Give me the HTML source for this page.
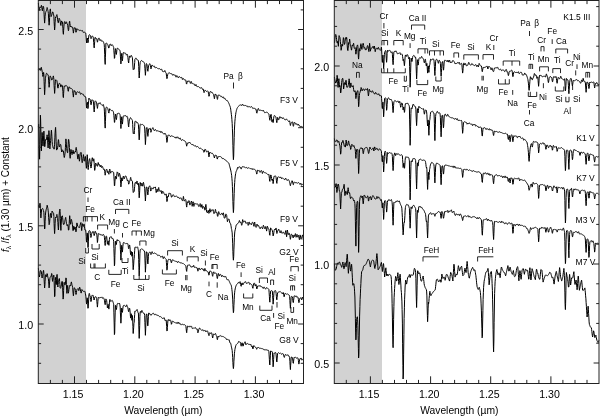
<!DOCTYPE html>
<html lang="en"><head><meta charset="utf-8"><title>J-band spectra of F, G, K and M stars</title>
<style>html,body{margin:0;padding:0;background:#fff}body{width:600px;height:416px;overflow:hidden}svg{display:block}</style>
</head><body>
<svg width="600" height="416" viewBox="0 0 600 416" font-family="'Liberation Sans', sans-serif" fill="#000">
<rect width="600" height="416" fill="#fff"/>
<rect x="38.3" y="0.5" width="47.7" height="383.0" fill="#d2d2d2" stroke="none"/><rect x="334.3" y="0.5" width="47.7" height="383.0" fill="#d2d2d2" stroke="none"/>
<g fill="none" stroke="#000" stroke-width="1.0" stroke-linejoin="round">
<polyline points="38.4,3.1 38.6,5.7 38.9,8.3 39.1,10.6 39.4,9.5 39.6,8.3 39.9,7.2 40.1,7.3 40.4,7.6 40.6,7.8 40.9,7.2 41.1,6.2 41.4,5.3 41.6,5.8 41.9,7.8 42.1,9.7 42.4,10.8 42.6,9.1 42.9,7.5 43.1,6.2 43.4,6.5 43.6,7.1 43.9,9.5 44.1,14.8 44.4,20.0 44.6,23.1 44.9,19.7 45.1,16.3 45.4,12.8 45.6,12.6 45.9,11.8 46.1,11.2 46.4,10.8 46.6,9.6 46.9,8.5 47.1,7.5 47.4,8.3 47.6,9.4 47.9,10.5 48.1,11.5 48.4,13.7 48.6,18.1 48.9,22.4 49.1,25.2 49.4,22.1 49.6,17.6 49.9,11.9 50.1,9.7 50.4,8.9 50.6,11.5 50.9,14.2 51.1,16.6 51.4,16.1 51.6,15.4 51.9,14.7 52.1,13.7 52.4,12.8 52.6,11.9 52.9,12.0 53.1,12.8 53.4,13.7 53.6,14.8 53.9,16.2 54.1,21.5 54.4,26.4 54.6,30.0 54.9,27.0 55.1,22.2 55.4,18.4 55.6,17.0 55.9,17.4 56.1,16.6 56.4,15.8 56.6,15.1 56.9,14.6 57.1,15.9 57.4,17.2 57.6,19.8 57.9,21.6 58.1,22.7 58.4,22.7 58.6,20.7 58.9,19.4 59.1,18.2 59.4,18.7 59.6,19.2 59.9,19.8 60.1,21.1 60.4,23.0 60.6,24.9 60.9,25.5 61.1,23.9 61.4,22.3 61.6,21.0 61.9,21.2 62.1,21.6 62.4,21.9 62.6,24.2 62.9,28.3 63.1,32.4 63.4,34.3 63.6,30.6 63.9,26.8 64.2,22.9 64.4,22.1 64.7,21.5 64.9,21.7 65.2,22.6 65.4,23.5 65.7,23.8 65.9,23.0 66.2,22.2 66.4,21.8 66.7,22.5 66.9,23.3 67.2,24.0 67.4,24.1 67.7,25.3 67.9,27.1 68.2,29.5 68.4,30.7 68.7,29.8 68.9,27.1 69.2,23.7 69.4,21.7 69.7,21.2 69.9,23.3 70.2,25.3 70.4,27.0 70.7,26.7 70.9,26.4 71.2,26.1 71.4,26.4 71.7,26.8 71.9,27.3 72.2,27.3 72.4,27.0 72.7,27.2 72.9,29.2 73.2,31.2 73.4,33.1 73.7,31.1 73.9,29.5 74.2,27.9 74.4,27.8 74.7,27.7 74.9,27.7 75.2,27.8 75.4,29.1 75.7,30.7 75.9,32.3 76.2,32.1 76.4,30.6 76.7,29.1 76.9,28.6 77.2,29.2 77.4,29.7 77.7,29.9 77.9,29.8 78.2,29.7 78.4,29.8 78.7,29.9 78.9,29.9 79.2,30.0 79.4,30.2 79.7,30.6 79.9,30.9 80.2,30.7 80.4,30.5 80.7,30.2 80.9,30.3 81.2,30.5 81.4,30.7 81.7,30.9 81.9,30.7 82.2,30.6 82.4,30.5 82.7,31.1 82.9,31.7 83.2,32.3 83.4,32.5 83.7,32.5 83.9,32.5 84.2,32.4 84.4,32.3 84.7,32.2 84.9,32.3 85.2,32.5 85.4,32.8 85.7,33.1 85.9,34.7 86.2,37.9 86.4,41.0 86.7,43.0 86.9,40.8 87.2,38.5 87.4,38.0 87.7,40.5 87.9,42.8 88.2,42.2 88.4,39.6 88.7,37.0 88.9,35.3 89.2,35.0 89.4,34.7 89.7,34.7 89.9,34.9 90.2,35.2 90.4,36.3 90.7,37.4 90.9,38.6 91.2,38.5 91.4,37.6 91.7,36.7 91.9,36.1 92.2,36.1 92.4,36.1 92.7,36.2 92.9,36.5 93.2,37.1 93.4,38.8 93.7,42.3 93.9,45.8 94.2,47.9 94.4,45.2 94.7,41.7 94.9,38.0 95.2,37.3 95.4,37.5 95.7,38.1 95.9,38.8 96.2,38.9 96.4,38.7 96.7,38.7 96.9,39.6 97.2,41.0 97.4,42.2 97.7,41.4 97.9,40.2 98.2,38.9 98.4,38.4 98.7,38.3 98.9,38.3 99.2,38.2 99.4,38.9 99.7,39.7 99.9,40.5 100.2,40.6 100.4,40.1 100.7,39.7 100.9,39.7 101.2,40.2 101.4,40.8 101.7,41.3 101.9,41.2 102.2,41.1 102.4,41.0 102.7,41.1 102.9,41.3 103.2,41.5 103.4,41.9 103.7,42.6 103.9,43.4 104.2,44.1 104.4,47.3 104.7,54.3 104.9,61.0 105.2,64.4 105.4,57.3 105.7,49.9 105.9,43.3 106.2,43.0 106.4,42.9 106.7,43.1 106.9,43.4 107.2,43.9 107.4,44.2 107.7,44.6 107.9,45.0 108.2,45.9 108.4,47.0 108.7,48.0 108.9,48.1 109.2,46.9 109.4,45.6 109.7,44.5 109.9,44.3 110.2,44.1 110.4,44.0 110.7,44.6 110.9,45.2 111.2,45.8 111.4,45.5 111.7,45.1 111.9,44.7 112.2,44.7 112.4,45.0 112.7,45.3 112.9,45.7 113.2,46.2 113.4,46.8 113.7,47.5 113.9,50.8 114.2,54.7 114.4,58.4 114.7,57.8 114.9,54.2 115.2,50.5 115.4,48.6 115.7,50.2 115.9,52.5 116.2,54.4 116.4,54.4 116.7,52.0 116.9,49.7 117.2,48.2 117.4,48.2 117.7,48.3 117.9,48.5 118.2,48.7 118.4,49.0 118.7,49.2 118.9,49.5 119.2,49.8 119.4,49.9 119.7,50.1 119.9,50.4 120.2,51.8 120.4,56.1 120.7,60.3 120.9,63.9 121.2,60.3 121.4,56.5 121.7,53.4 121.9,55.5 122.2,58.2 122.4,60.8 122.7,58.3 122.9,55.6 123.2,52.9 123.4,52.5 123.7,52.7 123.9,53.0 124.2,53.1 124.4,53.0 124.7,53.0 124.9,53.0 125.2,53.1 125.4,53.2 125.7,53.4 125.9,54.0 126.2,54.6 126.4,55.2 126.7,54.9 126.9,54.5 127.2,54.2 127.4,54.8 127.7,55.7 127.9,57.6 128.2,60.1 128.4,62.1 128.7,63.0 128.9,60.5 129.2,58.3 129.4,56.0 129.7,56.0 129.9,56.4 130.2,56.8 130.4,57.3 130.7,56.6 130.9,56.0 131.2,55.3 131.4,55.5 131.7,55.9 131.9,56.5 132.2,57.1 132.4,57.9 132.7,62.0 132.9,66.0 133.2,69.7 133.4,69.3 133.7,69.2 133.9,68.9 134.2,69.2 134.4,66.0 134.7,62.6 134.9,59.3 135.2,58.9 135.4,58.5 135.7,58.2 135.9,57.9 136.2,58.2 136.4,58.8 136.7,59.4 136.9,59.7 137.2,59.8 137.4,59.9 137.7,60.0 137.9,60.0 138.2,60.2 138.4,60.5 138.7,66.5 138.9,72.4 139.2,78.0 139.4,75.3 139.7,70.3 139.9,65.1 140.2,62.6 140.4,61.9 140.7,61.3 140.9,60.9 141.2,60.7 141.4,60.5 141.7,60.5 141.9,60.8 142.2,61.1 142.4,61.4 142.7,61.4 142.9,61.5 143.2,61.5 143.4,61.7 143.7,62.0 143.9,62.3 144.2,62.8 144.4,63.3 144.7,64.6 144.9,68.5 145.2,72.0 145.4,75.3 145.7,71.5 145.9,68.0 146.2,64.3 146.4,63.5 146.7,63.8 146.9,64.2 147.2,66.1 147.4,68.6 147.7,70.9 147.9,71.3 148.2,69.1 148.4,67.0 148.7,65.3 148.9,65.1 149.2,64.5 149.4,63.9 149.7,63.6 149.9,63.9 150.2,64.4 150.4,65.7 150.7,67.3 150.9,68.9 151.2,68.5 151.4,67.2 151.7,65.8 151.9,65.1 152.2,65.1 152.4,65.5 152.7,66.0 152.9,66.2 153.2,66.3 153.4,66.3 153.7,66.3 153.9,66.2 154.2,66.1 154.4,66.1 154.7,66.7 154.9,67.3 155.2,68.0 155.4,68.0 155.7,67.7 155.9,67.5 156.2,67.5 156.4,67.5 156.7,67.6 156.9,67.7 157.2,67.9 157.4,68.1 157.7,68.4 157.9,68.6 158.2,68.9 158.4,69.1 158.7,68.9 158.9,68.6 159.2,68.3 159.4,68.5 159.7,68.9 159.9,69.2 160.2,69.4 160.4,69.4 160.7,69.5 160.9,69.4 161.2,69.3 161.4,69.1 161.7,69.1 161.9,69.8 162.2,70.6 162.4,71.3 162.7,71.4 162.9,71.4 163.2,71.5 163.4,71.7 163.7,71.8 163.9,72.0 164.2,71.7 164.4,71.2 164.7,70.6 164.9,70.5 165.2,71.2 165.4,71.9 165.7,72.5 165.9,72.8 166.2,73.1 166.4,75.0 166.7,76.9 166.9,78.7 167.2,78.1 167.4,76.4 167.7,74.7 167.9,73.9 168.2,73.7 168.4,73.2 168.7,72.8 168.9,72.6 169.2,72.8 169.4,72.9 169.7,73.1 169.9,73.2 170.2,73.4 170.4,73.5 170.7,73.6 170.9,73.7 171.2,73.8 171.4,73.8 171.7,73.8 171.9,73.7 172.2,74.1 172.4,74.6 172.7,75.2 172.9,75.4 173.2,75.0 173.4,74.6 173.7,74.3 173.9,74.6 174.2,74.9 174.4,75.2 174.7,75.1 174.9,75.1 175.2,75.0 175.4,75.6 175.7,76.4 175.9,77.1 176.2,77.1 176.4,76.4 176.7,75.7 176.9,75.5 177.2,75.9 177.4,76.3 177.7,76.8 177.9,77.2 178.2,77.6 178.4,78.0 178.7,77.5 178.9,76.9 179.2,76.4 179.4,76.5 179.7,76.8 179.9,77.0 180.2,77.3 180.4,77.5 180.7,77.7 180.9,77.8 181.2,77.6 181.4,77.4 181.7,77.3 181.9,78.0 182.2,78.7 182.4,79.5 182.7,79.1 182.9,78.7 183.2,78.3 183.4,78.6 183.7,79.1 183.9,79.6 184.2,79.8 184.4,79.8 184.7,79.7 184.9,79.7 185.2,79.8 185.4,79.8 185.7,80.0 185.9,80.8 186.2,82.3 186.4,83.7 186.7,84.1 186.9,82.9 187.2,81.6 187.4,80.9 187.7,81.3 187.9,81.8 188.2,81.7 188.4,81.3 188.7,80.9 188.9,80.7 189.2,81.0 189.4,81.2 189.7,81.6 189.9,82.2 190.2,82.8 190.4,83.4 190.7,82.8 190.9,82.1 191.2,81.4 191.4,81.9 191.7,82.7 191.9,83.5 192.2,83.8 192.4,83.7 192.7,83.5 192.9,83.5 193.2,83.7 193.4,83.8 193.7,84.0 193.9,84.0 194.2,84.0 194.4,84.1 194.7,84.7 194.9,85.4 195.2,86.0 195.4,85.7 195.7,85.1 195.9,84.5 196.2,84.7 196.4,85.5 196.7,86.2 196.9,86.6 197.2,86.6 197.4,86.6 197.7,86.6 197.9,86.6 198.2,86.6 198.4,86.5 198.7,86.7 198.9,86.9 199.2,87.1 199.4,87.4 199.7,87.8 199.9,88.1 200.2,88.1 200.4,88.0 200.7,87.9 200.9,87.8 201.2,87.7 201.4,87.6 201.7,87.7 201.9,88.2 202.2,88.8 202.4,89.3 202.7,89.2 202.9,89.1 203.2,89.0 203.4,90.0 203.7,91.3 203.9,92.5 204.2,92.5 204.4,91.6 204.7,90.7 204.9,90.2 205.2,90.3 205.4,90.4 205.7,90.5 205.9,90.8 206.2,91.2 206.4,91.5 206.7,91.3 206.9,91.1 207.2,90.9 207.4,91.0 207.7,91.1 207.9,91.3 208.2,91.6 208.4,93.1 208.7,94.7 208.9,96.3 209.2,96.1 209.4,94.8 209.7,93.3 209.9,92.1 210.2,91.7 210.4,91.3 210.7,91.6 210.9,92.0 211.2,92.4 211.4,92.4 211.7,92.2 211.9,92.1 212.2,92.3 212.4,92.8 212.7,93.3 212.9,93.7 213.2,93.9 213.4,94.2 213.7,94.7 213.9,96.1 214.2,97.5 214.4,98.7 214.7,97.2 214.9,95.6 215.2,94.0 215.4,94.0 215.7,94.5 215.9,95.1 216.2,95.2 216.4,94.9 216.7,95.4 216.9,96.8 217.2,98.6 217.4,99.4 217.7,98.4 217.9,96.7 218.2,95.4 218.4,95.0 218.7,95.0 218.9,95.1 219.2,95.2 219.4,95.3 219.7,95.3 219.9,95.4 220.2,95.6 220.4,96.0 220.7,96.5 220.9,96.7 221.2,96.5 221.4,96.4 221.7,96.4 221.9,96.9 222.2,97.3 222.4,97.7 222.7,97.4 222.9,97.1 223.2,96.8 223.4,97.2 223.7,97.8 223.9,98.4 224.2,98.5 224.4,98.3 224.7,98.1 224.9,98.2 225.2,98.8 225.4,99.4 225.7,99.9 225.9,100.1 226.2,100.2 226.4,100.4 226.7,100.4 226.9,100.4 227.2,100.4 227.4,100.7 227.7,101.2 227.9,101.6 228.2,102.0 228.4,102.4 228.7,102.9 228.9,103.4 229.2,104.1 229.4,104.7 229.7,105.5 229.9,106.0 230.2,106.7 230.4,107.5 230.7,109.1 230.9,110.8 231.2,112.9 231.4,114.7 231.7,116.9 231.9,119.7 232.2,123.6 232.4,128.8 232.7,136.0 232.9,145.3 233.2,155.0 233.4,159.7 233.7,156.0 233.9,146.8 234.2,137.5 234.4,130.1 234.7,124.9 234.9,121.2 235.2,118.4 235.4,116.1 235.7,114.3 235.9,112.7 236.2,111.5 236.4,110.4 236.7,109.5 236.9,108.7 237.2,108.2 237.4,107.7 237.7,107.3 237.9,107.0 238.2,106.7 238.4,106.5 238.7,106.1 238.9,105.8 239.2,105.5 239.4,105.3 239.7,105.1 239.9,105.0 240.2,104.9 240.4,104.9 240.7,105.0 240.9,105.1 241.2,105.3 241.4,105.5 241.7,105.5 241.9,105.0 242.2,104.5 242.4,104.0 242.7,104.5 242.9,105.0 243.2,105.5 243.4,105.4 243.7,105.3 243.9,105.1 244.2,105.2 244.4,105.4 244.7,105.7 244.9,105.8 245.2,105.7 245.4,105.5 245.7,105.4 245.9,105.7 246.2,106.0 246.4,106.2 246.7,106.1 246.9,106.0 247.2,105.9 247.4,106.3 247.7,106.7 247.9,107.1 248.2,107.1 248.4,106.8 248.7,106.5 248.9,106.4 249.2,106.5 249.4,106.6 249.7,106.8 249.9,107.0 250.2,107.2 250.4,107.4 250.7,107.1 250.9,106.7 251.2,106.4 251.4,106.5 251.7,106.7 251.9,106.9 252.2,107.3 252.4,107.8 252.7,108.4 252.9,108.6 253.2,108.5 253.4,108.3 253.7,108.1 253.9,108.1 254.2,108.1 254.4,108.1 254.7,108.4 254.9,108.8 255.2,109.1 255.4,109.1 255.7,109.0 255.9,108.9 256.1,109.8 256.4,111.3 256.6,112.8 256.9,113.2 257.1,112.0 257.4,110.7 257.6,109.6 257.9,109.2 258.1,108.8 258.4,108.4 258.6,109.1 258.9,109.8 259.1,110.5 259.4,110.4 259.6,110.2 259.9,109.9 260.1,109.9 260.4,110.1 260.6,110.3 260.9,110.4 261.1,110.4 261.4,110.5 261.6,110.5 261.9,110.7 262.1,110.8 262.4,110.9 262.6,110.6 262.9,110.3 263.1,110.0 263.4,110.3 263.6,110.9 263.9,111.4 264.1,111.9 264.4,112.3 264.6,112.7 264.9,112.9 265.1,112.8 265.4,112.6 265.6,112.5 265.9,112.4 266.1,112.3 266.4,112.2 266.6,112.2 266.9,112.2 267.1,112.2 267.4,112.4 267.6,112.7 267.9,113.0 268.1,113.3 268.4,113.5 268.6,113.8 268.9,114.1 269.1,115.4 269.4,117.5 269.6,119.5 269.9,120.3 270.1,118.7 270.4,117.0 270.6,115.0 270.9,114.6 271.1,114.3 271.4,116.3 271.6,119.1 271.9,121.8 272.1,121.7 272.4,119.7 272.6,119.8 272.9,120.6 273.1,122.6 273.4,121.1 273.6,118.8 273.9,116.6 274.1,115.7 274.4,115.6 274.6,115.7 274.9,115.8 275.1,116.0 275.4,116.2 275.6,116.6 275.9,116.9 276.1,118.3 276.4,120.3 276.6,122.3 276.9,122.7 277.1,120.8 277.4,118.9 277.6,117.4 277.9,117.9 278.1,118.4 278.4,119.6 278.6,119.7 278.9,119.7 279.1,118.8 279.4,117.9 279.6,117.1 279.9,116.6 280.1,116.9 280.4,117.4 280.6,117.9 280.9,118.1 281.1,117.8 281.4,117.6 281.6,117.5 281.9,117.9 282.1,118.3 282.4,118.7 282.6,118.3 282.9,118.0 283.1,117.6 283.4,117.9 283.6,118.3 283.9,118.8 284.1,119.1 284.4,119.3 284.6,119.6 284.9,119.8 285.1,119.9 285.4,119.9 285.6,120.0 285.9,119.6 286.1,119.2 286.4,118.9 286.6,119.2 286.9,119.4 287.1,119.7 287.4,120.0 287.6,120.2 287.9,120.5 288.1,120.8 288.4,121.1 288.6,121.5 288.9,121.6 289.1,121.2 289.4,120.8 289.6,120.9 289.9,122.4 290.1,124.0 290.4,125.5 290.6,124.7 290.9,123.8 291.1,123.0 291.4,122.5 291.6,122.2 291.9,121.9 292.1,121.8 292.4,121.9 292.6,122.5 292.9,123.8 293.1,125.5 293.4,126.3 293.6,125.7 293.9,124.1 294.1,122.7 294.4,122.1 294.6,122.4 294.9,122.7 295.1,123.0 295.4,123.4 295.6,123.9 295.9,124.3 296.1,124.4 296.4,124.0 296.6,123.7 296.9,123.8 297.1,124.3 297.4,124.8 297.6,125.2 297.9,124.8 298.1,124.4 298.4,124.0 298.6,124.6 298.9,125.2 299.1,125.8 299.4,125.9 299.6,125.9 299.9,125.8 300.1,126.1 300.4,126.5 300.6,126.9 300.9,127.1 301.1,126.8 301.4,126.6 301.6,126.4 301.9,126.6 302.1,126.8 302.4,127.0 302.6,127.1 302.9,127.2 303.1,127.4 303.4,127.7"/><polyline points="38.4,69.8 38.6,70.1 38.9,70.3 39.1,70.0 39.4,69.6 39.6,69.1 39.9,69.1 40.1,69.6 40.4,70.4 40.6,70.2 40.9,68.8 41.1,67.7 41.4,67.3 41.6,68.9 41.9,70.0 42.1,71.1 42.4,72.4 42.6,74.4 42.9,76.5 43.1,75.9 43.4,74.3 43.6,72.4 43.9,74.6 44.1,81.7 44.4,89.6 44.6,94.7 44.9,90.0 45.1,84.2 45.4,78.2 45.6,77.2 45.9,75.7 46.1,74.4 46.4,73.4 46.6,73.3 46.9,73.4 47.1,73.9 47.4,74.3 47.6,74.5 47.9,74.6 48.1,74.9 48.4,76.4 48.6,80.2 48.9,84.3 49.1,87.3 49.4,84.9 49.6,81.3 49.9,77.1 50.1,75.9 50.4,76.1 50.6,76.6 50.9,77.2 51.1,77.9 51.4,78.8 51.6,79.9 51.9,80.1 52.1,79.8 52.4,79.4 52.6,78.8 52.9,77.8 53.1,76.5 53.4,75.9 53.6,77.3 53.9,79.5 54.1,85.6 54.4,89.9 54.6,93.4 54.9,90.1 55.1,85.4 55.4,81.2 55.6,79.8 55.9,79.9 56.1,80.0 56.4,80.1 56.6,80.3 56.9,80.6 57.1,82.1 57.4,84.0 57.6,87.2 57.9,88.1 58.1,88.1 58.4,86.2 58.6,84.9 58.9,84.1 59.1,83.4 59.4,83.3 59.6,83.6 59.9,83.5 60.1,84.0 60.4,84.7 60.6,86.1 60.9,87.1 61.1,86.3 61.4,85.4 61.6,84.8 61.9,85.4 62.1,86.1 62.4,85.8 62.6,87.9 62.9,91.6 63.1,96.3 63.4,97.6 63.6,93.7 63.9,89.4 64.2,86.0 64.4,85.9 64.7,86.1 64.9,86.3 65.2,86.3 65.4,86.1 65.7,85.5 65.9,85.4 66.2,85.4 66.4,85.9 66.7,86.2 66.9,86.4 67.2,86.5 67.4,86.7 67.7,87.8 67.9,89.7 68.2,91.3 68.4,91.2 68.7,89.1 68.9,87.3 69.2,86.8 69.4,87.6 69.7,88.1 69.9,87.9 70.2,87.9 70.4,88.3 70.7,88.5 70.9,88.7 71.2,88.4 71.4,88.5 71.7,88.7 71.9,89.0 72.2,89.3 72.4,89.5 72.7,90.6 72.9,93.4 73.2,95.5 73.4,97.1 73.7,93.9 73.9,92.2 74.2,90.5 74.4,91.2 74.7,91.4 74.9,91.4 75.2,91.3 75.4,92.3 75.7,93.7 75.9,94.9 76.2,94.5 76.4,93.4 76.7,92.4 76.9,92.0 77.2,91.9 77.4,91.8 77.7,91.7 77.9,92.0 78.2,92.3 78.4,92.4 78.7,92.3 78.9,92.2 79.2,92.0 79.4,91.9 79.7,91.9 79.9,92.6 80.2,93.5 80.4,94.2 80.7,94.3 80.9,93.7 81.2,93.4 81.4,93.3 81.7,93.8 81.9,93.9 82.2,94.1 82.4,94.1 82.7,94.1 82.9,94.1 83.2,94.1 83.4,94.5 83.7,95.2 83.9,95.9 84.2,96.3 84.4,96.2 84.7,96.1 84.9,96.0 85.2,96.3 85.4,96.7 85.7,97.0 85.9,98.8 86.2,102.4 86.4,106.1 86.7,108.1 86.9,105.3 87.2,102.4 87.4,102.1 87.7,105.4 87.9,108.6 88.2,107.8 88.4,104.1 88.7,100.4 88.9,98.1 89.2,98.4 89.4,98.8 89.7,99.3 89.9,99.3 90.2,99.4 90.4,100.8 90.7,102.8 90.9,104.7 91.2,104.7 91.4,103.1 91.7,101.2 91.9,99.9 92.2,99.8 92.4,100.0 92.7,100.2 92.9,100.5 93.2,100.5 93.4,101.8 93.7,105.0 93.9,109.3 94.2,112.0 94.4,109.5 94.7,105.8 94.9,101.8 95.2,101.0 95.4,100.8 95.7,101.1 95.9,101.4 96.2,101.8 96.4,102.2 96.7,103.0 96.9,105.0 97.2,106.8 97.4,108.4 97.7,106.8 97.9,105.1 98.2,103.4 98.4,103.0 98.7,103.2 98.9,103.4 99.2,103.7 99.4,103.6 99.7,103.1 99.9,102.7 100.2,102.7 100.4,103.2 100.7,103.7 100.9,104.2 101.2,104.5 101.4,104.8 101.7,105.1 101.9,105.3 102.2,105.5 102.4,105.6 102.7,105.3 102.9,104.8 103.2,104.4 103.4,104.8 103.7,105.8 103.9,106.9 104.2,108.0 104.4,111.1 104.7,117.9 104.9,124.4 105.2,128.1 105.4,121.6 105.7,114.8 105.9,108.1 106.2,107.5 106.4,107.1 106.7,107.0 106.9,107.2 107.2,107.5 107.4,107.9 107.7,108.4 107.9,109.0 108.2,110.1 108.4,111.5 108.7,112.9 108.9,113.1 109.2,111.6 109.4,110.0 109.7,108.7 109.9,109.0 110.2,109.3 110.4,109.6 110.7,109.9 110.9,110.2 111.2,110.5 111.4,110.6 111.7,110.5 111.9,110.4 112.2,110.4 112.4,110.5 112.7,110.6 112.9,110.8 113.2,111.4 113.4,112.2 113.7,113.0 113.9,115.7 114.2,119.2 114.4,122.4 114.7,122.3 114.9,119.3 115.2,116.3 115.4,114.1 115.7,114.9 115.9,116.7 116.2,118.8 116.4,119.6 116.7,117.6 116.9,115.5 117.2,113.6 117.4,113.5 117.7,113.5 117.9,113.4 118.2,113.3 118.4,113.3 118.7,113.3 118.9,113.3 119.2,113.3 119.4,113.5 119.7,113.9 119.9,114.4 120.2,115.7 120.4,120.1 120.7,124.5 120.9,128.5 121.2,124.6 121.4,120.5 121.7,116.8 121.9,118.8 122.2,121.5 122.4,124.1 122.7,121.6 122.9,119.1 123.2,116.5 123.4,115.9 123.7,115.9 123.9,115.9 124.2,115.9 124.4,115.8 124.7,115.7 124.9,115.6 125.2,115.6 125.4,115.6 125.7,115.5 125.9,116.0 126.2,116.4 126.4,116.8 126.7,116.7 126.9,116.5 127.2,116.3 127.4,116.8 127.7,117.7 127.9,119.7 128.2,122.9 128.4,125.5 128.7,126.9 128.9,124.2 129.2,121.8 129.4,119.4 129.7,119.5 129.9,118.8 130.2,118.2 130.4,117.6 130.7,117.8 130.9,118.1 131.2,118.5 131.4,118.8 131.7,119.1 131.9,119.6 132.2,120.0 132.4,120.4 132.7,124.6 132.9,128.9 133.2,133.4 133.4,133.1 133.7,133.2 133.9,133.3 134.2,134.0 134.4,130.6 134.7,126.4 134.9,122.0 135.2,121.3 135.4,121.0 135.7,121.1 135.9,121.3 136.2,121.6 136.4,122.1 136.7,122.6 136.9,123.0 137.2,122.8 137.4,122.7 137.7,122.7 137.9,123.2 138.2,123.8 138.4,124.6 138.7,129.8 138.9,135.0 139.2,139.9 139.4,137.0 139.7,132.0 139.9,126.8 140.2,124.5 140.4,124.2 140.7,124.1 140.9,124.1 141.2,124.3 141.4,124.5 141.7,124.7 141.9,124.6 142.2,124.5 142.4,124.4 142.7,124.6 142.9,124.9 143.2,125.2 143.4,125.3 143.7,125.4 143.9,125.5 144.2,125.8 144.4,126.4 144.7,128.0 144.9,133.5 145.2,139.2 145.4,144.6 145.7,140.1 145.9,134.9 146.2,129.5 146.4,128.1 146.7,127.6 146.9,127.4 147.2,128.9 147.4,132.1 147.7,135.5 147.9,136.4 148.2,133.7 148.4,131.0 148.7,128.8 148.9,128.9 149.2,128.9 149.4,128.9 149.7,129.0 149.9,128.5 150.2,128.3 150.4,129.0 150.7,130.5 150.9,132.3 151.2,131.7 151.4,130.7 151.7,129.5 151.9,129.2 152.2,129.0 152.4,128.4 152.7,127.8 152.9,127.6 153.2,128.2 153.4,128.9 153.7,129.6 153.9,130.1 154.2,130.5 154.4,130.9 154.7,130.6 154.9,130.0 155.2,129.5 155.4,129.5 155.7,129.7 155.9,129.9 156.2,130.2 156.4,130.6 156.7,131.0 156.9,131.3 157.2,131.0 157.4,130.8 157.7,130.6 157.9,130.7 158.2,130.8 158.4,130.9 158.7,131.2 158.9,131.5 159.2,131.8 159.4,131.7 159.7,131.4 159.9,131.0 160.2,131.1 160.4,131.7 160.7,132.3 160.9,132.7 161.2,132.3 161.4,131.9 161.7,131.5 161.9,131.9 162.2,132.3 162.4,132.8 162.7,133.0 162.9,133.1 163.2,133.3 163.4,133.5 163.7,133.8 163.9,134.2 164.2,134.2 164.4,133.7 164.7,133.3 164.9,133.0 165.2,133.4 165.4,133.9 165.7,134.4 165.9,134.7 166.2,135.1 166.4,137.6 166.7,140.1 166.9,142.4 167.2,141.5 167.4,138.9 167.7,136.6 167.9,135.3 168.2,135.3 168.4,135.2 168.7,135.2 168.9,135.2 169.2,135.2 169.4,135.3 169.7,135.4 169.9,135.8 170.2,136.2 170.4,136.7 170.7,136.5 170.9,136.1 171.2,135.8 171.4,135.8 171.7,135.9 171.9,136.0 172.2,136.1 172.4,136.2 172.7,136.3 172.9,136.4 173.2,136.5 173.4,136.5 173.7,136.6 173.9,136.8 174.2,136.9 174.4,137.0 174.7,137.4 174.9,137.8 175.2,138.2 175.4,138.0 175.7,137.5 175.9,137.0 176.2,136.9 176.4,137.4 176.7,137.9 176.9,138.2 177.2,137.8 177.4,137.3 177.7,136.8 177.9,137.1 178.2,137.4 178.4,137.6 178.7,138.1 178.9,138.6 179.2,139.1 179.4,139.0 179.7,138.5 179.9,138.0 180.2,137.9 180.4,138.5 180.7,139.2 180.9,139.7 181.2,140.0 181.4,140.3 181.7,140.6 181.9,140.2 182.2,139.9 182.4,139.5 182.7,139.6 182.9,139.8 183.2,140.0 183.4,140.2 183.7,140.5 183.9,140.7 184.2,140.9 184.4,140.8 184.7,140.8 184.9,140.9 185.2,141.2 185.4,141.5 185.7,141.9 185.9,142.4 186.2,143.7 186.4,145.0 186.7,146.2 186.9,145.3 187.2,144.4 187.4,143.1 187.7,143.0 187.9,142.8 188.2,142.8 188.4,142.9 188.7,143.0 188.9,143.1 189.2,142.7 189.4,142.3 189.7,142.0 189.9,142.5 190.2,142.9 190.4,143.4 190.7,143.7 190.9,143.8 191.2,144.0 191.4,144.2 191.7,144.5 191.9,144.8 192.2,144.9 192.4,144.6 192.7,144.4 192.9,144.3 193.2,144.7 193.4,145.1 193.7,145.5 193.9,145.7 194.2,145.9 194.4,146.1 194.7,145.9 194.9,145.7 195.2,145.4 195.4,145.6 195.7,146.1 195.9,146.6 196.2,146.8 196.4,146.8 196.7,146.7 196.9,146.6 197.2,146.5 197.4,146.5 197.7,146.4 197.9,146.7 198.2,147.0 198.4,147.3 198.7,147.6 198.9,148.0 199.2,148.4 199.4,148.5 199.7,148.4 199.9,148.2 200.2,148.2 200.4,148.2 200.7,148.3 200.9,148.4 201.2,148.6 201.4,148.9 201.7,149.2 201.9,149.3 202.2,149.4 202.4,149.5 202.7,149.6 202.9,149.8 203.2,150.0 203.4,150.8 203.7,151.6 203.9,152.3 204.2,152.0 204.4,151.0 204.7,150.0 204.9,149.3 205.2,149.4 205.4,149.5 205.7,149.6 205.9,150.4 206.2,151.1 206.4,151.8 206.7,151.9 206.9,151.8 207.2,151.7 207.4,151.4 207.7,151.1 207.9,150.8 208.2,151.0 208.4,152.9 208.7,155.1 208.9,156.9 209.2,156.2 209.4,154.3 209.7,152.4 209.9,152.0 210.2,152.3 210.4,152.7 210.7,152.9 210.9,153.1 211.2,153.3 211.4,153.3 211.7,153.2 211.9,153.0 212.2,153.0 212.4,153.4 212.7,153.7 212.9,154.1 213.2,154.3 213.4,154.6 213.7,155.2 213.9,156.2 214.2,157.1 214.4,158.0 214.7,156.9 214.9,156.1 215.2,155.1 215.4,155.1 215.7,155.2 215.9,155.4 216.2,155.5 216.4,155.5 216.7,156.4 216.9,157.7 217.2,158.9 217.4,159.1 217.7,157.6 217.9,156.9 218.2,156.5 218.4,157.1 218.7,157.0 218.9,156.8 219.2,156.5 219.4,156.5 219.7,156.5 219.9,156.5 220.2,156.5 220.4,156.6 220.7,156.7 220.9,156.8 221.2,157.0 221.4,157.3 221.7,157.5 221.9,157.9 222.2,158.4 222.4,158.8 222.7,158.6 222.9,158.4 223.2,158.1 223.4,158.3 223.7,158.7 223.9,159.1 224.2,159.4 224.4,159.5 224.7,159.6 224.9,159.7 225.2,159.8 225.4,159.9 225.7,160.0 225.9,160.3 226.2,160.6 226.4,160.9 226.7,161.2 226.9,161.5 227.2,161.8 227.4,162.0 227.7,162.1 227.9,162.3 228.2,162.5 228.4,162.7 228.7,163.0 228.9,163.4 229.2,164.3 229.4,165.3 229.7,166.3 229.9,167.1 230.2,168.0 230.4,169.0 230.7,170.0 230.9,171.0 231.2,172.4 231.4,173.9 231.7,175.7 231.9,178.2 232.2,181.7 232.4,186.6 232.7,193.2 232.9,201.4 233.2,209.1 233.4,212.6 233.7,209.1 233.9,201.3 234.2,193.4 234.4,187.1 234.7,182.6 234.9,179.3 235.2,176.9 235.4,175.0 235.7,173.5 235.9,172.3 236.2,171.4 236.4,170.9 236.7,170.4 236.9,169.9 237.2,169.0 237.4,168.1 237.7,167.3 237.9,167.5 238.2,167.8 238.4,168.2 238.7,167.8 238.9,167.3 239.2,166.8 239.4,166.7 239.7,167.0 239.9,167.2 240.2,167.3 240.4,167.3 240.7,167.9 240.9,168.5 241.2,169.1 241.4,168.5 241.7,167.7 241.9,167.0 242.2,166.7 242.4,166.7 242.7,166.7 242.9,166.7 243.2,166.8 243.4,166.8 243.7,166.8 243.9,166.9 244.2,166.9 244.4,167.0 244.7,167.1 244.9,167.2 245.2,167.5 245.4,167.8 245.7,168.1 245.9,167.8 246.2,167.6 246.4,167.3 246.7,167.5 246.9,167.8 247.2,168.2 247.4,168.3 247.7,168.2 247.9,168.2 248.2,168.1 248.4,167.9 248.7,167.7 248.9,167.6 249.2,167.9 249.4,168.1 249.7,168.4 249.9,168.5 250.2,168.5 250.4,168.6 250.7,168.7 250.9,168.9 251.2,169.0 251.4,168.9 251.7,168.7 251.9,168.5 252.2,168.5 252.4,169.0 252.7,169.5 252.9,169.8 253.2,169.4 253.4,169.1 253.7,168.8 253.9,169.0 254.2,169.2 254.4,169.3 254.7,169.6 254.9,169.8 255.2,170.1 255.4,170.2 255.7,170.3 255.9,170.4 256.1,171.3 256.4,172.6 256.6,173.9 256.9,174.1 257.1,172.7 257.4,171.3 257.6,170.2 257.9,170.3 258.1,170.4 258.4,170.6 258.6,170.6 258.9,170.4 259.1,170.3 259.4,170.7 259.6,171.5 259.9,172.2 260.1,172.4 260.4,171.8 260.6,171.2 260.9,170.7 261.1,170.7 261.4,170.6 261.6,170.6 261.9,171.6 262.1,172.5 262.4,173.5 262.6,173.0 262.9,172.1 263.1,171.3 263.4,171.2 263.6,171.6 263.9,172.0 264.1,172.3 264.4,172.6 264.6,172.8 264.9,173.0 265.1,173.0 265.4,172.9 265.6,172.8 265.9,172.9 266.1,173.0 266.4,173.1 266.6,173.4 266.9,173.7 267.1,173.9 267.4,174.2 267.6,174.5 267.9,174.8 268.1,174.8 268.4,174.6 268.6,174.4 268.9,174.3 269.1,176.0 269.4,178.5 269.6,181.0 269.9,181.4 270.1,179.2 270.4,176.9 270.6,175.1 270.9,175.1 271.1,175.1 271.4,176.6 271.6,178.5 271.9,180.3 272.1,180.3 272.4,179.1 272.6,180.0 272.9,181.5 273.1,183.6 273.4,181.9 273.6,179.3 273.9,177.1 274.1,176.2 274.4,176.3 274.6,176.2 274.9,176.0 275.1,176.0 275.4,176.0 275.6,176.1 275.9,176.3 276.1,177.8 276.4,180.3 276.6,182.8 276.9,183.4 277.1,181.3 277.4,179.1 277.6,177.3 277.9,177.1 278.1,177.0 278.4,176.9 278.6,176.9 278.9,176.9 279.1,177.0 279.4,177.2 279.6,177.5 279.9,177.9 280.1,177.9 280.4,177.5 280.6,177.1 280.9,176.9 281.1,177.5 281.4,178.2 281.6,178.8 281.9,178.5 282.1,178.2 282.4,177.9 282.6,177.9 282.9,178.1 283.1,178.3 283.4,178.6 283.6,178.9 283.9,179.2 284.1,179.5 284.4,179.5 284.6,179.6 284.9,179.6 285.1,179.0 285.4,178.5 285.6,178.0 285.9,178.6 286.1,179.1 286.4,179.7 286.6,180.0 286.9,180.3 287.1,180.6 287.4,180.4 287.6,180.0 287.9,179.6 288.1,179.4 288.4,179.6 288.6,179.8 288.9,180.2 289.1,180.8 289.4,181.4 289.6,182.4 289.9,183.6 290.1,184.7 290.4,185.7 290.6,184.7 290.9,183.8 291.1,182.9 291.4,182.4 291.6,181.6 291.9,180.9 292.1,180.7 292.4,181.0 292.6,182.0 292.9,183.3 293.1,184.5 293.4,184.7 293.6,183.8 293.9,182.8 294.1,182.0 294.4,181.9 294.6,182.1 294.9,182.4 295.1,182.6 295.4,182.7 295.6,182.7 295.9,182.7 296.1,182.7 296.4,182.7 296.6,182.8 296.9,182.8 297.1,183.0 297.4,183.2 297.6,183.3 297.9,183.0 298.1,182.7 298.4,182.4 298.6,182.5 298.9,182.8 299.1,183.1 299.4,183.5 299.6,183.9 299.9,184.4 300.1,184.4 300.4,183.9 300.6,183.4 300.9,183.1 301.1,183.8 301.4,184.6 301.6,185.3 301.9,185.0 302.1,184.7 302.4,184.4 302.6,184.3 302.9,184.2 303.1,184.1 303.4,184.3"/><polyline points="38.4,127.1 38.6,124.2 38.9,133.0 39.1,144.6 39.4,156.0 39.6,159.2 39.9,144.9 40.1,128.9 40.4,115.2 40.6,119.0 40.9,132.3 41.1,143.9 41.4,150.9 41.6,143.8 41.9,137.5 42.1,132.4 42.4,135.8 42.6,141.1 42.9,145.9 43.1,146.1 43.4,141.2 43.6,135.2 43.9,131.1 44.1,135.0 44.4,141.0 44.6,146.5 44.9,146.7 45.1,144.8 45.4,141.2 45.6,140.1 45.9,139.1 46.1,139.4 46.4,139.6 46.6,138.1 46.9,136.5 47.1,134.8 47.4,136.8 47.6,140.8 47.9,144.9 48.1,148.0 48.4,142.4 48.6,136.4 48.9,130.6 49.1,132.5 49.4,139.0 49.6,145.3 49.9,148.9 50.1,146.1 50.4,143.4 50.6,140.6 50.9,137.1 51.1,133.6 51.4,130.2 51.6,132.0 51.9,136.7 52.1,141.4 52.4,144.5 52.6,145.6 52.9,146.7 53.1,147.7 53.4,148.0 53.6,147.9 53.9,148.0 54.1,149.2 54.4,146.8 54.6,144.2 54.9,137.2 55.1,132.8 55.4,128.7 55.6,127.4 55.9,133.7 56.1,141.3 56.4,148.0 56.6,150.1 56.9,149.3 57.1,148.9 57.4,149.0 57.6,147.9 57.9,145.4 58.1,141.5 58.4,139.6 58.6,140.1 58.9,143.2 59.1,146.0 59.4,147.0 59.6,146.5 59.9,145.8 60.1,144.8 60.4,144.3 60.6,144.4 60.9,145.4 61.1,148.0 61.4,150.1 61.6,152.0 61.9,151.7 62.1,150.8 62.4,150.1 62.6,149.8 62.9,150.7 63.1,151.4 63.4,151.0 63.6,153.1 63.9,155.1 64.2,157.5 64.4,157.4 64.7,155.7 64.9,154.0 65.2,151.7 65.4,147.5 65.7,143.3 65.9,138.9 66.2,141.6 66.4,144.9 66.7,148.3 66.9,150.7 67.2,151.7 67.4,152.6 67.7,152.8 67.9,148.5 68.2,144.3 68.4,139.5 68.7,139.4 68.9,141.1 69.2,143.7 69.4,147.5 69.7,152.2 69.9,156.2 70.2,158.3 70.4,154.8 70.7,151.1 70.9,149.4 71.2,149.8 71.4,151.9 71.7,153.4 71.9,154.6 72.2,154.5 72.4,153.2 72.7,151.6 72.9,150.2 73.2,150.4 73.4,152.0 73.7,153.5 73.9,154.0 74.2,153.4 74.4,152.7 74.7,151.8 74.9,151.8 75.2,151.9 75.4,152.0 75.7,150.5 75.9,148.9 76.2,147.4 76.4,148.6 76.7,150.2 76.9,151.7 77.2,153.8 77.4,156.0 77.7,158.2 77.9,159.1 78.2,157.4 78.4,155.7 78.7,154.3 78.9,156.6 79.2,158.9 79.4,161.2 79.7,159.7 79.9,156.7 80.2,153.8 80.4,152.7 80.7,152.8 80.9,153.0 81.2,152.6 81.4,154.8 81.7,157.9 81.9,161.0 82.2,162.7 82.4,161.8 82.7,160.8 82.9,158.5 83.2,156.5 83.4,154.6 83.7,156.1 83.9,158.4 84.2,161.0 84.4,161.2 84.7,160.3 84.9,158.1 85.2,156.8 85.4,156.4 85.7,159.0 85.9,162.8 86.2,166.6 86.4,168.3 86.7,165.2 86.9,159.9 87.2,154.7 87.4,156.2 87.7,161.8 87.9,167.3 88.2,169.6 88.4,167.5 88.7,164.4 88.9,162.0 89.2,160.2 89.4,159.3 89.7,158.6 89.9,159.8 90.2,161.6 90.4,164.4 90.7,166.7 90.9,168.0 91.2,167.8 91.4,166.5 91.7,163.1 91.9,160.0 92.2,157.7 92.4,157.8 92.7,159.3 92.9,160.8 93.2,161.2 93.4,159.6 93.7,158.8 93.9,158.8 94.2,163.5 94.4,167.2 94.7,170.4 94.9,169.5 95.2,167.1 95.4,164.7 95.7,163.0 95.9,163.4 96.2,164.0 96.4,165.1 96.7,165.4 96.9,165.9 97.2,166.2 97.4,166.3 97.7,165.1 97.9,163.8 98.2,162.5 98.4,163.0 98.7,164.0 98.9,165.0 99.2,165.4 99.4,164.6 99.7,165.0 99.9,165.5 100.2,167.0 100.4,166.7 100.7,165.7 100.9,165.1 101.2,165.6 101.4,166.7 101.7,167.6 101.9,167.2 102.2,166.8 102.4,166.4 102.7,166.7 102.9,167.6 103.2,168.5 103.4,169.4 103.7,169.3 103.9,169.1 104.2,169.0 104.4,169.4 104.7,171.4 104.9,173.3 105.2,175.2 105.4,173.8 105.7,172.3 105.9,170.4 106.2,169.8 106.4,169.4 106.7,169.0 106.9,169.7 107.2,170.9 107.4,172.1 107.7,172.6 107.9,171.7 108.2,171.5 108.4,172.5 108.7,173.9 108.9,174.3 109.2,172.4 109.4,170.4 109.7,169.1 109.9,169.4 110.2,171.1 110.4,172.2 110.7,173.2 110.9,172.3 111.2,171.9 111.4,171.6 111.7,171.8 111.9,171.7 112.2,171.3 112.4,171.4 112.7,171.7 112.9,172.2 113.2,172.4 113.4,172.3 113.7,172.4 113.9,176.2 114.2,181.1 114.4,185.9 114.7,185.4 114.9,181.9 115.2,178.2 115.4,176.2 115.7,176.8 115.9,177.9 116.2,179.1 116.4,178.7 116.7,176.2 116.9,173.5 117.2,171.9 117.4,172.1 117.7,172.4 117.9,173.0 118.2,174.2 118.4,175.4 118.7,176.4 118.9,175.3 119.2,174.3 119.4,173.2 119.7,173.8 119.9,174.6 120.2,176.0 120.4,179.6 120.7,183.3 120.9,186.9 121.2,184.4 121.4,181.0 121.7,177.8 121.9,178.0 122.2,179.4 122.4,180.8 122.7,179.6 122.9,178.1 123.2,176.5 123.4,176.0 123.7,176.8 123.9,177.8 124.2,178.9 124.4,178.5 124.7,177.6 124.9,176.7 125.2,176.1 125.4,176.0 125.7,175.9 125.9,176.0 126.2,176.7 126.4,177.4 126.7,178.1 126.9,179.0 127.2,180.0 127.4,181.0 127.7,180.4 127.9,180.2 128.2,180.7 128.4,182.5 128.7,184.2 128.9,183.8 129.2,182.8 129.4,181.5 129.7,181.4 129.9,181.0 130.2,179.7 130.4,178.4 130.7,177.4 130.9,178.5 131.2,179.5 131.4,180.5 131.7,180.6 131.9,180.7 132.2,180.8 132.4,181.2 132.7,184.9 132.9,188.6 133.2,192.5 133.4,192.4 133.7,192.1 133.9,191.5 134.2,191.4 134.4,188.9 134.7,186.3 134.9,183.4 135.2,182.8 135.4,182.2 135.7,182.6 135.9,183.2 136.2,183.8 136.4,183.2 136.7,182.1 136.9,181.1 137.2,181.3 137.4,182.6 137.7,183.9 137.9,184.7 138.2,183.9 138.4,183.3 138.7,187.1 138.9,192.5 139.2,197.8 139.4,195.9 139.7,190.7 139.9,185.3 140.2,182.4 140.4,182.9 140.7,184.3 140.9,185.8 141.2,185.9 141.4,184.7 141.7,183.5 141.9,183.1 142.2,184.2 142.4,185.3 142.7,186.2 142.9,184.9 143.2,183.6 143.4,182.3 143.7,183.3 143.9,184.5 144.2,185.8 144.4,186.6 144.7,188.2 144.9,192.9 145.2,197.2 145.4,201.0 145.7,196.5 145.9,192.0 146.2,187.8 146.4,187.0 146.7,187.0 146.9,187.1 147.2,188.9 147.4,191.7 147.7,194.4 147.9,195.0 148.2,192.3 148.4,189.5 148.7,187.2 148.9,186.9 149.2,186.5 149.4,186.1 149.7,185.8 149.9,185.9 150.2,187.4 150.4,189.3 150.7,191.0 150.9,191.0 151.2,189.7 151.4,188.4 151.7,187.8 151.9,187.8 152.2,188.0 152.4,188.3 152.7,188.7 152.9,189.1 153.2,188.9 153.4,188.2 153.7,187.4 153.9,187.0 154.2,187.2 154.4,187.4 154.7,187.6 154.9,187.4 155.2,187.1 155.4,186.9 155.7,188.7 155.9,190.6 156.2,192.6 156.4,192.1 156.7,190.7 156.9,189.3 157.2,189.2 157.4,190.3 157.7,191.4 157.9,191.7 158.2,190.2 158.4,188.7 158.7,187.5 158.9,188.6 159.2,189.7 159.4,190.8 159.7,191.1 159.9,191.4 160.2,191.6 160.4,191.4 160.7,190.9 160.9,190.4 161.2,190.7 161.4,192.0 161.7,193.2 161.9,193.7 162.2,192.8 162.4,192.0 162.7,191.2 162.9,191.5 163.2,191.7 163.4,192.0 163.7,192.6 163.9,193.2 164.2,193.9 164.4,194.3 164.7,194.7 164.9,195.1 165.2,195.0 165.4,194.5 165.7,194.1 165.9,193.9 166.2,194.0 166.4,196.1 166.7,198.7 166.9,201.6 167.2,201.1 167.4,198.5 167.7,196.7 167.9,196.0 168.2,196.8 168.4,196.1 168.7,194.7 168.9,193.3 169.2,192.9 169.4,193.2 169.7,193.6 169.9,193.8 170.2,193.7 170.4,193.6 170.7,193.7 170.9,194.8 171.2,196.0 171.4,197.2 171.7,197.1 171.9,196.8 172.2,196.5 172.4,196.0 172.7,195.4 172.9,194.9 173.2,194.7 173.4,195.0 173.7,195.2 173.9,195.5 174.2,196.0 174.4,196.6 174.7,197.0 174.9,196.8 175.2,196.6 175.4,196.4 175.7,196.2 175.9,196.1 176.2,195.9 176.4,196.0 176.7,196.2 176.9,196.4 177.2,196.7 177.4,197.2 177.7,197.6 177.9,197.9 178.2,197.6 178.4,197.3 178.7,197.2 178.9,197.6 179.2,198.1 179.4,198.6 179.7,198.6 179.9,198.4 180.2,198.3 180.4,198.2 180.7,198.0 180.9,197.8 181.2,198.1 181.4,198.8 181.7,199.6 181.9,200.1 182.2,200.4 182.4,200.7 182.7,200.7 182.9,199.3 183.2,197.9 183.4,196.4 183.7,197.8 183.9,199.4 184.2,201.0 184.4,201.1 184.7,200.7 184.9,200.2 185.2,199.9 185.4,199.6 185.7,199.5 185.9,200.3 186.2,202.8 186.4,205.3 186.7,207.1 186.9,205.3 187.2,203.5 187.4,201.7 187.7,202.0 187.9,202.3 188.2,202.7 188.4,202.2 188.7,201.4 188.9,200.6 189.2,201.0 189.4,202.6 189.7,204.2 189.9,205.1 190.2,204.3 190.4,203.6 190.7,202.9 190.9,202.3 191.2,201.7 191.4,201.0 191.7,202.7 191.9,204.5 192.2,206.3 192.4,205.5 192.7,203.6 192.9,201.8 193.2,201.8 193.4,203.6 193.7,205.4 193.9,206.4 194.2,205.3 194.4,204.2 194.7,203.3 194.9,203.4 195.2,203.6 195.4,203.7 195.7,203.8 195.9,203.9 196.2,204.0 196.4,204.0 196.7,203.9 196.9,203.9 197.2,203.9 197.4,203.9 197.7,203.9 197.9,204.2 198.2,205.0 198.4,205.8 198.7,206.5 198.9,206.4 199.2,206.3 199.4,206.2 199.7,205.4 199.9,204.5 200.2,203.6 200.4,204.4 200.7,205.8 200.9,207.2 201.2,207.3 201.4,206.1 201.7,204.8 201.9,204.5 202.2,205.9 202.4,207.3 202.7,208.5 202.9,207.9 203.2,207.2 203.4,206.5 203.7,206.6 203.9,206.8 204.2,207.0 204.4,207.9 204.7,209.0 204.9,210.2 205.2,209.6 205.4,207.4 205.7,205.2 205.9,204.4 206.2,207.0 206.4,209.6 206.7,212.0 206.9,212.3 207.2,212.6 207.4,212.9 207.7,212.1 207.9,211.2 208.2,210.3 208.4,211.0 208.7,212.2 208.9,213.4 209.2,213.0 209.4,211.2 209.7,209.5 209.9,208.7 210.2,209.9 210.4,211.2 210.7,212.2 210.9,211.4 211.2,210.7 211.4,209.9 211.7,210.1 211.9,210.3 212.2,210.5 212.4,210.3 212.7,209.9 212.9,209.5 213.2,210.0 213.4,211.4 213.7,212.8 213.9,213.6 214.2,213.5 214.4,213.3 214.7,213.0 214.9,211.8 215.2,210.6 215.4,209.4 215.7,210.4 215.9,211.7 216.2,212.9 216.4,212.7 216.7,212.4 216.9,212.6 217.2,214.0 217.4,215.8 217.7,216.4 217.9,216.1 218.2,214.0 218.4,212.7 218.7,211.6 218.9,212.2 219.2,212.9 219.4,213.5 219.7,214.0 219.9,214.4 220.2,214.8 220.4,214.8 220.7,214.5 220.9,214.3 221.2,213.9 221.4,213.5 221.7,213.1 221.9,213.0 222.2,213.7 222.4,214.5 222.7,215.1 222.9,214.3 223.2,213.6 223.4,212.8 223.7,214.3 223.9,216.1 224.2,217.8 224.4,218.2 224.7,218.1 224.9,218.0 225.2,217.2 225.4,216.0 225.7,214.7 225.9,213.9 226.2,214.4 226.4,214.8 226.7,215.4 226.9,217.5 227.2,219.6 227.4,221.7 227.7,221.1 227.9,220.3 228.2,219.5 228.4,219.1 228.7,219.0 228.9,218.9 229.2,219.5 229.4,220.7 229.7,222.1 229.9,223.1 230.2,223.2 230.4,223.4 230.7,223.9 230.9,225.3 231.2,226.9 231.4,228.7 231.7,229.6 231.9,230.9 232.2,232.9 232.4,237.4 232.7,243.8 232.9,251.6 233.2,258.1 233.4,260.2 233.7,256.7 233.9,249.8 234.2,242.9 234.4,237.2 234.7,233.0 234.9,231.1 235.2,229.9 235.4,229.1 235.7,227.7 235.9,226.3 236.2,225.2 236.4,224.7 236.7,224.5 236.9,224.5 237.2,224.3 237.4,223.8 237.7,223.4 237.9,223.1 238.2,222.9 238.4,222.8 238.7,222.6 238.9,221.9 239.2,221.2 239.4,220.5 239.7,221.1 239.9,221.9 240.2,222.6 240.4,222.3 240.7,222.2 240.9,222.1 241.2,223.2 241.4,224.4 241.7,225.3 241.9,225.1 242.2,223.0 242.4,221.2 242.7,219.6 242.9,220.4 243.2,221.2 243.4,222.1 243.7,222.0 243.9,221.9 244.2,221.8 244.4,221.5 244.7,221.2 244.9,220.8 245.2,221.1 245.4,222.0 245.7,222.8 245.9,223.4 246.2,223.2 246.4,223.1 246.7,222.9 246.9,222.8 247.2,222.7 247.4,222.5 247.7,223.4 247.9,224.4 248.2,225.4 248.4,224.8 248.7,223.5 248.9,222.2 249.2,222.0 249.4,222.9 249.7,223.8 249.9,224.3 250.2,224.0 250.4,223.8 250.7,223.6 250.9,224.0 251.2,224.3 251.4,224.7 251.7,224.0 251.9,223.2 252.2,222.5 252.4,222.3 252.7,222.3 252.9,222.4 253.2,223.1 253.4,224.4 253.7,225.8 253.9,226.3 254.2,224.8 254.4,223.3 254.7,222.1 254.9,223.6 255.2,225.1 255.4,226.5 255.7,226.9 255.9,227.1 256.1,227.4 256.4,226.6 256.6,225.5 256.9,224.3 257.1,224.1 257.4,224.9 257.6,225.7 257.9,226.2 258.1,225.9 258.4,225.6 258.6,225.5 258.9,226.2 259.1,226.9 259.4,227.6 259.6,228.1 259.9,228.5 260.1,228.8 260.4,228.5 260.6,227.8 260.9,227.0 261.1,226.8 261.4,227.0 261.6,227.2 261.9,227.5 262.1,228.0 262.4,228.5 262.6,228.9 262.9,227.6 263.1,226.4 263.4,225.2 263.6,225.7 263.9,226.3 264.1,227.0 264.4,227.7 264.6,228.3 264.9,228.9 265.1,228.7 265.4,227.7 265.6,226.7 265.9,226.5 266.1,228.2 266.4,229.8 266.6,231.1 266.9,229.5 267.1,227.8 267.4,226.2 267.6,226.7 267.9,227.5 268.1,228.2 268.4,228.6 268.6,228.7 268.9,229.0 269.1,230.4 269.4,232.7 269.6,234.9 269.9,235.3 270.1,232.7 270.4,230.1 270.6,227.9 270.9,228.1 271.1,228.5 271.4,228.9 271.6,229.3 271.9,229.8 272.1,230.4 272.4,230.5 272.6,232.3 272.9,234.0 273.1,236.0 273.4,235.4 273.6,234.0 273.9,232.2 274.1,230.6 274.4,229.7 274.6,229.0 274.9,229.3 275.1,229.5 275.4,229.8 275.6,229.0 275.9,228.2 276.1,228.1 276.4,229.9 276.6,232.2 276.9,233.5 277.1,232.8 277.4,231.8 277.6,231.1 277.9,231.1 278.1,230.3 278.4,229.5 278.6,229.0 278.9,229.6 279.1,230.2 279.4,230.8 279.6,231.5 279.9,232.2 280.1,233.0 280.4,232.5 280.6,231.6 280.9,230.7 281.1,230.7 281.4,231.7 281.6,232.7 281.9,233.3 282.1,233.2 282.4,233.1 282.6,233.0 282.9,232.6 283.1,232.3 283.4,231.9 283.6,232.3 283.9,232.8 284.1,233.3 284.4,233.7 284.6,234.0 284.9,234.4 285.1,233.8 285.4,232.3 285.6,230.8 285.9,230.5 286.1,232.8 286.4,235.0 286.6,236.8 286.9,234.5 287.1,232.3 287.4,230.0 287.6,231.3 287.9,232.9 288.1,234.5 288.4,234.5 288.6,233.9 288.9,233.3 289.1,233.2 289.4,233.4 289.6,233.9 289.9,235.6 290.1,237.5 290.4,239.3 290.6,238.4 290.9,236.7 291.1,234.9 291.4,234.2 291.6,234.3 291.9,234.5 292.1,234.7 292.4,235.0 292.6,235.9 292.9,237.2 293.1,238.0 293.4,237.7 293.6,236.2 293.9,235.1 294.1,235.1 294.4,235.9 294.6,236.5 294.9,235.5 295.1,234.6 295.4,233.6 295.6,234.7 295.9,236.0 296.1,237.3 296.4,236.8 296.6,235.6 296.9,234.4 297.1,234.4 297.4,235.5 297.6,236.6 297.9,237.2 298.1,236.4 298.4,235.7 298.6,235.3 298.9,236.7 299.1,238.2 299.4,239.7 299.6,238.3 299.9,236.6 300.1,234.9 300.4,235.6 300.6,237.3 300.9,238.9 301.1,239.3 301.4,238.4 301.6,237.6 301.9,236.8 302.1,236.0 302.4,235.3 302.6,234.9 302.9,236.7 303.1,238.5 303.4,240.3"/><polyline points="38.4,205.3 38.6,205.4 38.9,206.6 39.1,207.8 39.4,207.4 39.6,205.3 39.9,203.2 40.1,203.4 40.4,208.6 40.6,213.7 40.9,217.9 41.1,215.0 41.4,212.1 41.6,209.2 41.9,208.9 42.1,208.7 42.4,208.5 42.6,208.4 42.9,208.9 43.1,209.5 43.4,210.5 43.6,210.8 43.9,212.7 44.1,217.1 44.4,223.9 44.6,229.0 44.9,227.9 45.1,221.8 45.4,215.6 45.6,213.0 45.9,211.0 46.1,209.8 46.4,208.8 46.6,207.6 46.9,206.4 47.1,205.2 47.4,205.7 47.6,207.1 47.9,208.5 48.1,210.1 48.4,212.9 48.6,217.4 48.9,221.2 49.1,224.7 49.4,223.7 49.6,222.7 49.9,218.7 50.1,216.1 50.4,213.5 50.6,213.4 50.9,215.3 51.1,217.3 51.4,217.7 51.6,215.3 51.9,212.8 52.1,211.0 52.4,211.6 52.6,212.1 52.9,212.6 53.1,212.7 53.4,212.9 53.6,213.3 53.9,216.5 54.1,223.5 54.4,230.4 54.6,233.6 54.9,229.2 55.1,223.2 55.4,218.3 55.6,217.2 55.9,217.6 56.1,217.8 56.4,216.6 56.6,215.5 56.9,214.4 57.1,215.8 57.4,217.3 57.6,218.7 57.9,222.6 58.1,226.4 58.4,230.0 58.6,227.3 58.9,221.5 59.1,215.8 59.4,211.9 59.6,210.4 59.9,209.1 60.1,211.3 60.4,218.7 60.6,226.0 60.9,230.4 61.1,225.7 61.4,221.0 61.6,216.7 61.9,216.1 62.1,215.9 62.4,215.9 62.6,217.5 62.9,220.0 63.1,222.5 63.4,224.4 63.6,224.5 63.9,224.5 64.2,223.9 64.4,222.6 64.7,221.5 64.9,220.4 65.2,219.3 65.4,218.3 65.7,217.4 65.9,219.1 66.2,221.2 66.4,223.3 66.7,224.4 66.9,225.0 67.2,225.8 67.4,225.1 67.7,224.6 67.9,225.1 68.2,227.0 68.4,230.1 68.7,230.1 68.9,229.5 69.2,223.5 69.4,219.6 69.7,215.7 69.9,218.0 70.2,221.2 70.4,224.3 70.7,224.0 70.9,221.9 71.2,219.9 71.4,219.4 71.7,220.5 71.9,221.6 72.2,222.9 72.4,224.8 72.7,227.0 72.9,230.6 73.2,230.5 73.4,230.3 73.7,226.2 73.9,226.3 74.2,227.0 74.4,229.2 74.7,229.2 74.9,228.1 75.2,227.2 75.4,228.2 75.7,230.1 75.9,231.9 76.2,231.3 76.4,228.3 76.7,225.2 76.9,222.9 77.2,224.0 77.4,225.0 77.7,226.1 77.9,226.4 78.2,226.6 78.4,226.8 78.7,227.1 78.9,227.5 79.2,227.9 79.4,227.6 79.7,226.6 79.9,225.6 80.2,224.8 80.4,223.9 80.7,223.0 80.9,222.5 81.2,225.2 81.4,227.9 81.7,230.6 81.9,228.6 82.2,226.2 82.4,223.7 82.7,223.8 82.9,225.1 83.2,226.3 83.4,226.4 83.7,225.4 83.9,224.4 84.2,224.2 84.4,226.2 84.7,228.2 84.9,229.9 85.2,229.9 85.4,229.9 85.7,230.0 85.9,232.2 86.2,236.5 86.4,240.7 86.7,242.2 86.9,237.5 87.2,232.9 87.4,233.8 87.7,240.8 87.9,247.6 88.2,247.3 88.4,241.2 88.7,235.0 88.9,230.9 89.2,230.7 89.4,230.6 89.7,230.6 89.9,230.9 90.2,231.3 90.4,233.5 90.7,235.6 90.9,237.5 91.2,236.8 91.4,234.8 91.7,233.4 91.9,232.8 92.2,233.1 92.4,232.4 92.7,231.8 92.9,231.3 93.2,231.6 93.4,232.3 93.7,233.4 93.9,234.8 94.2,235.6 94.4,235.0 94.7,233.5 94.9,231.9 95.2,231.2 95.4,231.4 95.7,232.2 95.9,233.1 96.2,233.5 96.4,233.1 96.7,233.3 96.9,235.8 97.2,239.2 97.4,242.5 97.7,240.8 97.9,237.8 98.2,234.8 98.4,233.6 98.7,233.6 98.9,233.8 99.2,234.1 99.4,234.2 99.7,234.1 99.9,234.0 100.2,234.1 100.4,234.5 100.7,234.9 100.9,235.2 101.2,235.1 101.4,234.9 101.7,234.8 101.9,235.0 102.2,235.2 102.4,235.5 102.7,235.2 102.9,234.7 103.2,234.3 103.4,234.4 103.7,234.8 103.9,235.3 104.2,235.7 104.4,237.2 104.7,240.5 104.9,243.6 105.2,245.5 105.4,242.6 105.7,239.6 105.9,236.4 106.2,236.2 106.4,236.2 106.7,236.7 106.9,239.0 107.2,241.9 107.4,244.3 107.7,243.8 107.9,241.6 108.2,240.9 108.4,242.2 108.7,244.8 108.9,245.3 109.2,242.5 109.4,239.6 109.7,237.3 109.9,237.1 110.2,237.1 110.4,237.1 110.7,237.0 110.9,236.8 111.2,236.7 111.4,237.0 111.7,237.7 111.9,238.4 112.2,238.8 112.4,238.5 112.7,238.4 112.9,238.4 113.2,239.1 113.4,240.0 113.7,241.2 113.9,248.5 114.2,257.3 114.4,265.8 114.7,264.0 114.9,255.4 115.2,246.5 115.4,241.2 115.7,241.9 115.9,243.4 116.2,244.7 116.4,244.3 116.7,242.1 116.9,240.1 117.2,239.6 117.4,240.3 117.7,241.0 117.9,240.8 118.2,240.5 118.4,240.3 118.7,240.4 118.9,240.6 119.2,240.9 119.4,241.2 119.7,241.5 119.9,242.0 120.2,243.6 120.4,249.3 120.7,254.8 120.9,260.1 121.2,255.2 121.4,250.0 121.7,245.3 121.9,246.9 122.2,249.5 122.4,252.1 122.7,249.2 122.9,246.3 123.2,243.3 123.4,242.6 123.7,242.6 123.9,242.6 124.2,242.7 124.4,242.9 124.7,243.0 124.9,243.2 125.2,243.5 125.4,243.7 125.7,244.0 125.9,243.8 126.2,243.7 126.4,243.5 126.7,243.5 126.9,243.4 127.2,243.4 127.4,243.5 127.7,243.6 127.9,244.1 128.2,245.7 128.4,247.5 128.7,248.7 128.9,247.9 129.2,246.5 129.4,245.2 129.7,245.1 129.9,246.6 130.2,249.7 130.4,252.7 130.7,254.7 130.9,252.8 131.2,251.4 131.4,251.6 131.7,253.9 131.9,256.3 132.2,253.8 132.4,252.2 132.7,256.6 132.9,263.2 133.2,269.7 133.4,267.3 133.7,264.1 133.9,260.1 134.2,258.5 134.4,254.3 134.7,250.7 134.9,247.3 135.2,247.1 135.4,247.1 135.7,247.3 135.9,247.6 136.2,247.7 136.4,247.4 136.7,247.0 136.9,246.8 137.2,246.9 137.4,247.0 137.7,247.3 137.9,248.3 138.2,249.5 138.4,250.9 138.7,259.5 138.9,267.8 139.2,275.7 139.4,270.7 139.7,262.3 139.9,253.7 140.2,249.9 140.4,249.5 140.7,249.4 140.9,249.4 141.2,249.1 141.4,248.9 141.7,248.8 141.9,248.9 142.2,249.0 142.4,249.0 142.7,249.3 142.9,249.7 143.2,250.0 143.4,250.3 143.7,250.6 143.9,250.9 144.2,251.1 144.4,250.9 144.7,252.0 144.9,258.1 145.2,265.3 145.4,272.2 145.7,267.0 145.9,260.5 146.2,253.8 146.4,251.9 146.7,251.8 146.9,252.0 147.2,254.7 147.4,258.9 147.7,263.1 147.9,264.0 148.2,260.2 148.4,256.3 148.7,253.2 148.9,253.0 149.2,252.6 149.4,252.3 149.7,252.1 149.9,252.0 150.2,252.1 150.4,252.7 150.7,253.6 150.9,254.6 151.2,254.3 151.4,253.5 151.7,252.4 151.9,251.8 152.2,251.7 152.4,252.3 152.7,253.0 152.9,253.5 153.2,253.5 153.4,253.5 153.7,253.6 153.9,253.4 154.2,253.2 154.4,253.0 154.7,253.1 154.9,253.2 155.2,253.4 155.4,253.5 155.7,253.6 155.9,253.7 156.2,253.8 156.4,254.0 156.7,254.1 156.9,254.4 157.2,254.8 157.4,255.2 157.7,255.6 157.9,255.5 158.2,255.4 158.4,255.3 158.7,255.3 158.9,255.3 159.2,255.3 159.4,255.4 159.7,255.6 159.9,255.7 160.2,256.0 160.4,256.4 160.7,256.9 160.9,257.3 161.2,257.0 161.4,256.7 161.7,256.4 161.9,256.3 162.2,256.2 162.4,256.1 162.7,256.8 162.9,257.7 163.2,258.6 163.4,258.5 163.7,257.7 163.9,256.9 164.2,256.7 164.4,257.2 164.7,257.7 164.9,258.1 165.2,258.3 165.4,258.5 165.7,258.9 165.9,259.1 166.2,259.4 166.4,262.5 166.7,266.4 166.9,270.2 167.2,269.4 167.4,265.8 167.7,262.4 167.9,260.3 168.2,260.2 168.4,259.6 168.7,259.2 168.9,259.0 169.2,259.2 169.4,259.5 169.7,259.8 169.9,259.6 170.2,259.5 170.4,259.4 170.7,259.9 170.9,261.0 171.2,262.3 171.4,262.9 171.7,262.2 171.9,261.1 172.2,260.1 172.4,259.8 172.7,259.8 172.9,259.9 173.2,260.0 173.4,260.2 173.7,260.3 173.9,260.5 174.2,260.8 174.4,261.0 174.7,261.1 174.9,261.1 175.2,261.1 175.4,261.2 175.7,261.4 175.9,261.6 176.2,261.7 176.4,261.5 176.7,261.4 176.9,261.3 177.2,261.8 177.4,262.2 177.7,262.7 177.9,262.3 178.2,261.9 178.4,261.5 178.7,261.6 178.9,261.7 179.2,261.9 179.4,262.1 179.7,262.5 179.9,262.8 180.2,262.9 180.4,262.9 180.7,262.8 180.9,262.8 181.2,262.9 181.4,262.9 181.7,263.0 181.9,263.1 182.2,263.3 182.4,263.4 182.7,263.4 182.9,263.4 183.2,263.4 183.4,263.6 183.7,263.9 183.9,264.2 184.2,264.4 184.4,264.5 184.7,264.6 184.9,264.8 185.2,265.1 185.4,265.4 185.7,265.8 185.9,266.6 186.2,268.5 186.4,270.3 186.7,271.4 186.9,269.4 187.2,267.4 187.4,265.4 187.7,265.2 187.9,265.1 188.2,265.0 188.4,265.1 188.7,265.2 188.9,265.2 189.2,265.1 189.4,265.0 189.7,264.8 189.9,265.3 190.2,265.8 190.4,266.3 190.7,266.7 190.9,267.0 191.2,267.3 191.4,267.2 191.7,266.8 191.9,266.4 192.2,266.3 192.4,266.6 192.7,267.0 192.9,267.1 193.2,266.6 193.4,266.0 193.7,265.4 193.9,266.1 194.2,266.7 194.4,267.4 194.7,267.4 194.9,267.2 195.2,267.0 195.4,267.1 195.7,267.4 195.9,267.7 196.2,267.8 196.4,267.7 196.7,267.6 196.9,267.6 197.2,268.0 197.4,269.1 197.7,270.2 197.9,271.2 198.2,270.3 198.4,269.3 198.7,268.3 198.9,268.0 199.2,268.0 199.4,268.3 199.7,269.0 199.9,269.6 200.2,270.0 200.4,269.7 200.7,269.5 200.9,269.2 201.2,268.8 201.4,268.4 201.7,268.0 201.9,268.4 202.2,268.9 202.4,269.3 202.7,269.3 202.9,269.2 203.2,269.0 203.4,269.4 203.7,270.2 203.9,271.0 204.2,271.1 204.4,270.1 204.7,269.1 204.9,268.4 205.2,269.2 205.4,270.0 205.7,270.7 205.9,270.7 206.2,270.6 206.4,270.5 206.7,270.8 206.9,271.2 207.2,271.6 207.4,271.8 207.7,271.8 207.9,271.9 208.2,272.0 208.4,272.9 208.7,274.0 208.9,275.2 209.2,274.7 209.4,273.2 209.7,271.6 209.9,270.9 210.2,271.0 210.4,271.2 210.7,271.3 210.9,271.4 211.2,271.5 211.4,271.7 211.7,272.0 211.9,272.8 212.2,274.3 212.4,275.6 212.7,276.3 212.9,275.0 213.2,273.5 213.4,272.1 213.7,271.8 213.9,272.2 214.2,272.7 214.4,273.3 214.7,273.3 214.9,273.2 215.2,273.1 215.4,273.1 215.7,273.1 215.9,273.2 216.2,273.3 216.4,273.6 216.7,274.7 216.9,276.5 217.2,278.2 217.4,278.6 217.7,277.1 217.9,275.3 218.2,273.7 218.4,273.4 218.7,274.1 218.9,275.0 219.2,276.0 219.4,276.0 219.7,275.3 219.9,274.7 220.2,274.3 220.4,274.4 220.7,274.5 220.9,274.7 221.2,275.3 221.4,276.0 221.7,276.7 221.9,276.3 222.2,275.9 222.4,275.4 222.7,275.7 222.9,276.1 223.2,276.5 223.4,276.6 223.7,276.4 223.9,276.1 224.2,276.2 224.4,276.6 224.7,277.0 224.9,277.2 225.2,276.9 225.4,276.7 225.7,276.4 225.9,277.0 226.2,277.7 226.4,278.3 226.7,278.9 226.9,279.4 227.2,279.9 227.4,280.0 227.7,279.7 227.9,279.5 228.2,279.5 228.4,279.8 228.7,280.2 228.9,280.6 229.2,281.1 229.4,281.7 229.7,282.3 229.9,282.8 230.2,283.4 230.4,284.0 230.7,284.4 230.9,284.7 231.2,285.2 231.4,286.2 231.7,287.7 231.9,289.6 232.2,291.9 232.4,295.0 232.7,299.1 232.9,304.4 233.2,309.9 233.4,312.7 233.7,310.9 233.9,305.3 234.2,299.7 234.4,295.1 234.7,292.2 234.9,290.3 235.2,288.9 235.4,287.8 235.7,286.8 235.9,286.0 236.2,285.4 236.4,284.9 236.7,284.5 236.9,284.1 237.2,283.8 237.4,283.6 237.7,283.4 237.9,283.0 238.2,282.7 238.4,282.3 238.7,282.5 238.9,282.9 239.2,283.3 239.4,283.0 239.7,282.4 239.9,281.7 240.2,281.7 240.4,282.5 240.7,284.3 240.9,285.9 241.2,286.3 241.4,285.2 241.7,283.7 241.9,283.0 242.2,282.9 242.4,284.0 242.7,284.6 242.9,285.0 243.2,284.3 243.4,283.5 243.7,283.0 243.9,282.9 244.2,283.0 244.4,282.6 244.7,282.2 244.9,281.8 245.2,281.8 245.4,281.8 245.7,281.7 245.9,282.3 246.2,282.9 246.4,283.5 246.7,283.5 246.9,283.3 247.2,283.1 247.4,283.0 247.7,282.9 247.9,282.8 248.2,282.6 248.4,282.4 248.7,282.2 248.9,282.2 249.2,282.9 249.4,283.7 249.7,284.4 249.9,284.1 250.2,283.9 250.4,283.6 250.7,283.8 250.9,284.1 251.2,284.3 251.4,284.5 251.7,284.6 251.9,284.8 252.2,285.6 252.4,286.8 252.7,288.1 252.9,288.3 253.2,286.7 253.4,285.1 253.7,283.6 253.9,283.4 254.2,283.1 254.4,282.9 254.7,283.7 254.9,284.8 255.2,285.9 255.4,285.9 255.7,285.1 255.9,284.4 256.1,284.8 256.4,286.5 256.6,288.2 256.9,289.0 257.1,288.0 257.4,286.9 257.6,286.0 257.9,286.0 258.1,285.9 258.4,285.9 258.6,286.0 258.9,286.2 259.1,286.3 259.4,286.2 259.6,285.8 259.9,285.5 260.1,285.5 260.4,286.0 260.6,286.4 260.9,286.8 261.1,286.8 261.4,286.7 261.6,286.7 261.9,286.8 262.1,286.9 262.4,287.0 262.6,287.5 262.9,288.0 263.1,288.5 263.4,288.3 263.6,287.7 263.9,287.1 264.1,286.9 264.4,287.3 264.6,287.7 264.9,288.1 265.1,288.5 265.4,288.9 265.6,289.2 265.9,288.7 266.1,288.2 266.4,287.7 266.6,287.7 266.9,287.8 267.1,288.0 267.4,288.1 267.6,288.3 267.9,288.4 268.1,288.6 268.4,288.8 268.6,289.1 268.9,289.5 269.1,292.2 269.4,296.6 269.6,300.8 269.9,302.2 270.1,298.5 270.4,294.5 270.6,291.1 270.9,290.9 271.1,290.8 271.4,290.7 271.6,290.6 271.9,290.6 272.1,290.8 272.4,291.1 272.6,295.5 272.9,299.9 273.1,304.2 273.4,301.7 273.6,297.4 273.9,293.2 274.1,291.5 274.4,291.4 274.6,291.0 274.9,290.7 275.1,290.4 275.4,290.6 275.6,291.0 275.9,291.6 276.1,293.6 276.4,296.5 276.6,299.4 276.9,299.9 277.1,297.5 277.4,294.9 277.6,292.8 277.9,292.5 278.1,292.2 278.4,292.1 278.6,292.0 278.9,292.0 279.1,292.0 279.4,291.9 279.6,291.7 279.9,291.5 280.1,291.4 280.4,291.7 280.6,291.9 280.9,292.1 281.1,292.4 281.4,292.6 281.6,292.9 281.9,293.2 282.1,293.6 282.4,294.0 282.6,293.5 282.9,292.9 283.1,292.4 283.4,292.8 283.6,294.2 283.9,295.9 284.1,296.8 284.4,296.2 284.6,294.9 284.9,293.6 285.1,293.3 285.4,293.4 285.6,293.5 285.9,293.8 286.1,294.0 286.4,294.3 286.6,294.2 286.9,294.0 287.1,293.8 287.4,293.8 287.6,294.1 287.9,294.4 288.1,294.6 288.4,294.7 288.6,294.8 288.9,295.0 289.1,295.2 289.4,295.4 289.6,296.4 289.9,300.5 290.1,304.5 290.4,308.3 290.6,304.8 290.9,301.1 291.1,297.4 291.4,296.5 291.6,296.3 291.9,296.3 292.1,296.6 292.4,297.0 292.6,298.7 292.9,300.9 293.1,302.5 293.4,302.5 293.6,300.2 293.9,298.0 294.1,296.1 294.4,295.7 294.6,295.8 294.9,296.1 295.1,296.5 295.4,296.5 295.6,296.1 295.9,295.8 296.1,295.9 296.4,296.4 296.6,296.9 296.9,297.3 297.1,297.1 297.4,296.9 297.6,296.8 297.9,297.3 298.1,297.8 298.4,299.5 298.6,301.2 298.9,302.7 299.1,302.2 299.4,300.7 299.6,299.2 299.9,298.3 300.1,298.2 300.4,297.9 300.6,297.8 300.9,297.7 301.1,298.4 301.4,299.1 301.6,299.8 301.9,298.9 302.1,298.0 302.4,297.1 302.6,297.6 302.9,298.4 303.1,299.3 303.4,299.7"/><polyline points="38.4,268.2 38.6,270.4 38.9,273.7 39.1,276.2 39.4,277.0 39.6,276.0 39.9,274.4 40.1,271.9 40.4,270.7 40.6,270.4 40.9,271.1 41.1,271.1 41.4,272.0 41.6,274.5 41.9,277.0 42.1,278.0 42.4,276.7 42.6,275.3 42.9,274.0 43.1,272.1 43.4,270.6 43.6,270.3 43.9,273.7 44.1,279.3 44.4,284.6 44.6,288.0 44.9,285.1 45.1,281.3 45.4,275.9 45.6,274.8 45.9,274.7 46.1,276.3 46.4,276.8 46.6,276.1 46.9,274.3 47.1,273.6 47.4,274.0 47.6,275.9 47.9,277.3 48.1,278.2 48.4,278.8 48.6,281.8 48.9,285.0 49.1,287.9 49.4,285.1 49.6,282.0 49.9,278.2 50.1,277.4 50.4,276.8 50.6,276.7 50.9,276.8 51.1,276.5 51.4,274.8 51.6,273.5 51.9,273.7 52.1,277.4 52.4,280.1 52.6,281.4 52.9,279.1 53.1,277.5 53.4,276.0 53.6,275.4 53.9,275.1 54.1,280.5 54.4,288.9 54.6,296.7 54.9,295.7 55.1,288.2 55.4,280.7 55.6,277.4 55.9,280.5 56.1,283.7 56.4,284.5 56.6,279.7 56.9,274.9 57.1,274.4 57.4,280.0 57.6,285.5 57.9,287.0 58.1,284.6 58.4,282.5 58.6,281.2 58.9,280.0 59.1,278.6 59.4,278.6 59.6,281.4 59.9,284.5 60.1,287.6 60.4,288.0 60.6,288.3 60.9,287.6 61.1,286.4 61.4,284.9 61.6,283.1 61.9,281.7 62.1,281.3 62.4,281.9 62.6,287.4 62.9,294.0 63.1,299.1 63.4,297.3 63.6,290.4 63.9,284.5 64.2,282.3 64.4,283.7 64.7,284.7 64.9,284.7 65.2,284.8 65.4,283.9 65.7,280.8 65.9,277.9 66.2,278.1 66.4,284.5 66.7,290.7 66.9,293.4 67.2,289.7 67.4,286.1 67.7,285.4 67.9,288.7 68.2,291.9 68.4,293.2 68.7,291.5 68.9,289.7 69.2,287.8 69.4,286.7 69.7,285.7 69.9,285.2 70.2,285.6 70.4,286.0 70.7,285.9 70.9,284.2 71.2,282.5 71.4,281.9 71.7,283.3 71.9,284.6 72.2,285.5 72.4,286.1 72.7,287.7 72.9,291.0 73.2,294.1 73.4,295.8 73.7,293.2 73.9,290.1 74.2,288.0 74.4,287.7 74.7,288.3 74.9,288.6 75.2,288.9 75.4,290.5 75.7,292.5 75.9,294.5 76.2,294.3 76.4,292.5 76.7,290.6 76.9,289.5 77.2,289.4 77.4,289.2 77.7,288.8 77.9,288.5 78.2,288.7 78.4,289.7 78.7,290.5 78.9,290.7 79.2,289.2 79.4,287.8 79.7,287.1 79.9,287.9 80.2,288.8 80.4,289.9 80.7,291.3 80.9,292.6 81.2,293.1 81.4,291.8 81.7,290.6 81.9,289.5 82.2,289.9 82.4,290.2 82.7,290.8 82.9,291.1 83.2,291.3 83.4,291.4 83.7,291.4 83.9,291.4 84.2,291.5 84.4,291.4 84.7,291.2 84.9,291.3 85.2,292.3 85.4,293.8 85.7,295.0 85.9,296.8 86.2,299.9 86.4,302.9 86.7,304.1 86.9,300.8 87.2,297.8 87.4,298.8 87.7,303.6 87.9,308.3 88.2,308.1 88.4,304.0 88.7,299.1 88.9,294.8 89.2,293.4 89.4,293.5 89.7,294.7 89.9,295.9 90.2,296.1 90.4,297.5 90.7,299.4 90.9,301.6 91.2,301.2 91.4,298.9 91.7,296.6 91.9,295.4 92.2,295.5 92.4,295.5 92.7,295.3 92.9,295.2 93.2,295.4 93.4,296.6 93.7,298.3 93.9,299.7 94.2,300.0 94.4,298.8 94.7,297.8 94.9,297.0 95.2,297.0 95.4,296.8 95.7,296.7 95.9,296.7 96.2,297.0 96.4,297.6 96.7,298.7 96.9,301.8 97.2,304.7 97.4,307.1 97.7,304.3 97.9,301.2 98.2,298.2 98.4,297.3 98.7,297.0 98.9,297.4 99.2,297.7 99.4,298.1 99.7,298.0 99.9,297.8 100.2,297.6 100.4,297.5 100.7,297.6 100.9,297.7 101.2,297.7 101.4,297.4 101.7,297.1 101.9,296.9 102.2,297.4 102.4,297.9 102.7,298.4 102.9,298.2 103.2,297.9 103.4,297.7 103.7,298.0 103.9,298.6 104.2,299.2 104.4,300.2 104.7,302.0 104.9,303.7 105.2,304.7 105.4,302.8 105.7,300.8 105.9,298.9 106.2,299.4 106.4,299.9 106.7,300.7 106.9,302.8 107.2,305.4 107.4,308.0 107.7,307.6 107.9,305.3 108.2,304.4 108.4,305.7 108.7,308.5 108.9,309.1 109.2,306.3 109.4,302.9 109.7,300.0 109.9,299.4 110.2,300.0 110.4,300.7 110.7,301.5 110.9,301.4 111.2,301.2 111.4,301.0 111.7,300.8 111.9,300.6 112.2,300.4 112.4,300.6 112.7,301.1 112.9,301.8 113.2,302.5 113.4,303.3 113.7,304.2 113.9,312.9 114.2,324.0 114.4,334.6 114.7,333.1 114.9,322.8 115.2,312.1 115.4,305.3 115.7,305.8 115.9,307.5 116.2,309.3 116.4,309.6 116.7,307.7 116.9,305.7 117.2,304.1 117.4,303.7 117.7,303.4 117.9,303.2 118.2,303.4 118.4,303.7 118.7,304.0 118.9,303.7 119.2,303.4 119.4,303.1 119.7,303.8 119.9,304.9 120.2,307.1 120.4,312.9 120.7,318.1 120.9,323.2 121.2,317.9 121.4,312.8 121.7,308.0 121.9,308.8 122.2,310.6 122.4,312.4 122.7,310.3 122.9,308.2 123.2,306.1 123.4,305.6 123.7,305.4 123.9,305.2 124.2,305.1 124.4,305.3 124.7,305.6 124.9,306.0 125.2,306.3 125.4,306.5 125.7,306.7 125.9,306.8 126.2,306.1 126.4,305.5 126.7,304.8 126.9,305.4 127.2,306.1 127.4,306.8 127.7,307.2 127.9,308.0 128.2,309.5 128.4,310.9 128.7,311.7 128.9,310.4 129.2,309.2 129.4,308.2 129.7,308.5 129.9,310.0 130.2,313.1 130.4,316.1 130.7,318.1 130.9,315.7 131.2,313.7 131.4,314.1 131.7,317.2 131.9,320.3 132.2,317.8 132.4,315.5 132.7,319.9 132.9,326.6 133.2,333.5 133.4,330.9 133.7,327.3 133.9,323.5 134.2,322.3 134.4,318.3 134.7,314.4 134.9,311.1 135.2,311.1 135.4,311.3 135.7,311.1 135.9,310.9 136.2,310.8 136.4,310.5 136.7,310.0 136.9,309.6 137.2,309.6 137.4,310.5 137.7,311.5 137.9,312.5 138.2,312.7 138.4,313.0 138.7,321.1 138.9,329.9 139.2,338.4 139.4,334.1 139.7,325.5 139.9,316.4 140.2,312.0 140.4,311.4 140.7,311.8 140.9,312.4 141.2,312.6 141.4,311.8 141.7,311.0 141.9,310.4 142.2,311.0 142.4,311.5 142.7,312.1 142.9,312.5 143.2,312.9 143.4,313.3 143.7,313.3 143.9,313.2 144.2,313.3 144.4,313.7 144.7,315.6 144.9,322.5 145.2,329.1 145.4,335.3 145.7,328.8 145.9,322.0 146.2,315.5 146.4,314.0 146.7,313.9 146.9,314.3 147.2,317.3 147.4,322.0 147.7,325.8 147.9,325.9 148.2,320.9 148.4,316.3 148.7,313.0 148.9,312.9 149.2,313.0 149.4,313.4 149.7,313.9 149.9,314.3 150.2,314.0 150.4,314.2 150.7,314.4 150.9,315.4 151.2,315.2 151.4,315.0 151.7,314.4 151.9,314.1 152.2,314.0 152.4,313.8 152.7,313.5 152.9,313.2 153.2,313.1 153.4,313.3 153.7,313.5 153.9,313.8 154.2,314.2 154.4,314.7 154.7,315.1 154.9,314.8 155.2,314.5 155.4,314.1 155.7,314.2 155.9,314.4 156.2,314.6 156.4,314.9 156.7,315.1 156.9,315.4 157.2,315.5 157.4,315.4 157.7,315.2 157.9,315.1 158.2,315.3 158.4,315.5 158.7,315.7 158.9,316.0 159.2,316.3 159.4,316.6 159.7,316.7 159.9,316.6 160.2,316.5 160.4,316.6 160.7,316.7 160.9,316.9 161.2,317.1 161.4,317.3 161.7,317.5 161.9,317.7 162.2,318.1 162.4,318.5 162.7,318.9 162.9,318.7 163.2,318.4 163.4,318.1 163.7,317.9 163.9,317.8 164.2,317.7 164.4,318.2 164.7,319.1 164.9,320.1 165.2,320.7 165.4,320.4 165.7,320.3 165.9,320.2 166.2,320.1 166.4,323.0 166.7,326.6 166.9,331.0 167.2,330.8 167.4,327.4 167.7,323.2 167.9,320.3 168.2,319.6 168.4,319.5 168.7,320.1 168.9,320.7 169.2,321.0 169.4,320.6 169.7,320.1 169.9,319.7 170.2,320.0 170.4,320.3 170.7,320.5 170.9,321.7 171.2,323.0 171.4,324.3 171.7,324.0 171.9,322.7 172.2,321.5 172.4,320.9 172.7,321.2 172.9,321.5 173.2,321.7 173.4,321.7 173.7,321.8 173.9,321.9 174.2,322.1 174.4,322.3 174.7,322.5 174.9,322.6 175.2,322.6 175.4,322.7 175.7,322.9 175.9,323.1 176.2,323.4 176.4,323.3 176.7,322.9 176.9,322.4 177.2,322.3 177.4,322.8 177.7,323.3 177.9,323.7 178.2,323.2 178.4,322.6 178.7,322.1 178.9,322.6 179.2,323.1 179.4,323.7 179.7,323.7 179.9,323.6 180.2,323.5 180.4,323.7 180.7,324.3 180.9,324.8 181.2,325.1 181.4,324.8 181.7,324.5 181.9,324.3 182.2,324.3 182.4,324.3 182.7,324.3 182.9,324.4 183.2,324.5 183.4,324.7 183.7,324.7 183.9,324.6 184.2,324.5 184.4,324.6 184.7,324.8 184.9,325.1 185.2,325.3 185.4,325.4 185.7,325.6 185.9,326.5 186.2,328.9 186.4,331.2 186.7,332.7 186.9,330.6 187.2,328.4 187.4,326.2 187.7,326.1 187.9,326.1 188.2,326.2 188.4,326.4 188.7,326.7 188.9,327.0 189.2,327.1 189.4,326.7 189.7,326.2 189.9,325.9 190.2,326.1 190.4,326.4 190.7,326.7 190.9,326.5 191.2,326.3 191.4,326.1 191.7,326.6 191.9,327.4 192.2,328.3 192.4,328.6 192.7,328.5 192.9,328.4 193.2,328.3 193.4,328.1 193.7,328.0 193.9,327.9 194.2,328.0 194.4,328.0 194.7,328.1 194.9,327.9 195.2,327.7 195.4,327.5 195.7,327.9 195.9,328.4 196.2,329.0 196.4,329.2 196.7,329.1 196.9,328.9 197.2,329.1 197.4,330.4 197.7,331.6 197.9,332.8 198.2,331.9 198.4,331.0 198.7,330.1 198.9,329.2 199.2,328.6 199.4,327.9 199.7,328.0 199.9,328.4 200.2,328.8 200.4,329.1 200.7,329.3 200.9,329.5 201.2,329.8 201.4,330.1 201.7,330.4 201.9,330.6 202.2,330.3 202.4,329.9 202.7,329.6 202.9,329.9 203.2,330.4 203.4,330.8 203.7,330.9 203.9,330.8 204.2,330.7 204.4,330.6 204.7,330.5 204.9,330.4 205.2,330.4 205.4,331.0 205.7,331.6 205.9,332.0 206.2,331.6 206.4,331.3 206.7,330.9 206.9,330.9 207.2,330.9 207.4,330.9 207.7,331.4 207.9,332.2 208.2,333.0 208.4,334.1 208.7,334.9 208.9,335.7 209.2,335.4 209.4,334.4 209.7,333.3 209.9,332.6 210.2,332.9 210.4,333.3 210.7,333.6 210.9,333.4 211.2,333.0 211.4,332.7 211.7,332.9 211.9,333.8 212.2,335.4 212.4,337.0 212.7,338.0 212.9,336.9 213.2,335.6 213.4,334.2 213.7,334.1 213.9,334.1 214.2,334.2 214.4,334.4 214.7,334.6 214.9,334.2 215.2,333.8 215.4,333.4 215.7,333.8 215.9,334.6 216.2,335.5 216.4,335.7 216.7,336.4 216.9,337.6 217.2,339.1 217.4,339.7 217.7,338.2 217.9,336.8 218.2,336.0 218.4,336.5 218.7,337.1 218.9,336.8 219.2,336.4 219.4,336.1 219.7,335.9 219.9,335.7 220.2,335.5 220.4,335.6 220.7,335.9 220.9,336.3 221.2,336.5 221.4,336.4 221.7,336.2 221.9,336.0 222.2,336.2 222.4,336.4 222.7,336.5 222.9,336.6 223.2,336.6 223.4,336.7 223.7,336.8 223.9,337.0 224.2,337.2 224.4,337.4 224.7,337.5 224.9,337.6 225.2,337.8 225.4,337.9 225.7,338.1 225.9,338.3 226.2,338.8 226.4,339.4 226.7,339.9 226.9,339.7 227.2,339.4 227.4,339.2 227.7,339.3 227.9,339.6 228.2,339.9 228.4,340.0 228.7,339.9 228.9,339.7 229.2,339.9 229.4,340.9 229.7,341.9 229.9,342.8 230.2,342.9 230.4,343.0 230.7,343.2 230.9,344.2 231.2,345.5 231.4,346.9 231.7,347.9 231.9,349.0 232.2,350.6 232.4,353.3 232.7,357.5 232.9,362.5 233.2,367.1 233.4,368.6 233.7,366.2 233.9,361.3 234.2,357.1 234.4,353.8 234.7,351.3 234.9,349.5 235.2,348.1 235.4,347.0 235.7,346.1 235.9,345.4 236.2,344.8 236.4,344.4 236.7,344.1 236.9,343.9 237.2,343.7 237.4,343.6 237.7,343.4 237.9,343.2 238.2,342.6 238.4,342.0 238.7,341.4 238.9,341.6 239.2,341.8 239.4,342.0 239.7,342.0 239.9,342.0 240.2,342.1 240.4,342.3 240.7,343.7 240.9,345.1 241.2,346.2 241.4,345.4 241.7,344.1 241.9,342.9 242.2,342.8 242.4,343.9 242.7,345.2 242.9,346.2 243.2,346.0 243.4,345.0 243.7,344.0 243.9,343.4 244.2,343.3 244.4,343.0 244.7,342.4 244.9,341.8 245.2,341.8 245.4,342.8 245.7,343.9 245.9,344.8 246.2,344.4 246.4,344.1 246.7,343.7 246.9,343.6 247.2,343.5 247.4,343.4 247.7,343.6 247.9,343.9 248.2,344.3 248.4,344.3 248.7,344.2 248.9,344.0 249.2,344.0 249.4,344.3 249.7,344.6 249.9,344.8 250.2,344.5 250.4,344.3 250.7,344.0 250.9,344.8 251.2,345.6 251.4,346.5 251.7,346.4 251.9,345.9 252.2,346.0 252.4,347.0 252.7,348.4 252.9,349.0 253.2,348.2 253.4,346.9 253.7,345.8 253.9,345.5 254.2,345.9 254.4,346.2 254.7,346.6 254.9,346.9 255.2,347.1 255.4,347.3 255.7,347.3 255.9,347.3 256.1,347.7 256.4,348.4 256.6,349.2 256.9,349.2 257.1,348.4 257.4,347.9 257.6,347.5 257.9,347.8 258.1,347.6 258.4,347.5 258.6,347.3 258.9,347.6 259.1,348.0 259.4,348.3 259.6,348.3 259.9,348.3 260.1,348.2 260.4,348.2 260.6,348.4 260.9,348.5 261.1,348.6 261.4,348.6 261.6,348.5 261.9,348.5 262.1,348.6 262.4,348.7 262.6,348.7 262.9,348.8 263.1,348.9 263.4,349.0 263.6,349.3 263.9,349.7 264.1,350.0 264.4,350.1 264.6,349.8 264.9,349.5 265.1,349.4 265.4,349.7 265.6,350.0 265.9,350.3 266.1,350.1 266.4,349.9 266.6,349.7 266.9,349.9 267.1,350.1 267.4,350.2 267.6,350.2 267.9,350.1 268.1,350.0 268.4,350.3 268.6,350.9 268.9,351.7 269.1,354.9 269.4,359.6 269.6,364.2 269.9,365.0 270.1,360.2 270.4,355.2 270.6,351.0 270.9,351.0 271.1,351.1 271.4,351.4 271.6,351.4 271.9,351.4 272.1,351.5 272.4,352.1 272.6,357.1 272.9,362.2 273.1,366.8 273.4,364.1 273.6,359.4 273.9,354.6 274.1,352.9 274.4,353.0 274.6,353.2 274.9,352.9 275.1,352.6 275.4,352.5 275.6,352.6 275.9,352.8 276.1,354.8 276.4,358.1 276.6,361.2 276.9,362.0 277.1,359.0 277.4,355.9 277.6,353.4 277.9,353.1 278.1,352.9 278.4,352.7 278.6,352.7 278.9,352.9 279.1,353.2 279.4,353.5 279.6,353.4 279.9,353.2 280.1,353.0 280.4,353.0 280.6,353.2 280.9,353.5 281.1,353.7 281.4,353.9 281.6,354.2 281.9,354.4 282.1,354.1 282.4,353.8 282.6,353.5 282.9,353.6 283.1,353.8 283.4,354.1 283.6,354.9 283.9,356.0 284.1,357.2 284.4,357.4 284.6,356.5 284.9,355.6 285.1,354.8 285.4,354.7 285.6,354.5 285.9,354.4 286.1,354.8 286.4,355.1 286.6,355.4 286.9,355.3 287.1,355.2 287.4,355.1 287.6,355.0 287.9,354.9 288.1,354.8 288.4,355.1 288.6,355.7 288.9,356.3 289.1,356.8 289.4,356.7 289.6,357.5 289.9,361.3 290.1,365.6 290.4,369.6 290.6,365.9 290.9,362.0 291.1,358.0 291.4,357.0 291.6,356.9 291.9,357.0 292.1,357.3 292.4,357.6 292.6,358.9 292.9,361.1 293.1,363.1 293.4,363.3 293.6,361.1 293.9,358.8 294.1,357.3 294.4,357.4 294.6,357.5 294.9,357.3 295.1,357.2 295.4,357.1 295.6,357.3 295.9,357.7 296.1,358.0 296.4,358.2 296.6,358.2 296.9,358.1 297.1,358.1 297.4,357.9 297.6,357.8 297.9,357.9 298.1,358.6 298.4,360.5 298.6,362.8 298.9,364.1 299.1,363.3 299.4,361.1 299.6,359.5 299.9,358.8 300.1,359.1 300.4,359.0 300.6,358.5 300.9,358.1 301.1,358.0 301.4,358.8 301.6,359.6 301.9,360.2 302.1,359.9 302.4,359.6 302.6,359.3 302.9,359.4 303.1,359.6 303.4,359.8"/><polyline points="334.4,42.9 334.6,42.1 334.9,39.2 335.1,37.1 335.4,35.5 335.6,34.6 335.9,34.5 336.1,35.3 336.4,37.4 336.6,39.5 336.9,41.9 337.1,42.9 337.4,42.9 337.6,41.4 337.9,42.4 338.1,44.1 338.4,46.3 338.6,42.1 338.9,38.0 339.1,35.6 339.4,36.6 339.6,37.1 339.9,37.4 340.1,39.0 340.4,41.5 340.6,44.5 340.9,47.4 341.1,50.3 341.4,49.2 341.6,47.2 341.9,44.2 342.1,44.5 342.4,45.0 342.6,46.1 342.9,43.5 343.1,40.3 343.4,37.6 343.6,37.8 343.9,39.8 344.1,42.4 344.4,44.4 344.6,44.4 344.9,43.1 345.1,41.4 345.4,38.3 345.6,37.7 345.9,37.6 346.1,39.2 346.4,38.0 346.6,37.4 346.9,39.1 347.1,44.0 347.4,48.0 347.6,50.0 347.9,50.6 348.1,48.8 348.4,45.8 348.6,42.7 348.9,43.6 349.1,42.6 349.4,41.6 349.6,39.1 349.9,41.0 350.1,43.5 350.4,46.4 350.6,46.7 350.9,46.9 351.1,48.3 351.4,50.1 351.6,50.1 351.9,47.4 352.1,45.1 352.4,45.2 352.6,45.8 352.9,46.0 353.1,44.7 353.4,43.8 353.6,43.2 353.9,45.3 354.1,47.5 354.4,48.4 354.6,48.0 354.9,47.7 355.1,47.6 355.4,49.4 355.6,51.2 355.9,54.2 356.1,53.0 356.4,51.2 356.6,47.9 356.9,46.5 357.1,45.8 357.4,45.2 357.6,44.9 357.9,46.4 358.1,52.1 358.4,57.6 358.6,59.1 358.9,55.1 359.1,49.9 359.4,48.6 359.6,49.4 359.9,51.1 360.1,49.3 360.4,46.9 360.6,44.6 360.9,43.7 361.1,44.3 361.4,46.2 361.6,48.9 361.9,49.4 362.1,48.0 362.4,45.6 362.6,44.5 362.9,43.8 363.1,43.2 363.4,43.6 363.6,45.5 363.9,47.5 364.1,48.3 364.4,47.8 364.6,47.4 364.9,47.7 365.1,48.8 365.4,49.9 365.6,50.1 365.9,49.5 366.1,48.7 366.4,49.3 366.6,49.1 366.9,48.9 367.1,46.8 367.4,45.9 367.6,45.5 367.9,46.0 368.1,46.9 368.4,48.4 368.6,50.5 368.9,51.6 369.1,49.3 369.4,46.0 369.6,43.3 369.9,45.7 370.1,48.5 370.4,51.2 370.6,50.0 370.9,48.9 371.1,47.9 371.4,47.9 371.6,48.1 371.9,48.1 372.1,47.9 372.4,47.5 372.6,46.9 372.9,46.4 373.1,46.2 373.4,47.2 373.6,48.3 373.9,48.6 374.1,47.3 374.4,46.0 374.6,47.0 374.9,49.3 375.1,51.7 375.4,51.5 375.6,50.2 375.9,48.9 376.1,48.4 376.4,48.4 376.6,48.3 376.9,48.0 377.1,48.1 377.4,48.3 377.6,49.2 377.9,49.0 378.1,48.4 378.4,47.3 378.6,47.7 378.9,48.3 379.1,49.3 379.4,49.6 379.6,49.8 379.9,50.1 380.1,50.4 380.4,50.2 380.6,50.1 380.9,49.7 381.1,48.4 381.4,47.2 381.6,49.0 381.9,54.8 382.1,60.4 382.4,62.4 382.6,58.7 382.9,55.1 383.1,57.5 383.4,63.1 383.6,68.6 383.9,65.5 384.1,60.0 384.4,54.5 384.6,52.3 384.9,52.0 385.1,51.3 385.4,50.6 385.6,50.5 385.9,51.3 386.1,55.8 386.4,60.1 386.6,62.3 386.9,58.8 387.1,53.6 387.4,50.6 387.6,50.2 387.9,51.2 388.1,51.3 388.4,51.1 388.6,50.9 388.9,50.7 389.1,50.4 389.4,50.1 389.6,50.0 389.9,50.5 390.1,50.9 390.4,51.4 390.6,51.8 390.9,52.3 391.1,52.7 391.4,52.4 391.6,52.0 391.9,51.7 392.1,52.1 392.4,54.3 392.6,58.7 392.9,62.8 393.1,64.7 393.4,60.4 393.6,56.1 393.9,52.0 394.1,51.6 394.4,51.4 394.6,51.5 394.9,51.7 395.1,52.0 395.4,51.7 395.6,51.2 395.9,50.8 396.1,51.0 396.4,51.6 396.6,52.2 396.9,52.7 397.1,53.2 397.4,53.7 397.6,54.0 397.9,53.8 398.1,53.6 398.4,53.3 398.6,53.4 398.9,53.4 399.1,53.5 399.4,53.2 399.6,52.9 399.9,52.6 400.1,53.0 400.4,53.7 400.6,54.5 400.9,54.7 401.1,54.3 401.4,54.0 401.6,53.8 401.9,54.1 402.1,54.4 402.4,54.8 402.6,56.7 402.9,58.8 403.1,60.8 403.4,60.4 403.6,59.4 403.9,60.8 404.1,63.2 404.4,65.7 404.6,64.1 404.9,60.4 405.1,57.0 405.4,55.0 405.6,55.0 405.9,55.3 406.1,55.9 406.4,56.4 406.6,55.8 406.9,55.1 407.1,54.5 407.4,54.7 407.6,55.1 407.9,55.4 408.1,56.3 408.4,57.4 408.6,58.6 408.9,58.8 409.1,58.0 409.4,57.3 409.6,66.4 409.9,77.0 410.1,87.2 410.4,82.2 410.6,72.4 410.9,62.4 411.1,58.1 411.4,58.8 411.6,60.1 411.9,61.6 412.1,61.1 412.4,59.3 412.6,57.4 412.9,56.2 413.1,55.9 413.4,55.6 413.6,55.4 413.9,55.5 414.1,55.6 414.4,55.8 414.6,56.3 414.9,56.9 415.1,57.5 415.4,57.3 415.6,57.1 415.9,59.2 416.1,66.2 416.4,73.9 416.6,79.0 416.9,73.6 417.1,66.3 417.4,59.7 417.6,60.5 417.9,63.2 418.1,65.1 418.4,63.9 418.6,61.4 418.9,58.9 419.1,58.4 419.4,58.1 419.6,57.8 419.9,57.6 420.1,57.7 420.4,58.0 420.6,58.3 420.9,58.1 421.1,57.5 421.4,56.8 421.6,56.4 421.9,56.9 422.1,57.3 422.4,57.8 422.6,58.1 422.9,58.5 423.1,58.8 423.4,58.9 423.6,59.6 423.9,60.8 424.1,62.3 424.4,62.8 424.6,61.7 424.9,60.5 425.1,59.3 425.4,59.3 425.6,60.5 425.9,62.8 426.1,65.1 426.4,66.0 426.6,63.9 426.9,63.4 427.1,65.6 427.4,70.1 427.6,73.1 427.9,69.5 428.1,66.4 428.4,65.9 428.6,69.4 428.9,72.4 429.1,69.6 429.4,67.3 429.6,65.1 429.9,64.3 430.1,62.2 430.4,60.2 430.6,59.2 430.9,59.4 431.1,59.8 431.4,59.9 431.6,60.0 431.9,60.0 432.1,59.7 432.4,59.3 432.6,58.9 432.9,58.7 433.1,58.8 433.4,58.9 433.6,59.3 433.9,60.1 434.1,61.7 434.4,66.6 434.6,71.1 434.9,75.5 435.1,71.6 435.4,66.8 435.6,61.8 435.9,60.1 436.1,59.6 436.4,59.4 436.6,59.3 436.9,59.4 437.1,59.8 437.4,60.2 437.6,60.7 437.9,61.6 438.1,62.5 438.4,63.3 438.6,62.3 438.9,61.2 439.1,60.2 439.4,60.3 439.6,60.7 439.9,61.2 440.1,61.5 440.4,63.4 440.6,67.9 440.9,72.8 441.1,76.2 441.4,72.6 441.6,68.4 441.9,63.3 442.1,62.4 442.4,61.8 442.6,61.5 442.9,63.8 443.1,66.8 443.4,70.2 443.6,69.7 443.9,66.5 444.1,63.0 444.4,60.7 444.6,60.3 444.9,60.1 445.1,60.2 445.4,60.3 445.6,60.5 445.9,60.5 446.1,60.6 446.4,60.7 446.6,61.1 446.9,61.5 447.1,61.9 447.4,61.3 447.6,60.6 447.9,60.0 448.1,60.3 448.4,61.1 448.6,62.0 448.9,62.1 449.1,61.3 449.4,60.5 449.6,60.1 449.9,61.1 450.1,62.0 450.4,62.9 450.6,62.7 450.9,62.4 451.1,62.0 451.4,62.1 451.6,62.3 451.9,62.5 452.1,62.1 452.4,61.3 452.6,60.6 452.9,60.3 453.1,60.5 453.4,60.7 453.6,61.1 453.9,61.4 454.1,61.6 454.4,61.9 454.6,62.6 454.9,63.3 455.1,64.0 455.4,63.8 455.6,63.5 455.9,63.1 456.1,63.0 456.4,63.3 456.6,63.5 456.9,63.4 457.1,63.0 457.4,62.7 457.6,62.5 457.9,62.7 458.1,63.0 458.4,63.3 458.6,62.9 458.9,62.5 459.1,62.1 459.4,62.8 459.6,63.6 459.9,64.4 460.1,64.5 460.4,64.1 460.6,63.8 460.9,63.6 461.1,63.4 461.4,63.3 461.6,63.4 461.9,64.1 462.1,67.3 462.4,70.5 462.6,73.1 462.9,71.4 463.1,68.5 463.4,65.1 463.6,63.5 463.9,62.9 464.1,63.2 464.4,64.0 464.6,64.8 464.9,65.0 465.1,64.3 465.4,63.7 465.6,63.5 465.9,64.5 466.1,65.2 466.4,65.9 466.6,65.8 466.9,65.6 467.1,65.4 467.4,65.4 467.6,65.3 467.9,65.1 468.1,64.2 468.4,63.2 468.6,62.5 468.9,62.4 469.1,63.1 469.4,63.8 469.6,64.4 469.9,64.5 470.1,64.7 470.4,64.9 470.6,65.0 470.9,65.1 471.1,65.1 471.4,64.6 471.6,64.1 471.9,63.5 472.1,63.7 472.4,64.2 472.6,64.6 472.9,64.9 473.1,64.9 473.4,64.9 473.6,65.0 473.9,65.2 474.1,65.5 474.4,65.7 474.6,65.4 474.9,65.2 475.1,64.9 475.4,64.8 475.6,64.7 475.9,64.6 476.1,65.0 476.4,65.7 476.6,66.4 476.9,66.6 477.1,66.0 477.4,65.4 477.6,65.1 477.9,65.7 478.1,66.4 478.4,66.9 478.6,65.7 478.9,64.6 479.1,63.4 479.4,63.7 479.6,64.3 479.9,64.9 480.1,65.3 480.4,65.6 480.6,65.8 480.9,66.0 481.1,65.9 481.4,66.0 481.6,67.2 481.9,69.3 482.1,71.3 482.4,71.7 482.6,70.2 482.9,68.5 483.1,67.3 483.4,67.4 483.6,67.6 483.9,67.9 484.1,67.8 484.4,67.6 484.6,67.3 484.9,67.1 485.1,67.1 485.4,67.1 485.6,67.1 485.9,67.1 486.1,66.8 486.4,66.5 486.6,66.3 486.9,66.2 487.1,66.1 487.4,67.0 487.6,68.0 487.9,69.0 488.1,68.6 488.4,67.5 488.6,66.6 488.9,66.2 489.1,66.5 489.4,66.7 489.6,67.0 489.9,67.2 490.1,67.4 490.4,67.6 490.6,68.4 490.9,69.2 491.1,69.9 491.4,69.3 491.6,68.5 491.9,67.8 492.1,68.2 492.4,69.2 492.6,70.2 492.9,70.9 493.1,71.3 493.4,71.6 493.6,71.6 493.9,70.5 494.1,69.3 494.4,68.1 494.6,68.0 494.9,68.0 495.1,68.0 495.4,67.9 495.6,67.8 495.9,67.7 496.1,67.8 496.4,67.8 496.6,67.8 496.9,67.7 497.1,67.4 497.4,67.1 497.6,67.1 497.9,67.7 498.1,68.4 498.4,69.0 498.6,69.2 498.9,69.4 499.1,69.7 499.4,69.7 499.6,69.6 499.9,69.6 500.1,69.5 500.4,69.3 500.6,69.2 500.9,69.4 501.1,69.9 501.4,70.5 501.6,70.8 501.9,70.6 502.1,70.4 502.4,70.1 502.6,70.0 502.9,69.8 503.1,69.6 503.4,69.9 503.6,70.3 503.9,70.7 504.1,71.0 504.4,71.3 504.6,71.6 504.9,71.5 505.1,70.9 505.4,70.2 505.6,69.8 505.9,69.7 506.1,69.6 506.4,69.5 506.6,70.3 506.9,71.2 507.1,72.1 507.4,71.8 507.6,72.1 507.9,72.9 508.1,74.6 508.4,75.6 508.6,75.0 508.9,73.8 509.1,72.2 509.4,71.6 509.6,71.2 509.9,71.1 510.1,71.1 510.4,71.2 510.6,70.9 510.9,70.7 511.1,70.5 511.4,70.3 511.6,70.2 511.9,70.2 512.1,70.8 512.4,72.8 512.6,75.0 512.9,76.7 513.1,76.1 513.4,74.5 513.6,72.9 513.9,72.0 514.1,71.9 514.4,71.7 514.6,71.8 514.9,72.0 515.1,72.1 515.4,72.4 515.6,72.7 515.9,73.0 516.1,72.8 516.4,72.5 516.6,72.2 516.9,72.1 517.1,72.4 517.4,72.7 517.6,72.8 517.9,72.4 518.1,72.0 518.4,71.7 518.6,72.4 518.9,73.1 519.1,73.7 519.4,73.6 519.6,73.3 519.9,73.1 520.1,72.8 520.4,72.5 520.6,72.2 520.9,72.1 521.1,72.2 521.4,72.3 521.6,72.6 521.9,73.4 522.1,74.3 522.4,75.1 522.6,75.0 522.9,74.9 523.1,74.8 523.4,75.0 523.6,75.0 523.9,75.1 524.1,74.6 524.4,73.9 524.6,73.1 524.9,73.0 525.1,73.6 525.4,74.2 525.6,74.6 525.9,74.5 526.1,74.6 526.4,74.7 526.6,75.4 526.9,76.1 527.1,77.0 527.4,77.7 527.6,78.5 527.9,79.6 528.1,81.0 528.4,83.1 528.6,85.8 528.9,89.1 529.1,90.4 529.4,88.2 529.6,84.9 529.9,81.4 530.1,78.7 530.4,76.7 530.6,77.2 530.9,77.9 531.1,78.8 531.4,78.0 531.6,78.1 531.9,78.3 532.1,79.8 532.4,79.8 532.6,79.3 532.9,78.3 533.1,77.7 533.4,77.6 533.6,77.1 533.9,75.8 534.1,74.6 534.4,73.5 534.6,74.1 534.9,74.7 535.1,75.4 535.4,75.2 535.6,75.0 535.9,74.8 536.1,75.1 536.4,76.2 536.6,77.2 536.9,78.4 537.1,77.8 537.4,77.3 537.6,76.8 537.9,77.0 538.1,80.5 538.4,84.0 538.6,86.3 538.9,83.3 539.1,78.9 539.4,76.0 539.6,75.3 539.9,75.9 540.1,75.9 540.4,75.5 540.6,75.2 540.9,75.2 541.1,75.4 541.4,75.6 541.6,75.8 541.9,76.2 542.1,76.6 542.4,77.0 542.6,76.9 542.9,76.8 543.1,76.6 543.4,76.4 543.6,76.2 543.9,76.0 544.1,76.0 544.4,76.1 544.6,76.1 544.9,76.4 545.1,76.7 545.4,77.1 545.6,77.1 545.9,76.0 546.1,74.9 546.4,73.9 546.6,74.5 546.9,75.2 547.1,75.9 547.4,76.5 547.6,77.2 547.9,79.2 548.1,81.1 548.4,82.6 548.6,82.0 548.9,80.2 549.1,78.5 549.4,77.4 549.6,77.2 549.9,76.9 550.1,76.6 550.4,76.3 550.6,76.7 550.9,77.1 551.1,77.6 551.4,77.6 551.6,77.5 551.9,78.5 552.1,80.0 552.4,81.7 552.6,81.8 552.9,80.4 553.1,78.6 553.4,77.2 553.6,76.7 553.9,76.7 554.1,76.8 554.4,76.8 554.6,77.1 554.9,77.3 555.1,77.6 555.4,77.2 555.6,76.8 555.9,76.4 556.1,77.0 556.4,78.3 556.6,80.7 556.9,82.5 557.1,83.3 557.4,81.9 557.6,80.1 557.9,78.5 558.1,77.6 558.4,77.3 558.6,77.7 558.9,78.2 559.1,78.7 559.4,78.7 559.6,78.7 559.9,78.6 560.1,78.0 560.4,77.2 560.6,76.4 560.9,76.3 561.1,77.1 561.4,77.9 561.6,78.5 561.9,78.6 562.1,78.7 562.4,78.9 562.6,79.1 562.9,79.3 563.1,79.6 563.4,79.8 563.6,79.9 563.9,79.9 564.1,79.6 564.4,79.1 564.6,78.7 564.9,82.0 565.1,86.5 565.4,90.8 565.6,90.1 565.9,85.6 566.1,81.2 566.4,78.4 566.6,78.7 566.9,79.1 567.1,79.6 567.4,79.6 567.6,79.7 567.9,80.0 568.1,81.1 568.4,85.3 568.6,89.5 568.9,93.7 569.1,90.4 569.4,86.9 569.6,82.9 569.9,80.9 570.1,79.7 570.4,78.7 570.6,78.6 570.9,78.6 571.1,78.4 571.4,79.1 571.6,79.9 571.9,82.3 572.1,84.4 572.4,86.0 572.6,85.1 572.9,83.0 573.1,81.2 573.4,80.3 573.6,80.6 573.9,80.7 574.1,80.8 574.4,81.0 574.6,80.7 574.9,80.4 575.1,80.2 575.4,80.1 575.6,80.0 575.9,79.9 576.1,79.7 576.4,79.6 576.6,79.5 576.9,79.6 577.1,80.1 577.4,80.5 577.6,80.8 577.9,80.7 578.1,80.6 578.4,80.6 578.6,80.7 578.9,80.9 579.1,81.1 579.4,81.4 579.6,81.8 579.9,82.1 580.1,82.6 580.4,82.9 580.6,83.3 580.9,82.9 581.1,81.7 581.4,80.6 581.6,79.9 581.9,80.6 582.1,81.2 582.4,81.7 582.6,80.6 582.9,79.4 583.1,78.3 583.4,78.9 583.6,80.0 583.9,81.0 584.1,81.5 584.4,81.6 584.6,81.9 584.9,81.9 585.1,81.7 585.4,82.8 585.6,86.0 585.9,89.9 586.1,92.3 586.4,89.3 586.6,85.8 586.9,82.2 587.1,81.9 587.4,82.1 587.6,82.5 587.9,83.0 588.1,82.9 588.4,84.4 588.6,86.3 588.9,88.6 589.1,88.3 589.4,85.8 589.6,83.3 589.9,82.0 590.1,82.3 590.4,82.6 590.6,82.3 590.9,82.1 591.1,82.0 591.4,82.1 591.6,82.2 591.9,82.3 592.1,82.4 592.4,82.5 592.6,82.6 592.9,82.5 593.1,82.2 593.4,82.0 593.6,81.9 593.9,82.3 594.1,84.3 594.4,86.3 594.6,87.9 594.9,86.8 595.1,85.0 595.4,83.6 595.6,83.3 595.9,83.8 596.1,83.6 596.4,83.1 596.6,82.6 596.9,82.6 597.1,83.1 597.4,83.5 597.6,84.0 597.9,84.5 598.1,85.0 598.4,85.3 598.6,84.7 598.9,84.0"/><polyline points="334.4,77.0 334.6,78.4 334.9,80.0 335.1,80.9 335.4,81.9 335.6,83.1 335.9,82.8 336.1,82.6 336.4,82.0 336.6,79.9 336.9,77.6 337.1,75.3 337.4,77.1 337.6,81.5 337.9,85.9 338.1,87.4 338.4,83.9 338.6,80.5 338.9,78.7 339.1,81.7 339.4,84.7 339.6,87.0 339.9,85.6 340.1,87.2 340.4,89.0 340.6,93.0 340.9,92.2 341.1,90.2 341.4,86.0 341.6,82.7 341.9,80.6 342.1,79.1 342.4,78.7 342.6,78.2 342.9,78.9 343.1,82.3 343.4,85.7 343.6,89.0 343.9,87.1 344.1,85.0 344.4,82.7 344.6,82.7 344.9,83.7 345.1,84.7 345.4,84.4 345.6,82.3 345.9,80.3 346.1,80.3 346.4,83.1 346.6,85.7 346.9,87.3 347.1,87.2 347.4,87.1 347.6,87.2 347.9,86.5 348.1,85.7 348.4,84.8 348.6,82.8 348.9,80.7 349.1,78.8 349.4,80.7 349.6,84.1 349.9,87.3 350.1,87.9 350.4,85.9 350.6,84.1 350.9,82.9 351.1,84.2 351.4,85.3 351.6,86.4 351.9,86.7 352.1,86.9 352.4,86.9 352.6,86.1 352.9,85.7 353.1,85.5 353.4,87.3 353.6,89.3 353.9,91.1 354.1,91.7 354.4,91.6 354.6,91.3 354.9,90.7 355.1,90.8 355.4,92.8 355.6,95.2 355.9,98.6 356.1,97.4 356.4,95.7 356.6,92.9 356.9,91.9 357.1,91.4 357.4,91.2 357.6,90.8 357.9,90.7 358.1,95.6 358.4,101.3 358.6,106.7 358.9,104.6 359.1,100.1 359.4,95.5 359.6,93.4 359.9,92.7 360.1,91.9 360.4,91.0 360.6,89.6 360.9,88.5 361.1,87.5 361.4,88.1 361.6,89.3 361.9,90.4 362.1,91.0 362.4,90.5 362.6,89.9 362.9,89.1 363.1,88.9 363.4,88.8 363.6,89.0 363.9,89.6 364.1,90.1 364.4,90.6 364.6,90.4 364.9,89.9 365.1,89.3 365.4,88.9 365.6,89.0 365.9,89.1 366.1,89.4 366.4,89.7 366.6,90.1 366.9,89.8 367.1,89.1 367.4,88.5 367.6,88.6 367.9,91.0 368.1,93.6 368.4,96.0 368.6,95.0 368.9,92.6 369.1,90.1 369.4,89.3 369.6,90.0 369.9,90.7 370.1,91.5 370.4,91.5 370.6,91.6 370.9,91.2 371.1,91.6 371.4,92.0 371.6,92.3 371.9,91.9 372.1,91.3 372.4,90.7 372.6,91.0 372.9,91.5 373.1,92.0 373.4,92.7 373.6,93.0 373.9,93.3 374.1,93.3 374.4,93.7 374.6,94.1 374.9,94.1 375.1,93.4 375.4,92.7 375.6,92.3 375.9,92.8 376.1,93.4 376.4,93.9 376.6,93.9 376.9,93.8 377.1,93.7 377.4,94.0 377.6,94.4 377.9,94.7 378.1,94.7 378.4,94.2 378.6,93.8 378.9,93.8 379.1,94.4 379.4,95.1 379.6,95.7 379.9,95.7 380.1,95.6 380.4,95.6 380.6,95.6 380.9,95.6 381.1,95.8 381.4,95.9 381.6,98.4 381.9,102.6 382.1,107.0 382.4,108.6 382.6,105.4 382.9,102.1 383.1,105.0 383.4,111.0 383.6,116.8 383.9,113.2 384.1,107.2 384.4,101.0 384.6,98.4 384.9,98.1 385.1,97.9 385.4,97.8 385.6,97.9 385.9,98.2 386.1,102.1 386.4,106.3 386.6,110.3 386.9,108.5 387.1,104.7 387.4,100.8 387.6,99.0 387.9,98.5 388.1,98.1 388.4,97.7 388.6,97.8 388.9,98.2 389.1,98.6 389.4,99.0 389.6,99.3 389.9,99.7 390.1,100.0 390.4,99.6 390.6,99.3 390.9,99.0 391.1,99.3 391.4,99.8 391.6,100.4 391.9,100.8 392.1,101.2 392.4,103.0 392.6,106.8 392.9,110.5 393.1,112.6 393.4,109.0 393.6,105.4 393.9,101.8 394.1,101.6 394.4,101.1 394.6,100.7 394.9,100.4 395.1,100.5 395.4,100.7 395.6,101.0 395.9,101.3 396.1,101.6 396.4,101.9 396.6,102.0 396.9,101.8 397.1,101.6 397.4,101.3 397.6,101.2 397.9,101.0 398.1,100.9 398.4,101.6 398.6,102.2 398.9,102.9 399.1,102.5 399.4,101.9 399.6,101.3 399.9,101.7 400.1,103.4 400.4,105.5 400.6,107.2 400.9,107.1 401.1,105.4 401.4,103.8 401.6,102.9 401.9,103.1 402.1,103.4 402.4,103.5 402.6,105.6 402.9,107.8 403.1,109.9 403.4,108.9 403.6,107.0 403.9,107.4 404.1,109.6 404.4,112.4 404.6,111.8 404.9,108.8 405.1,105.8 405.4,103.8 405.6,103.5 405.9,103.3 406.1,103.1 406.4,103.3 406.6,103.6 406.9,103.9 407.1,103.7 407.4,103.3 407.6,103.0 407.9,103.2 408.1,103.7 408.4,104.4 408.6,104.8 408.9,105.1 409.1,105.7 409.4,106.8 409.6,119.9 409.9,132.9 410.1,145.3 410.4,138.3 410.6,126.2 410.9,113.6 411.1,108.0 411.4,107.8 411.6,108.2 411.9,108.8 412.1,108.4 412.4,107.3 412.6,106.0 412.9,104.9 413.1,104.3 413.4,104.0 413.6,104.5 413.9,105.0 414.1,105.5 414.4,105.8 414.6,106.3 414.9,106.7 415.1,106.7 415.4,106.7 415.6,106.8 415.9,109.7 416.1,116.0 416.4,122.2 416.6,125.6 416.9,119.9 417.1,113.9 417.4,108.6 417.6,110.1 417.9,111.8 418.1,112.9 418.4,110.7 418.6,108.5 418.9,106.3 419.1,106.5 419.4,106.9 419.6,107.4 419.9,107.5 420.1,107.6 420.4,107.6 420.6,107.7 420.9,108.0 421.1,108.3 421.4,108.5 421.6,108.5 421.9,108.5 422.1,108.5 422.4,108.8 422.6,109.0 422.9,109.3 423.1,109.0 423.4,108.6 423.6,108.9 423.9,110.7 424.1,112.9 424.4,114.2 424.6,113.4 424.9,111.8 425.1,110.5 425.4,110.1 425.6,110.0 425.9,109.9 426.1,110.0 426.4,110.9 426.6,111.9 426.9,114.7 427.1,119.2 427.4,123.5 427.6,126.0 427.9,122.2 428.1,119.9 428.4,122.4 428.6,129.0 428.9,135.3 429.1,130.3 429.4,125.7 429.6,120.8 429.9,119.4 430.1,116.8 430.4,114.3 430.6,112.3 430.9,111.9 431.1,111.8 431.4,111.7 431.6,111.7 431.9,111.5 432.1,111.4 432.4,111.2 432.6,111.3 432.9,111.7 433.1,112.2 433.4,112.7 433.6,112.7 433.9,113.0 434.1,114.9 434.4,123.8 434.6,132.4 434.9,140.6 435.1,133.0 435.4,124.8 435.6,116.4 435.9,114.1 436.1,113.4 436.4,112.9 436.6,112.5 436.9,112.0 437.1,111.5 437.4,111.4 437.6,111.9 437.9,112.5 438.1,113.0 438.4,113.1 438.6,113.1 438.9,113.1 439.1,112.9 439.4,112.8 439.6,112.8 439.9,113.2 440.1,114.1 440.4,117.7 440.6,125.3 440.9,132.6 441.1,136.8 441.4,130.0 441.6,123.0 441.9,115.9 442.1,115.5 442.4,115.2 442.6,115.2 442.9,118.7 443.1,123.3 443.4,127.8 443.6,126.9 443.9,122.5 444.1,118.0 444.4,115.1 444.6,114.8 444.9,114.4 445.1,114.1 445.4,114.0 445.6,114.6 445.9,115.2 446.1,115.8 446.4,115.9 446.6,116.1 446.9,116.2 447.1,115.7 447.4,115.1 447.6,114.4 447.9,114.5 448.1,115.0 448.4,115.5 448.6,115.9 448.9,116.3 449.1,116.7 449.4,117.0 449.6,117.0 449.9,117.0 450.1,117.0 450.4,117.3 450.6,117.5 450.9,117.8 451.1,117.8 451.4,117.8 451.6,117.8 451.9,117.8 452.1,117.8 452.4,117.8 452.6,117.9 452.9,117.9 453.1,118.0 453.4,118.2 453.6,118.5 453.9,118.8 454.1,119.2 454.4,119.1 454.6,119.1 454.9,119.1 455.1,118.8 455.4,118.5 455.6,118.2 455.9,118.5 456.1,119.0 456.4,119.6 456.6,119.7 456.9,119.3 457.1,118.9 457.4,118.7 457.6,119.4 457.9,120.0 458.1,120.6 458.4,120.5 458.6,120.4 458.9,120.3 459.1,120.3 459.4,120.3 459.6,120.3 459.9,120.4 460.1,120.6 460.4,120.9 460.6,120.9 460.9,120.6 461.1,120.3 461.4,120.4 461.6,121.0 461.9,121.7 462.1,125.9 462.4,129.7 462.6,133.3 462.9,131.2 463.1,127.6 463.4,124.0 463.6,122.4 463.9,122.2 464.1,121.9 464.4,121.8 464.6,121.7 464.9,121.9 465.1,122.0 465.4,122.2 465.6,122.3 465.9,122.5 466.1,122.7 466.4,122.5 466.6,123.0 466.9,123.5 467.1,124.2 467.4,123.9 467.6,123.3 467.9,123.0 468.1,123.3 468.4,123.8 468.6,123.9 468.9,123.5 469.1,123.1 469.4,122.9 469.6,123.1 469.9,123.3 470.1,123.6 470.4,123.9 470.6,124.1 470.9,124.4 471.1,124.3 471.4,124.0 471.6,123.8 471.9,124.1 472.1,124.8 472.4,125.5 472.6,125.6 472.9,125.1 473.1,124.5 473.4,124.2 473.6,124.5 473.9,124.8 474.1,125.1 474.4,124.8 474.6,124.5 474.9,124.2 475.1,124.8 475.4,125.5 475.6,126.1 475.9,126.2 476.1,125.9 476.4,125.6 476.6,125.6 476.9,125.9 477.1,126.3 477.4,126.5 477.6,126.4 477.9,126.4 478.1,126.4 478.4,126.9 478.6,127.4 478.9,127.9 479.1,127.7 479.4,127.4 479.6,127.1 479.9,127.0 480.1,127.0 480.4,127.0 480.6,127.1 480.9,127.2 481.1,127.4 481.4,127.8 481.6,129.9 481.9,133.0 482.1,135.9 482.4,135.9 482.6,132.8 482.9,129.7 483.1,127.8 483.4,128.0 483.6,128.3 483.9,128.2 484.1,128.0 484.4,127.7 484.6,127.7 484.9,127.8 485.1,127.9 485.4,128.2 485.6,128.7 485.9,129.2 486.1,129.6 486.4,129.2 486.6,128.8 486.9,128.4 487.1,128.5 487.4,128.7 487.6,128.9 487.9,129.2 488.1,129.5 488.4,129.9 488.6,129.9 488.9,129.4 489.1,128.9 489.4,128.7 489.6,129.2 489.9,129.7 490.1,130.2 490.4,129.9 490.6,129.6 490.9,129.3 491.1,129.6 491.4,130.0 491.6,130.4 491.9,130.4 492.1,130.3 492.4,130.3 492.6,130.5 492.9,131.5 493.1,133.3 493.4,134.9 493.6,135.5 493.9,134.0 494.1,132.4 494.4,131.1 494.6,131.1 494.9,131.2 495.1,131.4 495.4,131.6 495.6,131.9 495.9,131.8 496.1,131.5 496.4,131.2 496.6,131.2 496.9,131.6 497.1,131.9 497.4,132.2 497.6,132.1 497.9,132.0 498.1,131.9 498.4,132.1 498.6,132.3 498.9,132.4 499.1,132.2 499.4,132.0 499.6,131.7 499.9,131.8 500.1,132.1 500.4,132.4 500.6,132.5 500.9,132.5 501.1,132.5 501.4,132.5 501.6,132.7 501.9,132.8 502.1,133.0 502.4,133.1 502.6,133.2 502.9,133.3 503.1,133.4 503.4,133.4 503.6,133.5 503.9,133.5 504.1,133.5 504.4,133.6 504.6,133.5 504.9,133.4 505.1,133.3 505.4,133.2 505.6,133.3 505.9,133.4 506.1,133.5 506.4,133.8 506.6,134.1 506.9,134.5 507.1,134.4 507.4,134.2 507.6,135.1 507.9,136.9 508.1,138.9 508.4,139.5 508.6,138.1 508.9,136.5 509.1,135.3 509.4,136.2 509.6,138.3 509.9,140.5 510.1,141.7 510.4,139.8 510.6,137.9 510.9,135.9 511.1,135.4 511.4,135.0 511.6,134.7 511.9,135.0 512.1,135.7 512.4,138.0 512.6,140.2 512.9,141.7 513.1,140.8 513.4,138.4 513.6,136.6 513.9,135.6 514.1,135.7 514.4,135.9 514.6,136.2 514.9,136.5 515.1,136.3 515.4,136.0 515.6,135.8 515.9,135.8 516.1,136.0 516.4,136.1 516.6,136.4 516.9,136.9 517.1,137.5 517.4,137.7 517.6,137.2 517.9,136.7 518.1,136.3 518.4,136.5 518.6,136.8 518.9,137.0 519.1,136.8 519.4,136.4 519.6,136.0 519.9,136.3 520.1,136.8 520.4,137.4 520.6,137.8 520.9,138.0 521.1,138.2 521.4,138.4 521.6,138.2 521.9,138.1 522.1,137.9 522.4,137.9 522.6,138.0 522.9,138.0 523.1,138.6 523.4,139.4 523.6,140.2 523.9,140.1 524.1,139.7 524.4,139.3 524.6,139.2 524.9,139.5 525.1,139.8 525.4,140.2 525.6,140.5 525.9,140.9 526.1,141.2 526.4,141.4 526.6,141.6 526.9,142.0 527.1,142.9 527.4,144.2 527.6,145.6 527.9,147.3 528.1,149.3 528.4,152.3 528.6,156.2 528.9,160.2 529.1,161.4 529.4,158.8 529.6,154.8 529.9,151.4 530.1,149.1 530.4,147.1 530.6,145.7 530.9,144.6 531.1,144.0 531.4,143.6 531.6,144.2 531.9,145.4 532.1,146.9 532.4,146.9 532.6,145.7 532.9,143.7 533.1,142.3 533.4,141.5 533.6,141.4 533.9,141.5 534.1,141.5 534.4,141.8 534.6,142.1 534.9,142.4 535.1,142.2 535.4,141.9 535.6,141.6 535.9,141.6 536.1,141.8 536.4,142.0 536.6,142.1 536.9,142.1 537.1,142.2 537.4,142.4 537.6,142.7 537.9,143.1 538.1,146.4 538.4,149.7 538.6,152.9 538.9,151.3 539.1,148.4 539.4,145.4 539.6,144.2 539.9,143.9 540.1,143.6 540.4,143.4 540.6,143.4 540.9,143.6 541.1,143.8 541.4,144.0 541.6,143.9 541.9,143.8 542.1,143.7 542.4,143.3 542.6,143.0 542.9,142.6 543.1,143.0 543.4,143.5 543.6,144.1 543.9,144.1 544.1,143.8 544.4,143.6 544.6,143.7 544.9,144.3 545.1,144.9 545.4,146.4 545.6,147.9 545.9,149.3 546.1,149.1 546.4,147.6 546.6,146.0 546.9,145.0 547.1,145.0 547.4,145.1 547.6,145.3 547.9,146.0 548.1,146.8 548.4,147.6 548.6,147.7 548.9,147.2 549.1,146.7 549.4,146.3 549.6,145.9 549.9,145.5 550.1,145.1 550.4,145.6 550.6,146.1 550.9,146.6 551.1,146.5 551.4,146.2 551.6,146.0 551.9,147.1 552.1,148.7 552.4,150.2 552.6,149.9 552.9,148.2 553.1,146.4 553.4,145.4 553.6,145.8 553.9,146.3 554.1,146.8 554.4,147.0 554.6,147.1 554.9,147.3 555.1,147.2 555.4,147.0 555.6,146.8 555.9,146.7 556.1,146.6 556.4,146.6 556.6,148.1 556.9,149.8 557.1,151.4 557.4,150.9 557.6,149.7 557.9,148.4 558.1,147.9 558.4,147.9 558.6,147.9 558.9,148.0 559.1,148.1 559.4,148.2 559.6,148.2 559.9,148.3 560.1,148.3 560.4,148.2 560.6,148.1 560.9,147.9 561.1,147.7 561.4,147.6 561.6,147.7 561.9,147.8 562.1,148.0 562.4,148.3 562.6,148.6 562.9,148.9 563.1,149.0 563.4,149.1 563.6,149.3 563.9,149.4 564.1,149.5 564.4,149.8 564.6,150.6 564.9,156.6 565.1,163.9 565.4,170.6 565.6,168.9 565.9,161.8 566.1,154.6 566.4,150.5 566.6,150.1 566.9,149.9 567.1,149.9 567.4,150.0 567.6,150.3 567.9,150.8 568.1,152.4 568.4,158.4 568.6,164.1 568.9,169.4 569.1,163.8 569.4,157.9 569.6,152.0 569.9,150.4 570.1,150.0 570.4,150.0 570.6,150.1 570.9,150.3 571.1,150.5 571.4,150.7 571.6,150.9 571.9,153.5 572.1,156.6 572.4,159.7 572.6,159.2 572.9,156.3 573.1,153.3 573.4,151.2 573.6,150.5 573.9,149.8 574.1,149.3 574.4,149.7 574.6,150.0 574.9,150.4 575.1,150.4 575.4,150.3 575.6,150.3 575.9,150.3 576.1,150.5 576.4,150.6 576.6,150.8 576.9,151.1 577.1,151.3 577.4,151.5 577.6,151.5 577.9,151.5 578.1,151.5 578.4,151.6 578.6,151.8 578.9,152.0 579.1,151.9 579.4,152.8 579.6,153.9 579.9,155.3 580.1,155.4 580.4,154.3 580.6,153.0 580.9,152.1 581.1,152.0 581.4,152.0 581.6,152.4 581.9,152.8 582.1,153.2 582.4,153.1 582.6,153.0 582.9,152.9 583.1,152.7 583.4,152.5 583.6,152.2 583.9,152.4 584.1,152.8 584.4,153.2 584.6,153.4 584.9,153.5 585.1,153.8 585.4,155.3 585.6,158.9 585.9,162.3 586.1,164.3 586.4,161.1 586.6,157.8 586.9,154.4 587.1,153.8 587.4,153.3 587.6,152.9 587.9,153.3 588.1,154.2 588.4,156.7 588.6,159.1 588.9,160.9 589.1,160.3 589.4,158.0 589.6,155.7 589.9,154.2 590.1,153.9 590.4,154.1 590.6,154.2 590.9,154.4 591.1,154.5 591.4,154.5 591.6,154.5 591.9,154.6 592.1,154.8 592.4,155.0 592.6,155.0 592.9,155.0 593.1,155.0 593.4,155.2 593.6,155.9 593.9,156.7 594.1,159.4 594.4,160.8 594.6,162.1 594.9,160.2 595.1,158.7 595.4,157.3 595.6,157.1 595.9,157.0 596.1,156.6 596.4,156.3 596.6,156.3 596.9,156.6 597.1,157.0 597.4,157.2 597.6,157.0 597.9,156.8 598.1,156.6 598.4,156.7 598.6,156.7 598.9,156.7"/><polyline points="334.4,138.5 334.6,140.1 334.9,141.2 335.1,141.6 335.4,141.9 335.6,141.9 335.9,141.5 336.1,140.9 336.4,140.4 336.6,139.9 336.9,139.9 337.1,140.0 337.4,141.3 337.6,141.8 337.9,142.4 338.1,141.9 338.4,141.5 338.6,141.2 338.9,141.2 339.1,142.3 339.4,143.8 339.6,145.2 339.9,145.2 340.1,148.0 340.4,150.7 340.6,154.2 340.9,152.9 341.1,149.6 341.4,145.4 341.6,143.0 341.9,142.3 342.1,142.7 342.4,141.8 342.6,141.0 342.9,140.4 343.1,141.0 343.4,141.9 343.6,142.8 343.9,144.1 344.1,145.3 344.4,146.3 344.6,145.8 344.9,145.9 345.1,146.1 345.4,147.1 345.6,144.9 345.9,142.7 346.1,140.1 346.4,141.8 346.6,143.6 346.9,145.6 347.1,145.7 347.4,145.5 347.6,145.1 347.9,144.2 348.1,142.8 348.4,141.5 348.6,140.9 348.9,142.3 349.1,143.6 349.4,145.4 349.6,145.3 349.9,145.4 350.1,145.7 350.4,147.6 350.6,149.4 350.9,149.2 351.1,147.5 351.4,145.5 351.6,144.5 351.9,144.5 352.1,144.5 352.4,144.7 352.6,145.2 352.9,145.9 353.1,146.5 353.4,146.2 353.6,145.8 353.9,145.5 354.1,146.2 354.4,147.1 354.6,148.1 354.9,148.4 355.1,148.7 355.4,151.6 355.6,154.7 355.9,158.4 356.1,155.6 356.4,152.5 356.6,149.6 356.9,149.3 357.1,149.8 357.4,149.7 357.6,149.6 357.9,149.7 358.1,157.7 358.4,165.8 358.6,173.5 358.9,169.0 359.1,161.2 359.4,153.2 359.6,149.7 359.9,149.2 360.1,148.9 360.4,148.4 360.6,148.0 360.9,147.7 361.1,147.6 361.4,148.1 361.6,148.5 361.9,149.0 362.1,148.6 362.4,148.2 362.6,149.1 362.9,151.1 363.1,153.4 363.4,153.7 363.6,152.4 363.9,150.3 364.1,149.0 364.4,148.5 364.6,148.3 364.9,148.1 365.1,147.9 365.4,147.8 365.6,147.8 365.9,147.8 366.1,147.8 366.4,147.6 366.6,147.4 366.9,147.4 367.1,147.9 367.4,148.5 367.6,148.9 367.9,149.9 368.1,151.2 368.4,152.8 368.6,153.5 368.9,152.8 369.1,151.9 369.4,149.7 369.6,148.3 369.9,147.1 370.1,147.4 370.4,148.0 370.6,148.7 370.9,149.0 371.1,149.2 371.4,149.4 371.6,149.6 371.9,149.5 372.1,149.4 372.4,149.1 372.6,148.6 372.9,148.1 373.1,147.8 373.4,148.9 373.6,149.9 373.9,151.0 374.1,149.7 374.4,148.3 374.6,146.9 374.9,147.3 375.1,148.4 375.4,149.4 375.6,149.8 375.9,149.4 376.1,148.9 376.4,148.4 376.6,148.4 376.9,148.3 377.1,148.3 377.4,149.0 377.6,149.6 377.9,150.1 378.1,150.2 378.4,150.2 378.6,150.2 378.9,149.8 379.1,149.3 379.4,148.8 379.6,148.8 379.9,149.1 380.1,149.4 380.4,149.6 380.6,150.0 380.9,150.3 381.1,150.8 381.4,151.2 381.6,153.7 381.9,157.5 382.1,161.0 382.4,161.8 382.6,158.7 382.9,155.6 383.1,159.3 383.4,165.6 383.6,172.0 383.9,168.9 384.1,162.9 384.4,156.5 384.6,152.8 384.9,151.8 385.1,151.1 385.4,151.3 385.6,151.8 385.9,152.5 386.1,156.4 386.4,160.0 386.6,163.4 386.9,161.1 387.1,157.6 387.4,153.9 387.6,152.5 387.9,152.8 388.1,153.1 388.4,153.6 388.6,153.2 388.9,152.9 389.1,152.6 389.4,152.6 389.6,152.6 389.9,152.6 390.1,152.8 390.4,153.0 390.6,153.2 390.9,153.2 391.1,153.1 391.4,153.0 391.6,153.1 391.9,153.5 392.1,154.1 392.4,156.6 392.6,162.1 392.9,167.5 393.1,170.6 393.4,165.8 393.6,160.9 393.9,155.8 394.1,155.0 394.4,153.9 394.6,153.0 394.9,152.9 395.1,153.9 395.4,155.0 395.6,155.6 395.9,154.9 396.1,154.2 396.4,153.6 396.6,153.9 396.9,154.2 397.1,154.5 397.4,154.3 397.6,153.9 397.9,153.5 398.1,153.6 398.4,153.8 398.6,154.1 398.9,154.4 399.1,154.6 399.4,154.8 399.6,155.0 399.9,155.1 400.1,155.3 400.4,155.4 400.6,155.1 400.9,154.8 401.1,154.6 401.4,154.7 401.6,154.8 401.9,155.1 402.1,155.4 402.4,155.8 402.6,159.4 402.9,163.3 403.1,167.5 403.4,166.4 403.6,163.7 403.9,163.0 404.1,165.1 404.4,168.3 404.6,167.8 404.9,164.1 405.1,160.4 405.4,157.6 405.6,157.1 405.9,156.7 406.1,156.7 406.4,157.0 406.6,157.4 406.9,157.5 407.1,157.4 407.4,157.3 407.6,157.2 407.9,157.2 408.1,157.2 408.4,157.3 408.6,157.6 408.9,158.2 409.1,159.2 409.4,160.9 409.6,174.3 409.9,187.6 410.1,199.9 410.4,192.5 410.6,179.7 410.9,166.7 411.1,161.0 411.4,160.8 411.6,161.2 411.9,162.0 412.1,161.8 412.4,160.9 412.6,159.6 412.9,158.7 413.1,158.4 413.4,158.5 413.6,158.7 413.9,158.9 414.1,158.8 414.4,158.7 414.6,158.6 414.9,158.7 415.1,159.0 415.4,159.6 415.6,160.4 415.9,164.8 416.1,174.3 416.4,183.6 416.6,189.0 416.9,180.3 417.1,171.1 417.4,162.8 417.6,164.1 417.9,165.5 418.1,166.1 418.4,163.9 418.6,161.8 418.9,159.9 419.1,159.7 419.4,159.6 419.6,159.5 419.9,159.3 420.1,159.1 420.4,159.0 420.6,159.2 420.9,159.3 421.1,159.5 421.4,159.8 421.6,160.1 421.9,160.5 422.1,160.5 422.4,160.4 422.6,160.3 422.9,160.2 423.1,160.2 423.4,160.1 423.6,160.0 423.9,160.1 424.1,160.1 424.4,160.1 424.6,160.4 424.9,160.7 425.1,161.1 425.4,161.3 425.6,162.4 425.9,164.3 426.1,166.5 426.4,167.7 426.6,167.0 426.9,169.3 427.1,176.4 427.4,184.5 427.6,189.4 427.9,182.1 428.1,175.4 428.4,172.2 428.6,175.9 428.9,179.6 429.1,175.7 429.4,172.5 429.6,169.3 429.9,168.2 430.1,166.5 430.4,165.1 430.6,164.2 430.9,164.1 431.1,163.4 431.4,162.8 431.6,162.4 431.9,162.5 432.1,162.6 432.4,162.7 432.6,162.9 432.9,163.1 433.1,163.3 433.4,163.7 433.6,164.1 433.9,164.7 434.1,166.3 434.4,171.9 434.6,177.4 434.9,182.9 435.1,177.9 435.4,172.6 435.6,167.0 435.9,165.0 436.1,164.1 436.4,163.3 436.6,163.2 436.9,163.3 437.1,163.3 437.4,163.4 437.6,163.5 437.9,163.5 438.1,163.7 438.4,164.0 438.6,164.2 438.9,164.4 439.1,164.4 439.4,164.6 439.6,164.8 439.9,165.0 440.1,165.3 440.4,168.0 440.6,174.6 440.9,180.9 441.1,184.7 441.4,178.8 441.6,172.7 441.9,166.5 442.1,166.0 442.4,165.8 442.6,165.8 442.9,168.2 443.1,171.2 443.4,174.1 443.6,173.6 443.9,170.8 444.1,167.8 444.4,166.1 444.6,165.6 444.9,165.2 445.1,164.9 445.4,165.0 445.6,165.2 445.9,165.4 446.1,165.4 446.4,165.3 446.6,165.1 446.9,165.1 447.1,165.2 447.4,165.4 447.6,165.5 447.9,165.6 448.1,165.7 448.4,165.8 448.6,165.8 448.9,165.7 449.1,165.7 449.4,165.9 449.6,166.1 449.9,166.3 450.1,166.4 450.4,166.4 450.6,166.4 450.9,166.3 451.1,166.3 451.4,166.3 451.6,166.3 451.9,166.6 452.1,167.0 452.4,167.2 452.6,166.8 452.9,166.3 453.1,165.9 453.4,166.4 453.6,167.1 453.9,167.7 454.1,167.6 454.4,166.9 454.6,166.3 454.9,166.2 455.1,166.8 455.4,167.5 455.6,168.0 455.9,167.9 456.1,167.9 456.4,167.9 456.6,168.0 456.9,168.1 457.1,168.2 457.4,168.1 457.6,168.0 457.9,167.8 458.1,167.9 458.4,168.0 458.6,168.2 458.9,168.3 459.1,168.4 459.4,168.4 459.6,168.5 459.9,168.4 460.1,168.3 460.4,168.3 460.6,168.4 460.9,168.5 461.1,168.6 461.4,168.9 461.6,169.3 461.9,169.7 462.1,172.4 462.4,175.0 462.6,177.4 462.9,175.9 463.1,173.3 463.4,170.7 463.6,169.5 463.9,169.4 464.1,169.3 464.4,169.4 464.6,169.3 464.9,169.3 465.1,169.2 465.4,169.5 465.6,169.9 465.9,170.2 466.1,170.1 466.4,169.7 466.6,169.3 466.9,169.2 467.1,169.3 467.4,169.4 467.6,169.6 467.9,169.9 468.1,170.2 468.4,170.6 468.6,170.4 468.9,170.2 469.1,170.0 469.4,169.9 469.6,169.9 469.9,169.9 470.1,170.0 470.4,170.3 470.6,170.5 470.9,170.6 471.1,170.7 471.4,170.8 471.6,170.9 471.9,171.1 472.1,171.4 472.4,171.5 472.6,171.2 472.9,170.8 473.1,170.4 473.4,170.6 473.6,170.8 473.9,171.0 474.1,171.1 474.4,171.3 474.6,171.4 474.9,171.5 475.1,171.5 475.4,171.6 475.6,171.6 475.9,171.8 476.1,171.9 476.4,172.0 476.6,172.0 476.9,172.0 477.1,172.0 477.4,172.0 477.6,172.0 477.9,172.0 478.1,172.0 478.4,171.8 478.6,171.7 478.9,171.7 479.1,171.9 479.4,172.0 479.6,172.2 479.9,172.6 480.1,173.0 480.4,173.4 480.6,173.4 480.9,173.5 481.1,173.7 481.4,174.0 481.6,176.0 481.9,179.1 482.1,182.0 482.4,182.4 482.6,179.2 482.9,176.0 483.1,173.5 483.4,173.3 483.6,173.3 483.9,173.5 484.1,173.8 484.4,174.1 484.6,173.6 484.9,173.1 485.1,172.7 485.4,172.8 485.6,173.0 485.9,173.2 486.1,173.5 486.4,173.8 486.6,174.2 486.9,174.1 487.1,173.6 487.4,173.1 487.6,172.9 487.9,173.5 488.1,174.1 488.4,174.7 488.6,174.4 488.9,174.0 489.1,173.6 489.4,174.1 489.6,174.8 489.9,175.4 490.1,175.4 490.4,174.9 490.6,174.4 490.9,174.3 491.1,174.5 491.4,174.8 491.6,175.0 491.9,175.0 492.1,175.0 492.4,175.1 492.6,175.7 492.9,177.2 493.1,180.2 493.4,182.6 493.6,183.7 493.9,180.9 494.1,178.3 494.4,175.9 494.6,175.9 494.9,175.8 495.1,175.5 495.4,175.3 495.6,175.2 495.9,175.0 496.1,174.8 496.4,174.6 496.6,175.0 496.9,175.3 497.1,175.7 497.4,175.8 497.6,175.8 497.9,175.8 498.1,175.8 498.4,175.7 498.6,175.6 498.9,175.5 499.1,175.5 499.4,175.5 499.6,175.6 499.9,175.8 500.1,176.1 500.4,176.3 500.6,176.3 500.9,176.3 501.1,176.3 501.4,176.2 501.6,176.0 501.9,175.9 502.1,176.3 502.4,176.9 502.6,177.6 502.9,177.7 503.1,177.1 503.4,176.5 503.6,176.2 503.9,176.6 504.1,177.1 504.4,177.5 504.6,177.0 504.9,176.5 505.1,175.9 505.4,176.4 505.6,177.1 505.9,177.8 506.1,177.8 506.4,177.4 506.6,177.0 506.9,176.9 507.1,177.0 507.4,177.2 507.6,178.2 507.9,179.7 508.1,181.1 508.4,181.5 508.6,180.3 508.9,179.1 509.1,178.2 509.4,178.9 509.6,180.5 509.9,182.1 510.1,183.0 510.4,181.3 510.6,179.5 510.9,177.8 511.1,177.9 511.4,178.1 511.6,178.2 511.9,178.2 512.1,178.2 512.4,179.8 512.6,182.1 512.9,184.3 513.1,184.1 513.4,182.1 513.6,180.0 513.9,178.7 514.1,178.5 514.4,178.2 514.6,178.0 514.9,178.1 515.1,178.3 515.4,178.6 515.6,178.7 515.9,178.7 516.1,178.7 516.4,178.6 516.6,178.7 516.9,178.8 517.1,178.8 517.4,178.8 517.6,178.8 517.9,178.8 518.1,178.5 518.4,178.2 518.6,177.8 518.9,178.1 519.1,179.1 519.4,180.1 519.6,180.8 519.9,180.4 520.1,179.9 520.4,179.5 520.6,179.5 520.9,179.4 521.1,179.4 521.4,179.6 521.6,179.9 521.9,180.1 522.1,180.2 522.4,180.2 522.6,180.1 522.9,180.2 523.1,180.3 523.4,180.4 523.6,180.5 523.9,180.3 524.1,180.2 524.4,180.0 524.6,180.2 524.9,180.3 525.1,180.5 525.4,180.9 525.6,181.4 525.9,181.9 526.1,182.2 526.4,182.4 526.6,182.6 526.9,183.0 527.1,183.5 527.4,184.0 527.6,184.5 527.9,184.6 528.1,185.0 528.4,185.8 528.6,187.7 528.9,189.5 529.1,190.3 529.4,189.8 529.6,188.7 529.9,187.7 530.1,186.6 530.4,185.6 530.6,184.7 530.9,184.2 531.1,184.1 531.4,184.1 531.6,185.1 531.9,186.1 532.1,187.1 532.4,186.5 532.6,184.9 532.9,183.3 533.1,182.3 533.4,182.6 533.6,183.2 533.9,183.7 534.1,183.9 534.4,183.9 534.6,183.9 534.9,183.8 535.1,183.7 535.4,183.6 535.6,183.5 535.9,183.4 536.1,183.4 536.4,183.4 536.6,183.5 536.9,183.7 537.1,183.9 537.4,184.3 537.6,184.7 537.9,185.3 538.1,189.8 538.4,194.2 538.6,198.4 538.9,196.0 539.1,191.7 539.4,187.3 539.6,185.2 539.9,185.0 540.1,184.8 540.4,184.8 540.6,184.8 540.9,184.7 541.1,184.7 541.4,184.7 541.6,184.6 541.9,184.6 542.1,184.6 542.4,184.5 542.6,184.5 542.9,184.6 543.1,184.9 543.4,185.1 543.6,185.3 543.9,185.2 544.1,185.2 544.4,185.1 544.6,185.2 544.9,185.4 545.1,185.5 545.4,187.1 545.6,189.0 545.9,190.8 546.1,190.6 546.4,189.0 546.6,187.3 546.9,186.2 547.1,185.7 547.4,185.3 547.6,185.2 547.9,186.2 548.1,187.4 548.4,188.5 548.6,188.2 548.9,187.3 549.1,186.4 549.4,186.3 549.6,186.7 549.9,187.1 550.1,187.0 550.4,186.7 550.6,186.4 550.9,186.3 551.1,186.7 551.4,187.0 551.6,187.3 551.9,188.4 552.1,189.7 552.4,191.0 552.6,190.8 552.9,189.6 553.1,188.3 553.4,187.0 553.6,186.3 553.9,185.8 554.1,185.9 554.4,186.5 554.6,187.1 554.9,187.5 555.1,187.7 555.4,187.9 555.6,187.9 555.9,187.5 556.1,187.1 556.4,186.8 556.6,188.8 556.9,190.9 557.1,192.8 557.4,191.6 557.6,189.6 557.9,187.5 558.1,186.9 558.4,187.2 558.6,187.5 558.9,187.7 559.1,187.6 559.4,187.6 559.6,187.6 559.9,187.8 560.1,188.0 560.4,188.1 560.6,188.2 560.9,188.2 561.1,188.2 561.4,188.0 561.6,187.7 561.9,187.3 562.1,187.7 562.4,188.3 562.6,189.0 562.9,189.1 563.1,188.4 563.4,187.8 563.6,187.5 563.9,188.0 564.1,188.8 564.4,189.9 564.6,191.1 564.9,200.6 565.1,212.1 565.4,222.9 565.6,220.5 565.9,209.1 566.1,197.6 566.4,190.5 566.6,189.7 566.9,189.1 567.1,188.9 567.4,189.0 567.6,189.3 567.9,190.1 568.1,191.9 568.4,197.9 568.6,203.3 568.9,208.5 569.1,203.2 569.4,197.5 569.6,191.6 569.9,189.8 570.1,189.5 570.4,189.5 570.6,189.7 570.9,189.5 571.1,188.9 571.4,188.4 571.6,188.3 571.9,190.9 572.1,194.0 572.4,197.0 572.6,196.7 572.9,194.6 573.1,192.3 573.4,190.3 573.6,189.6 573.9,188.9 574.1,189.0 574.4,189.5 574.6,190.0 574.9,190.1 575.1,189.6 575.4,189.1 575.6,188.8 575.9,189.1 576.1,189.5 576.4,189.8 576.6,189.8 576.9,189.8 577.1,189.7 577.4,189.8 577.6,189.9 577.9,190.0 578.1,190.1 578.4,190.1 578.6,190.1 578.9,190.3 579.1,190.6 579.4,191.7 579.6,193.0 579.9,193.9 580.1,193.6 580.4,192.5 580.6,191.3 580.9,190.6 581.1,190.4 581.4,190.4 581.6,190.4 581.9,190.4 582.1,190.3 582.4,190.2 582.6,190.1 582.9,190.2 583.1,190.4 583.4,190.6 583.6,190.7 583.9,190.5 584.1,190.3 584.4,190.2 584.6,190.3 584.9,190.6 585.1,191.0 585.4,193.4 585.6,198.3 585.9,203.1 586.1,205.7 586.4,201.5 586.6,197.1 586.9,192.7 587.1,192.4 587.4,192.2 587.6,192.1 587.9,191.9 588.1,191.8 588.4,193.3 588.6,195.8 588.9,198.2 589.1,198.1 589.4,195.7 589.6,193.1 589.9,191.3 590.1,191.3 590.4,191.8 590.6,192.3 590.9,192.6 591.1,192.4 591.4,192.3 591.6,192.3 591.9,192.5 592.1,192.8 592.4,193.0 592.6,192.8 592.9,192.7 593.1,192.6 593.4,192.8 593.6,193.1 593.9,193.4 594.1,195.4 594.4,197.2 594.6,198.9 594.9,197.8 595.1,196.4 595.4,194.9 595.6,194.3 595.9,193.9 596.1,193.6 596.4,193.3 596.6,193.2 596.9,193.1 597.1,193.1 597.4,193.2 597.6,193.4 597.9,193.6 598.1,193.8 598.4,194.0 598.6,194.2 598.9,194.5"/><polyline points="334.4,187.4 334.6,187.4 334.9,187.4 335.1,187.4 335.4,187.1 335.6,185.9 335.9,184.7 336.1,183.6 336.4,186.4 336.6,189.4 336.9,192.5 337.1,191.4 337.4,188.9 337.6,186.3 337.9,184.6 338.1,184.3 338.4,184.0 338.6,184.9 338.9,187.0 339.1,189.2 339.4,191.0 339.6,191.5 339.9,192.1 340.1,199.0 340.4,204.1 340.6,209.0 340.9,203.6 341.1,198.2 341.4,193.4 341.6,192.4 341.9,192.2 342.1,190.9 342.4,189.7 342.6,189.0 342.9,188.8 343.1,188.8 343.4,188.5 343.6,187.1 343.9,185.7 344.1,184.3 344.4,188.0 344.6,191.8 344.9,195.6 345.1,195.1 345.4,193.2 345.6,191.3 345.9,190.9 346.1,191.6 346.4,192.3 346.6,193.0 346.9,193.9 347.1,194.6 347.4,194.4 347.6,192.0 347.9,189.7 348.1,187.7 348.4,189.6 348.6,191.4 348.9,193.0 349.1,193.0 349.4,192.8 349.6,192.8 349.9,194.5 350.1,196.6 350.4,198.5 350.6,198.7 350.9,198.0 351.1,197.1 351.4,196.8 351.6,197.2 351.9,197.6 352.1,197.7 352.4,197.8 352.6,198.0 352.9,198.3 353.1,199.2 353.4,200.1 353.6,200.9 353.9,201.0 354.1,200.6 354.4,200.5 354.6,201.5 354.9,203.6 355.1,208.2 355.4,221.8 355.6,234.3 355.9,246.1 356.1,233.8 356.4,220.7 356.6,207.3 356.9,203.5 357.1,202.0 357.4,201.3 357.6,201.3 357.9,202.9 358.1,219.9 358.4,236.7 358.6,252.4 358.9,242.9 359.1,226.5 359.4,209.5 359.6,201.2 359.9,199.1 360.1,197.5 360.4,196.7 360.6,196.1 360.9,195.7 361.1,196.1 361.4,196.8 361.6,197.5 361.9,197.4 362.1,196.7 362.4,196.0 362.6,197.9 362.9,201.0 363.1,203.9 363.4,203.5 363.6,200.3 363.9,197.1 364.1,195.0 364.4,195.2 364.6,195.4 364.9,195.7 365.1,196.1 365.4,196.8 365.6,197.5 365.9,197.8 366.1,197.8 366.4,197.7 366.6,197.7 366.9,197.5 367.1,197.2 367.4,196.7 367.6,195.8 367.9,196.5 368.1,197.8 368.4,200.7 368.6,201.1 368.9,199.9 369.1,197.9 369.4,197.1 369.6,197.3 369.9,197.5 370.1,197.0 370.4,196.5 370.6,196.7 370.9,198.1 371.1,199.4 371.4,200.0 371.6,198.9 371.9,197.8 372.1,196.9 372.4,196.5 372.6,196.0 372.9,195.5 373.1,195.8 373.4,196.2 373.6,196.5 373.9,196.7 374.1,197.3 374.4,197.8 374.6,198.5 374.9,198.9 375.1,199.1 375.4,199.0 375.6,199.0 375.9,199.0 376.1,199.0 376.4,198.3 376.6,197.4 376.9,196.4 377.1,196.7 377.4,197.4 377.6,198.2 377.9,198.4 378.1,197.9 378.4,197.4 378.6,196.9 378.9,197.1 379.1,197.5 379.4,197.9 379.6,198.3 379.9,198.7 380.1,199.1 380.4,199.7 380.6,200.2 380.9,200.7 381.1,200.1 381.4,199.6 381.6,200.8 381.9,203.8 382.1,207.1 382.4,208.0 382.6,205.4 382.9,202.8 383.1,207.1 383.4,213.5 383.6,219.4 383.9,215.6 384.1,209.2 384.4,203.3 384.6,200.9 384.9,201.0 385.1,200.8 385.4,200.8 385.6,201.0 385.9,201.2 386.1,204.9 386.4,208.5 386.6,212.1 386.9,209.9 387.1,206.2 387.4,202.4 387.6,200.8 387.9,200.8 388.1,200.9 388.4,200.5 388.6,200.0 388.9,199.5 389.1,199.6 389.4,200.0 389.6,200.4 389.9,200.6 390.1,200.6 390.4,200.6 390.6,200.4 390.9,199.9 391.1,199.7 391.4,199.6 391.6,200.4 391.9,201.3 392.1,202.5 392.4,206.1 392.6,213.8 392.9,221.3 393.1,225.2 393.4,217.6 393.6,209.8 393.9,202.3 394.1,202.4 394.4,202.7 394.6,202.9 394.9,202.6 395.1,202.4 395.4,202.3 395.6,201.8 395.9,201.4 396.1,200.9 396.4,201.1 396.6,201.4 396.9,201.7 397.1,201.5 397.4,201.2 397.6,200.8 397.9,200.8 398.1,201.2 398.4,201.6 398.6,201.7 398.9,201.2 399.1,201.0 399.4,201.0 399.6,201.8 399.9,202.6 400.1,203.4 400.4,204.0 400.6,204.6 400.9,205.3 401.1,205.6 401.4,206.0 401.6,206.8 401.9,208.8 402.1,212.5 402.4,217.5 402.6,224.1 402.9,230.7 403.1,234.9 403.4,232.7 403.6,226.9 403.9,223.5 404.1,222.4 404.4,222.7 404.6,220.2 404.9,215.6 405.1,210.9 405.4,207.6 405.6,206.4 405.9,205.6 406.1,205.0 406.4,204.6 406.6,204.4 406.9,204.5 407.1,204.7 407.4,204.9 407.6,204.8 407.9,204.7 408.1,204.7 408.4,205.2 408.6,205.8 408.9,206.6 409.1,207.5 409.4,208.4 409.6,215.8 409.9,222.5 410.1,228.2 410.4,223.3 410.6,215.9 410.9,209.5 411.1,206.9 411.4,207.6 411.6,208.0 411.9,208.6 412.1,208.0 412.4,207.1 412.6,206.3 412.9,205.9 413.1,205.8 413.4,205.5 413.6,205.2 413.9,205.2 414.1,205.7 414.4,206.2 414.6,206.7 414.9,207.1 415.1,207.5 415.4,208.1 415.6,208.4 415.9,212.5 416.1,222.0 416.4,232.0 416.6,238.0 416.9,229.0 417.1,219.5 417.4,210.3 417.6,211.3 417.9,212.1 418.1,212.4 418.4,210.1 418.6,208.1 418.9,206.5 419.1,206.6 419.4,206.7 419.6,206.5 419.9,206.3 420.1,206.1 420.4,206.5 420.6,207.1 420.9,207.6 421.1,207.7 421.4,207.5 421.6,207.3 421.9,207.4 422.1,207.9 422.4,208.5 422.6,208.9 422.9,209.1 423.1,209.3 423.4,209.7 423.6,210.0 423.9,210.4 424.1,210.8 424.4,211.4 424.6,212.1 424.9,212.8 425.1,213.2 425.4,213.4 425.6,214.7 425.9,217.2 426.1,220.2 426.4,221.7 426.6,220.8 426.9,221.9 427.1,227.4 427.4,234.2 427.6,238.0 427.9,230.9 428.1,223.4 428.4,215.9 428.6,215.0 428.9,214.3 429.1,213.9 429.4,213.7 429.6,213.7 429.9,213.5 430.1,213.1 430.4,212.8 430.6,212.6 430.9,213.0 431.1,213.7 431.4,214.4 431.6,214.2 431.9,214.1 432.1,213.9 432.4,213.8 432.6,213.8 432.9,213.7 433.1,213.6 433.4,213.7 433.6,213.8 433.9,213.8 434.1,213.7 434.4,214.4 434.6,215.2 434.9,216.3 435.1,215.5 435.4,214.7 435.6,213.7 435.9,213.5 436.1,213.5 436.4,213.5 436.6,213.4 436.9,213.3 437.1,213.0 437.4,212.6 437.6,212.2 437.9,211.9 438.1,211.8 438.4,211.6 438.6,211.5 438.9,211.6 439.1,211.9 439.4,212.2 439.6,212.1 439.9,212.1 440.1,212.1 440.4,213.1 440.6,215.3 440.9,217.4 441.1,218.4 441.4,216.0 441.6,213.5 441.9,211.4 442.1,211.7 442.4,212.0 442.6,212.4 442.9,214.1 443.1,216.2 443.4,218.2 443.6,218.2 443.9,216.6 444.1,215.0 444.4,213.1 444.6,212.1 444.9,211.3 445.1,211.2 445.4,211.5 445.6,211.9 445.9,212.0 446.1,211.7 446.4,211.3 446.6,211.1 446.9,210.8 447.1,210.6 447.4,210.5 447.6,211.2 447.9,211.9 448.1,212.6 448.4,212.1 448.6,211.5 448.9,210.8 449.1,210.8 449.4,211.2 449.6,211.6 449.9,211.7 450.1,211.5 450.4,211.2 450.6,210.9 450.9,210.5 451.1,210.1 451.4,209.8 451.6,210.7 451.9,211.6 452.1,212.5 452.4,212.5 452.6,212.3 452.9,212.1 453.1,211.8 453.4,211.4 453.6,211.0 453.9,211.3 454.1,212.4 454.4,213.5 454.6,214.4 454.9,214.8 455.1,215.2 455.4,215.5 455.6,214.9 455.9,214.3 456.1,213.7 456.4,213.9 456.6,214.2 456.9,214.6 457.1,214.7 457.4,214.7 457.6,214.7 457.9,214.6 458.1,214.4 458.4,214.1 458.6,214.1 458.9,214.6 459.1,215.1 459.4,215.6 459.6,215.0 459.9,214.5 460.1,213.9 460.4,214.0 460.6,214.3 460.9,214.5 461.1,215.1 461.4,215.8 461.6,216.6 461.9,217.0 462.1,218.2 462.4,219.3 462.6,220.5 462.9,219.7 463.1,218.3 463.4,216.8 463.6,216.3 463.9,216.3 464.1,216.4 464.4,216.2 464.6,216.1 464.9,215.9 465.1,215.9 465.4,215.9 465.6,215.8 465.9,215.9 466.1,216.2 466.4,216.5 466.6,216.7 466.9,216.6 467.1,216.4 467.4,216.2 467.6,216.0 467.9,215.7 468.1,215.5 468.4,216.0 468.6,216.6 468.9,217.2 469.1,217.1 469.4,216.7 469.6,216.3 469.9,216.3 470.1,216.6 470.4,217.0 470.6,217.3 470.9,217.5 471.1,217.6 471.4,217.7 471.6,217.4 471.9,217.1 472.1,216.8 472.4,216.9 472.6,217.0 472.9,217.0 473.1,217.0 473.4,216.8 473.6,216.6 473.9,216.5 474.1,216.6 474.4,216.7 474.6,216.8 474.9,216.9 475.1,217.2 475.4,217.4 475.6,217.5 475.9,217.5 476.1,217.6 476.4,218.0 476.6,218.4 476.9,218.9 477.1,218.6 477.4,218.1 477.6,217.6 477.9,217.6 478.1,218.1 478.4,218.6 478.6,218.8 478.9,218.3 479.1,217.8 479.4,217.4 479.6,217.7 479.9,217.9 480.1,218.2 480.4,218.4 480.6,218.6 480.9,219.0 481.1,219.4 481.4,219.9 481.6,223.0 481.9,228.3 482.1,233.7 482.4,235.2 482.6,230.7 482.9,225.6 483.1,220.9 483.4,219.9 483.6,219.8 483.9,219.8 484.1,220.0 484.4,219.8 484.6,219.6 484.9,219.4 485.1,219.4 485.4,219.4 485.6,219.3 485.9,219.2 486.1,218.9 486.4,218.6 486.6,218.6 486.9,219.2 487.1,219.9 487.4,220.6 487.6,220.1 487.9,219.5 488.1,219.0 488.4,219.4 488.6,220.0 488.9,220.5 489.1,220.6 489.4,220.5 489.6,220.4 489.9,220.5 490.1,220.8 490.4,221.1 490.6,221.2 490.9,220.6 491.1,220.3 491.4,220.0 491.6,220.4 491.9,220.9 492.1,221.4 492.4,222.0 492.6,222.6 492.9,225.4 493.1,231.1 493.4,236.5 493.6,239.5 493.9,233.7 494.1,227.8 494.4,221.8 494.6,221.3 494.9,221.3 495.1,221.6 495.4,222.0 495.6,221.8 495.9,221.7 496.1,221.7 496.4,221.6 496.6,221.5 496.9,221.5 497.1,221.6 497.4,222.0 497.6,222.3 497.9,222.4 498.1,222.4 498.4,222.3 498.6,222.2 498.9,222.1 499.1,221.9 499.4,221.7 499.6,221.7 499.9,221.6 500.1,221.6 500.4,222.0 500.6,222.4 500.9,222.9 501.1,222.6 501.4,221.9 501.6,221.3 501.9,221.1 502.1,221.6 502.4,222.0 502.6,222.3 502.9,222.0 503.1,222.0 503.4,222.0 503.6,222.4 503.9,222.9 504.1,223.4 504.4,223.6 504.6,223.8 504.9,224.0 505.1,223.7 505.4,223.2 505.6,222.8 505.9,222.6 506.1,222.7 506.4,222.9 506.6,223.1 506.9,223.5 507.1,224.0 507.4,224.4 507.6,224.1 507.9,223.8 508.1,223.5 508.4,223.2 508.6,222.9 508.9,222.5 509.1,222.6 509.4,222.7 509.6,222.9 509.9,223.2 510.1,223.6 510.4,224.0 510.6,224.2 510.9,223.9 511.1,223.5 511.4,223.1 511.6,223.1 511.9,223.3 512.1,223.5 512.4,226.4 512.6,229.9 512.9,233.3 513.1,232.9 513.4,229.6 513.6,226.2 513.9,224.2 514.1,224.4 514.4,224.7 514.6,225.0 514.9,225.5 515.1,225.6 515.4,225.8 515.6,225.2 515.9,224.7 516.1,224.2 516.4,224.4 516.6,224.6 516.9,224.8 517.1,224.8 517.4,224.5 517.6,224.2 517.9,224.3 518.1,224.9 518.4,225.5 518.6,225.8 518.9,225.4 519.1,224.7 519.4,224.1 519.6,224.5 519.9,224.9 520.1,225.3 520.4,225.4 520.6,225.4 520.9,225.5 521.1,225.5 521.4,225.4 521.6,225.2 521.9,225.2 522.1,225.3 522.4,225.4 522.6,225.5 522.9,225.8 523.1,226.1 523.4,226.3 523.6,226.4 523.9,226.4 524.1,226.5 524.4,226.3 524.6,226.1 524.9,225.9 525.1,226.0 525.4,226.3 525.6,226.6 525.9,227.0 526.1,227.5 526.4,228.1 526.6,228.6 526.9,228.5 527.1,228.5 527.4,228.7 527.6,229.2 527.9,229.8 528.1,230.5 528.4,231.3 528.6,232.3 528.9,233.0 529.1,233.4 529.4,233.0 529.6,232.3 529.9,231.1 530.1,229.6 530.4,228.3 530.6,227.6 530.9,228.0 531.1,228.7 531.4,229.4 531.6,229.1 531.9,228.9 532.1,228.6 532.4,228.4 532.6,228.1 532.9,227.8 533.1,227.9 533.4,228.1 533.6,228.4 533.9,228.4 534.1,228.1 534.4,227.8 534.6,227.5 534.9,227.5 535.1,227.4 535.4,227.3 535.6,227.4 535.9,227.5 536.1,227.6 536.4,227.8 536.6,227.9 536.9,228.2 537.1,228.4 537.4,228.5 537.6,228.8 537.9,229.2 538.1,233.5 538.4,237.7 538.6,241.8 538.9,239.2 539.1,234.7 539.4,230.1 539.6,228.3 539.9,228.1 540.1,228.0 540.4,228.2 540.6,228.4 540.9,228.7 541.1,228.5 541.4,227.9 541.6,227.3 541.9,227.1 542.1,227.4 542.4,227.7 542.6,228.0 542.9,228.0 543.1,227.9 543.4,227.9 543.6,228.1 543.9,228.3 544.1,228.5 544.4,228.2 544.6,227.8 544.9,227.4 545.1,227.8 545.4,229.4 545.6,231.1 545.9,232.3 546.1,231.5 546.4,230.0 546.6,228.5 546.9,227.8 547.1,227.7 547.4,227.7 547.6,228.2 547.9,229.4 548.1,230.8 548.4,232.1 548.6,232.2 548.9,231.5 549.1,230.3 549.4,229.3 549.6,229.0 549.9,228.5 550.1,227.9 550.4,227.3 550.6,227.1 550.9,227.6 551.1,228.4 551.4,229.1 551.6,229.4 551.9,230.7 552.1,232.3 552.4,233.3 552.6,232.7 552.9,231.0 553.1,229.8 553.4,229.4 553.6,229.8 553.9,229.9 554.1,229.5 554.4,229.2 554.6,229.0 554.9,229.3 555.1,229.5 555.4,229.7 555.6,229.8 555.9,229.9 556.1,230.0 556.4,229.8 556.6,230.5 556.9,231.1 557.1,232.1 557.4,231.7 557.6,230.8 557.9,229.8 558.1,229.4 558.4,229.5 558.6,229.5 558.9,229.6 559.1,229.8 559.4,229.9 559.6,229.7 559.9,229.4 560.1,229.1 560.4,229.2 560.6,229.4 560.9,229.6 561.1,229.7 561.4,229.8 561.6,229.9 561.9,230.0 562.1,230.1 562.4,230.2 562.6,230.0 562.9,229.2 563.1,228.5 563.4,227.9 563.6,228.5 563.9,229.3 564.1,230.3 564.4,231.3 564.6,232.5 564.9,241.7 565.1,252.9 565.4,263.6 565.6,261.9 565.9,251.3 566.1,239.8 566.4,232.2 566.6,230.8 566.9,230.4 567.1,230.4 567.4,230.6 567.6,231.0 567.9,231.7 568.1,234.0 568.4,242.2 568.6,250.2 568.9,257.8 569.1,250.4 569.4,242.5 569.6,234.4 569.9,232.1 570.1,231.4 570.4,230.8 570.6,230.5 570.9,230.3 571.1,230.5 571.4,230.8 571.6,231.2 571.9,232.9 572.1,234.9 572.4,236.8 572.6,236.8 572.9,235.4 573.1,233.6 573.4,232.5 573.6,232.3 573.9,232.2 574.1,232.3 574.4,232.5 574.6,232.5 574.9,232.0 575.1,231.8 575.4,231.6 575.6,231.8 575.9,231.9 576.1,232.0 576.4,231.9 576.6,231.8 576.9,231.7 577.1,232.0 577.4,232.4 577.6,232.9 577.9,232.9 578.1,232.4 578.4,231.9 578.6,231.7 578.9,232.5 579.1,233.2 579.4,233.9 579.6,234.0 579.9,234.1 580.1,234.2 580.4,234.0 580.6,233.8 580.9,233.7 581.1,233.7 581.4,233.9 581.6,234.1 581.9,234.3 582.1,234.5 582.4,234.7 582.6,234.9 582.9,235.0 583.1,235.1 583.4,235.1 583.6,235.3 583.9,235.6 584.1,235.8 584.4,236.1 584.6,236.6 584.9,237.2 585.1,237.8 585.4,240.1 585.6,244.9 585.9,249.7 586.1,252.4 586.4,248.1 586.6,243.7 586.9,239.3 587.1,239.1 587.4,239.1 587.6,239.0 587.9,239.2 588.1,239.6 588.4,244.8 588.6,251.3 588.9,257.4 589.1,256.7 589.4,251.2 589.6,245.5 589.9,241.9 590.1,241.5 590.4,241.2 590.6,241.1 590.9,240.9 591.1,240.7 591.4,240.6 591.6,241.1 591.9,241.7 592.1,242.2 592.4,241.8 592.6,241.3 592.9,240.8 593.1,241.1 593.4,241.9 593.6,242.8 593.9,243.4 594.1,246.3 594.4,249.3 594.6,252.1 594.9,250.4 595.1,247.4 595.4,244.4 595.6,243.2 595.9,243.2 596.1,243.2 596.4,243.4 596.6,243.6 596.9,243.8 597.1,243.7 597.4,243.3 597.6,243.0 597.9,242.9 598.1,243.3 598.4,243.6 598.6,243.9 598.9,244.0"/><polyline points="334.4,263.6 334.6,266.1 334.9,268.4 335.1,270.3 335.4,270.2 335.6,269.9 335.9,269.5 336.1,269.0 336.4,268.1 336.6,266.7 336.9,265.4 337.1,264.2 337.4,263.0 337.6,263.2 337.9,263.4 338.1,263.4 338.4,263.5 338.6,263.1 338.9,262.5 339.1,262.1 339.4,262.0 339.6,262.0 339.9,262.8 340.1,263.3 340.4,263.9 340.6,264.4 340.9,265.0 341.1,265.8 341.4,266.5 341.6,267.3 341.9,267.1 342.1,265.8 342.4,264.5 342.6,263.2 342.9,262.0 343.1,263.7 343.4,265.4 343.6,267.1 343.9,268.8 344.1,268.7 344.4,267.1 344.6,265.4 344.9,263.7 345.1,262.6 345.4,263.6 345.6,264.6 345.9,265.6 346.1,266.7 346.4,263.9 346.6,260.3 346.9,257.2 347.1,254.1 347.4,254.4 347.6,259.2 347.9,264.0 348.1,268.8 348.4,273.3 348.6,270.5 348.9,267.6 349.1,264.8 349.4,261.9 349.6,262.3 349.9,264.7 350.1,267.1 350.4,269.6 350.6,271.1 350.9,269.3 351.1,267.5 351.4,265.8 351.6,264.3 351.9,268.0 352.1,272.8 352.4,277.8 352.6,282.8 352.9,285.3 353.1,284.5 353.4,283.9 353.6,283.6 353.9,283.8 354.1,285.7 354.4,288.2 354.6,291.8 354.9,297.0 355.1,306.0 355.4,318.6 355.6,332.1 355.9,339.9 356.1,337.0 356.4,328.6 356.6,321.4 356.9,317.5 357.1,316.9 357.4,316.8 357.6,319.4 357.9,325.5 358.1,335.3 358.4,348.4 358.6,358.0 358.9,354.7 359.1,342.1 359.4,329.0 359.6,316.1 359.9,306.5 360.1,299.4 360.4,293.9 360.6,288.6 360.9,283.5 361.1,279.0 361.4,274.8 361.6,271.8 361.9,271.2 362.1,270.8 362.4,270.5 362.6,270.4 362.9,269.4 363.1,268.3 363.4,267.2 363.6,266.3 363.9,265.7 364.1,265.5 364.4,265.4 364.6,265.5 364.9,265.6 365.1,265.2 365.4,264.9 365.6,264.6 365.9,264.3 366.1,263.9 366.4,263.3 366.6,262.7 366.9,262.1 367.1,261.5 367.4,260.9 367.6,260.2 367.9,259.6 368.1,259.0 368.4,259.2 368.6,259.6 368.9,260.0 369.1,260.4 369.4,261.3 369.6,262.8 369.9,264.2 370.1,265.6 370.4,266.9 370.6,265.6 370.9,264.3 371.1,263.0 371.4,261.6 371.6,261.0 371.9,260.8 372.1,260.5 372.4,260.3 372.6,260.1 372.9,260.2 373.1,260.3 373.4,260.4 373.6,260.5 373.9,262.1 374.1,264.1 374.4,266.0 374.6,267.9 374.9,268.5 375.1,267.3 375.4,266.2 375.6,265.1 375.9,263.9 376.1,261.2 376.4,258.6 376.6,255.9 376.9,253.6 377.1,255.3 377.4,259.1 377.6,263.0 377.9,266.9 378.1,269.8 378.4,269.5 378.6,269.1 378.9,268.8 379.1,268.4 379.4,267.9 379.6,267.4 379.9,266.9 380.1,266.4 380.4,265.7 380.6,264.9 380.9,264.0 381.1,263.2 381.4,262.4 381.6,264.4 381.9,266.7 382.1,269.1 382.4,271.5 382.6,270.2 382.9,266.7 383.1,265.1 383.4,263.5 383.6,264.0 383.9,267.8 384.1,270.8 384.4,273.3 384.6,277.0 384.9,275.6 385.1,273.2 385.4,270.9 385.6,268.7 385.9,267.8 386.1,270.5 386.4,273.1 386.6,275.7 386.9,275.3 387.1,274.7 387.4,274.0 387.6,274.6 387.9,275.9 388.1,276.0 388.4,275.4 388.6,274.8 388.9,274.4 389.1,274.1 389.4,274.2 389.6,274.4 389.9,274.7 390.1,275.1 390.4,275.1 390.6,275.2 390.9,275.7 391.1,276.7 391.4,279.7 391.6,285.6 391.9,293.2 392.1,303.4 392.4,317.1 392.6,331.0 392.9,344.7 393.1,347.7 393.4,335.5 393.6,319.3 393.9,306.4 394.1,297.7 394.4,292.3 394.6,288.5 394.9,284.4 395.1,281.1 395.4,278.5 395.6,276.4 395.9,276.9 396.1,278.1 396.4,279.4 396.6,280.9 396.9,280.7 397.1,278.6 397.4,276.5 397.6,274.5 397.9,272.7 398.1,275.6 398.4,278.5 398.6,281.4 398.9,284.5 399.1,283.6 399.4,280.7 399.6,277.9 399.9,275.3 400.1,274.2 400.4,277.4 400.6,281.0 400.9,285.1 401.1,289.7 401.4,292.4 401.6,295.9 401.9,301.1 402.1,309.4 402.4,323.1 402.6,343.2 402.9,365.3 403.1,379.0 403.4,374.0 403.6,354.9 403.9,334.5 404.1,318.6 404.4,307.8 404.6,299.2 404.9,292.3 405.1,287.0 405.4,282.8 405.6,280.1 405.9,280.7 406.1,281.6 406.4,282.8 406.6,284.1 406.9,282.7 407.1,281.0 407.4,279.3 407.6,277.7 407.9,276.8 408.1,276.7 408.4,276.7 408.6,276.8 408.9,276.8 409.1,275.4 409.4,274.5 409.6,275.2 409.9,276.0 410.1,277.6 410.4,277.2 410.6,276.0 410.9,274.9 411.1,274.6 411.4,274.9 411.6,275.2 411.9,275.2 412.1,275.2 412.4,275.2 412.6,275.2 412.9,275.2 413.1,275.2 413.4,274.5 413.6,272.9 413.9,271.3 414.1,269.7 414.4,268.3 414.6,268.5 414.9,268.9 415.1,269.4 415.4,270.2 415.6,272.3 415.9,278.6 416.1,290.0 416.4,301.1 416.6,307.5 416.9,296.5 417.1,285.2 417.4,273.8 417.6,270.8 417.9,270.8 418.1,271.6 418.4,272.5 418.6,273.6 418.9,273.9 419.1,273.0 419.4,273.0 419.6,273.0 419.9,273.2 420.1,274.9 420.4,276.7 420.6,278.5 420.9,280.4 421.1,281.1 421.4,281.1 421.6,281.2 421.9,280.3 422.1,279.4 422.4,278.5 422.6,277.6 422.9,276.8 423.1,276.0 423.4,277.5 423.6,279.5 423.9,281.4 424.1,283.5 424.4,285.3 424.6,286.0 424.9,286.7 425.1,287.4 425.4,288.2 425.6,288.4 425.9,288.7 426.1,289.2 426.4,289.8 426.6,291.1 426.9,295.9 427.1,305.8 427.4,315.5 427.6,321.7 427.9,315.6 428.1,308.9 428.4,302.1 428.6,303.8 428.9,301.5 429.1,298.6 429.4,295.5 429.6,292.5 429.9,291.3 430.1,292.5 430.4,293.7 430.6,294.7 430.9,295.7 431.1,295.2 431.4,294.6 431.6,294.0 431.9,293.8 432.1,293.6 432.4,293.2 432.6,292.7 432.9,292.3 433.1,291.8 433.4,291.7 433.6,291.5 433.9,291.3 434.1,291.0 434.4,290.7 434.6,290.5 434.9,290.2 435.1,289.9 435.4,288.8 435.6,286.5 435.9,284.2 436.1,281.9 436.4,279.8 436.6,279.5 436.9,279.3 437.1,279.2 437.4,279.2 437.6,279.5 437.9,280.1 438.1,280.8 438.4,281.5 438.6,282.0 438.9,281.7 439.1,281.4 439.4,280.9 439.6,280.4 439.9,280.0 440.1,279.7 440.4,280.0 440.6,281.3 440.9,282.3 441.1,282.1 441.4,279.3 441.6,276.4 441.9,274.1 442.1,275.2 442.4,276.2 442.6,277.3 442.9,278.4 443.1,278.5 443.4,278.0 443.6,277.5 443.9,277.0 444.1,276.9 444.4,277.7 444.6,278.5 444.9,279.4 445.1,280.3 445.4,279.2 445.6,277.8 445.9,276.5 446.1,275.1 446.4,274.4 446.6,274.6 446.9,274.6 447.1,274.7 447.4,274.8 447.6,275.6 447.9,276.4 448.1,277.2 448.4,278.0 448.6,278.7 448.9,279.4 449.1,280.0 449.4,280.9 449.6,281.0 449.9,278.8 450.1,276.7 450.4,274.5 450.6,272.4 450.9,272.5 451.1,273.1 451.4,273.7 451.6,274.2 451.9,275.1 452.1,276.6 452.4,278.1 452.6,279.7 452.9,281.0 453.1,276.8 453.4,272.6 453.6,268.4 453.9,264.2 454.1,264.6 454.4,268.0 454.6,271.4 454.9,274.8 455.1,277.1 455.4,276.3 455.6,275.5 455.9,274.7 456.1,273.9 456.4,274.3 456.6,274.9 456.9,274.8 457.1,274.8 457.4,273.9 457.6,271.8 457.9,269.7 458.1,267.6 458.4,265.7 458.6,266.7 458.9,267.7 459.1,268.8 459.4,270.7 459.6,270.8 459.9,269.9 460.1,269.1 460.4,268.2 460.6,267.5 460.9,267.1 461.1,266.8 461.4,266.5 461.6,266.1 461.9,267.9 462.1,270.1 462.4,272.4 462.6,274.6 462.9,275.8 463.1,275.5 463.4,275.2 463.6,274.9 463.9,274.5 464.1,273.2 464.4,271.5 464.6,269.8 464.9,268.1 465.1,268.4 465.4,269.7 465.6,271.0 465.9,272.4 466.1,272.6 466.4,269.4 466.6,266.3 466.9,263.8 467.1,261.4 467.4,263.5 467.6,266.4 467.9,269.3 468.1,272.2 468.4,274.4 468.6,275.6 468.9,276.8 469.1,277.9 469.4,278.2 469.6,276.9 469.9,275.6 470.1,274.2 470.4,272.9 470.6,272.0 470.9,271.3 471.1,270.6 471.4,269.9 471.6,269.1 471.9,268.7 472.1,268.2 472.4,267.7 472.6,267.3 472.9,267.9 473.1,268.6 473.4,269.4 473.6,270.2 473.9,270.5 474.1,270.1 474.4,269.9 474.6,269.8 474.9,269.9 475.1,271.2 475.4,272.6 475.6,274.1 475.9,275.7 476.1,277.8 476.4,280.3 476.6,282.8 476.9,284.9 477.1,286.8 477.4,287.6 477.6,288.3 477.9,289.0 478.1,289.5 478.4,289.3 478.6,288.7 478.9,288.1 479.1,287.3 479.4,287.5 479.6,288.6 479.9,289.7 480.1,290.9 480.4,292.4 480.6,295.3 480.9,299.0 481.1,303.9 481.4,310.9 481.6,318.9 481.9,328.8 482.1,337.8 482.4,336.6 482.6,324.0 482.9,310.3 483.1,299.6 483.4,292.3 483.6,287.3 483.9,283.9 484.1,281.5 484.4,279.8 484.6,278.6 484.9,277.3 485.1,275.8 485.4,274.5 485.6,273.3 485.9,272.3 486.1,272.0 486.4,271.8 486.6,271.7 486.9,271.8 487.1,271.3 487.4,270.3 487.6,269.3 487.9,268.4 488.1,268.7 488.4,272.7 488.6,276.7 488.9,280.7 489.1,284.8 489.4,282.9 489.6,280.1 489.9,277.4 490.1,274.7 490.4,273.0 490.6,272.3 490.9,271.8 491.1,271.5 491.4,271.6 491.6,274.2 491.9,278.3 492.1,283.5 492.4,290.3 492.6,299.8 492.9,312.9 493.1,329.7 493.4,346.3 493.6,351.9 493.9,340.0 494.1,322.3 494.4,306.0 494.6,293.5 494.9,286.4 495.1,281.8 495.4,278.5 495.6,276.1 495.9,274.2 496.1,272.5 496.4,271.2 496.6,270.0 496.9,269.5 497.1,270.7 497.4,272.0 497.6,273.3 497.9,274.7 498.1,274.8 498.4,274.1 498.6,273.5 498.9,272.9 499.1,272.8 499.4,274.0 499.6,275.2 499.9,276.4 500.1,277.7 500.4,275.8 500.6,273.3 500.9,270.8 501.1,268.3 501.4,267.0 501.6,267.3 501.9,268.2 502.1,269.1 502.4,270.0 502.6,270.3 502.9,270.7 503.1,271.1 503.4,271.5 503.6,271.9 503.9,272.4 504.1,272.8 504.4,272.7 504.6,272.8 504.9,273.6 505.1,274.3 505.4,275.0 505.6,275.8 505.9,274.9 506.1,273.7 506.4,272.5 506.6,271.3 506.9,270.3 507.1,269.1 507.4,267.9 507.6,266.7 507.9,265.6 508.1,267.0 508.4,268.4 508.6,269.8 508.9,271.2 509.1,271.0 509.4,269.9 509.6,268.8 509.9,267.6 510.1,267.1 510.4,268.2 510.6,269.3 510.9,270.5 511.1,271.6 511.4,272.2 511.6,272.7 511.9,273.4 512.1,274.2 512.4,274.3 512.6,273.3 512.9,272.4 513.1,271.4 513.4,270.5 513.6,272.2 513.9,273.8 514.1,275.4 514.4,276.5 514.6,276.7 514.9,276.5 515.1,276.2 515.4,276.0 515.6,275.4 515.9,273.8 516.1,272.1 516.4,270.4 516.6,268.8 516.9,268.1 517.1,267.6 517.4,267.1 517.6,266.6 517.9,267.7 518.1,271.1 518.4,274.4 518.6,277.7 518.9,280.8 519.1,278.4 519.4,275.8 519.6,273.2 519.9,270.6 520.1,271.1 520.4,273.4 520.6,275.8 520.9,278.1 521.1,279.3 521.4,276.9 521.6,274.6 521.9,272.4 522.1,270.1 522.4,269.5 522.6,269.2 522.9,268.8 523.1,268.5 523.4,268.9 523.6,270.3 523.9,271.7 524.1,273.0 524.4,274.3 524.6,273.0 524.9,271.8 525.1,270.5 525.4,269.2 525.6,269.0 525.9,269.5 526.1,270.0 526.4,270.5 526.6,270.8 526.9,270.7 527.1,270.6 527.4,270.4 527.6,270.3 527.9,272.2 528.1,274.5 528.4,276.8 528.6,279.1 528.9,279.2 529.1,276.5 529.4,273.4 529.6,270.4 529.9,267.7 530.1,270.7 530.4,273.8 530.6,276.9 530.9,280.0 531.1,279.2 531.4,276.1 531.6,273.1 531.9,270.5 532.1,268.7 532.4,269.6 532.6,270.4 532.9,271.3 533.1,272.2 533.4,273.3 533.6,274.3 533.9,275.4 534.1,276.5 534.4,277.1 534.6,277.8 534.9,278.5 535.1,279.2 535.4,279.7 535.6,277.2 535.9,274.7 536.1,272.2 536.4,269.6 536.6,269.2 536.9,270.3 537.1,271.4 537.4,272.6 537.6,273.5 537.9,273.3 538.1,274.8 538.4,276.3 538.6,277.6 538.9,278.3 539.1,278.6 539.4,278.5 539.6,279.4 539.9,279.1 540.1,276.7 540.4,274.2 540.6,271.8 540.9,269.5 541.1,269.7 541.4,269.8 541.6,270.0 541.9,270.3 542.1,272.2 542.4,274.9 542.6,277.5 542.9,280.2 543.1,282.1 543.4,281.2 543.6,280.3 543.9,279.4 544.1,278.5 544.4,277.8 544.6,277.0 544.9,276.3 545.1,275.5 545.4,275.1 545.6,275.1 545.9,275.1 546.1,275.1 546.4,275.1 546.6,275.4 546.9,275.5 547.1,275.6 547.4,275.8 547.6,275.6 547.9,275.3 548.1,275.0 548.4,274.7 548.6,274.4 548.9,274.0 549.1,273.6 549.4,272.9 549.6,272.3 549.9,272.4 550.1,272.6 550.4,272.7 550.6,272.9 550.9,273.5 551.1,274.4 551.4,275.4 551.6,276.3 551.9,277.7 552.1,277.6 552.4,277.4 552.6,277.3 552.9,277.2 553.1,278.2 553.4,279.8 553.6,281.5 553.9,283.2 554.1,284.1 554.4,282.1 554.6,280.1 554.9,278.1 555.1,276.1 555.4,274.9 555.6,273.8 555.9,272.7 556.1,271.6 556.4,271.5 556.6,272.6 556.9,274.1 557.1,275.6 557.4,277.1 557.6,278.2 557.9,279.3 558.1,280.4 558.4,281.5 558.6,279.7 558.9,276.3 559.1,272.9 559.4,269.6 559.6,267.6 559.9,269.9 560.1,272.2 560.4,274.5 560.6,276.8 560.9,277.9 561.1,278.9 561.4,279.8 561.6,280.8 561.9,280.7 562.1,279.6 562.4,278.6 562.6,277.5 562.9,276.4 563.1,274.3 563.4,272.3 563.6,270.3 563.9,268.4 564.1,270.7 564.4,275.7 564.6,280.9 564.9,292.9 565.1,304.6 565.4,309.6 565.6,303.8 565.9,290.7 566.1,277.2 566.4,272.5 566.6,274.0 566.9,275.3 567.1,276.9 567.4,278.4 567.6,279.6 567.9,281.1 568.1,283.1 568.4,287.0 568.6,287.0 568.9,286.9 569.1,281.6 569.4,276.1 569.6,274.4 569.9,276.9 570.1,280.0 570.4,283.1 570.6,285.0 570.9,283.2 571.1,281.4 571.4,279.6 571.6,277.9 571.9,277.7 572.1,277.8 572.4,277.9 572.6,278.0 572.9,277.4 573.1,275.9 573.4,274.4 573.6,272.9 573.9,271.7 574.1,274.8 574.4,277.9 574.6,281.1 574.9,284.2 575.1,284.5 575.4,283.2 575.6,281.8 575.9,280.5 576.1,280.0 576.4,282.6 576.6,285.1 576.9,287.5 577.1,289.8 577.4,287.2 577.6,283.6 577.9,280.0 578.1,276.4 578.4,276.1 578.6,279.7 578.9,283.4 579.1,287.1 579.4,290.3 579.6,289.1 579.9,287.9 580.1,286.7 580.4,285.6 580.6,284.3 580.9,283.0 581.1,281.8 581.4,280.6 581.6,280.1 581.9,282.6 582.1,285.1 582.4,287.7 582.6,290.2 582.9,290.5 583.1,290.4 583.4,290.3 583.6,290.2 583.9,290.0 584.1,289.6 584.4,289.0 584.6,288.3 584.9,287.9 585.1,290.3 585.4,292.9 585.6,295.8 585.9,298.8 586.1,302.3 586.4,306.3 586.6,310.2 586.9,314.4 587.1,317.0 587.4,314.4 587.6,311.8 587.9,309.0 588.1,306.2 588.4,309.4 588.6,313.7 588.9,317.8 589.1,321.9 589.4,324.4 589.6,325.1 589.9,325.7 590.1,326.3 590.4,326.9 590.6,327.2 590.9,327.4 591.1,327.7 591.4,327.8 591.6,329.5 591.9,331.6 592.1,333.8 592.4,335.8 592.6,337.0 592.9,335.4 593.1,333.9 593.4,332.4 593.6,330.8 593.9,331.8 594.1,333.2 594.4,335.0 594.6,336.9 594.9,337.6 595.1,337.0 595.4,336.4 595.6,335.7 595.9,335.1 596.1,336.5 596.4,337.7 596.6,339.0 596.9,340.2 597.1,340.9 597.4,341.4 597.6,341.9 597.9,342.3 598.1,342.5 598.4,341.8 598.6,341.1 598.9,340.4"/>
</g>
<g fill="none" stroke="#222" stroke-width="1"><rect x="38.3" y="0.5" width="265.2" height="383.0"/><rect x="334.3" y="0.5" width="264.7" height="383.0"/><path d="M50.4 383.5v-3.6M50.4 0.5v3.6M62.4 383.5v-3.6M62.4 0.5v3.6M74.5 383.5v-7.2M74.5 0.5v7.2M86.5 383.5v-3.6M86.5 0.5v3.6M98.6 383.5v-3.6M98.6 0.5v3.6M110.7 383.5v-3.6M110.7 0.5v3.6M122.7 383.5v-3.6M122.7 0.5v3.6M134.8 383.5v-7.2M134.8 0.5v7.2M146.8 383.5v-3.6M146.8 0.5v3.6M158.9 383.5v-3.6M158.9 0.5v3.6M171.0 383.5v-3.6M171.0 0.5v3.6M183.0 383.5v-3.6M183.0 0.5v3.6M195.1 383.5v-7.2M195.1 0.5v7.2M207.1 383.5v-3.6M207.1 0.5v3.6M219.2 383.5v-3.6M219.2 0.5v3.6M231.3 383.5v-3.6M231.3 0.5v3.6M243.3 383.5v-3.6M243.3 0.5v3.6M255.4 383.5v-7.2M255.4 0.5v7.2M267.4 383.5v-3.6M267.4 0.5v3.6M279.5 383.5v-3.6M279.5 0.5v3.6M291.6 383.5v-3.6M291.6 0.5v3.6M38.3 363.3h2.8M303.5 363.3h-2.8M38.3 343.6h2.8M303.5 343.6h-2.8M38.3 324.0h5.4M303.5 324.0h-5.4M38.3 304.4h2.8M303.5 304.4h-2.8M38.3 284.7h2.8M303.5 284.7h-2.8M38.3 265.1h2.8M303.5 265.1h-2.8M38.3 245.5h2.8M303.5 245.5h-2.8M38.3 225.8h5.4M303.5 225.8h-5.4M38.3 206.2h2.8M303.5 206.2h-2.8M38.3 186.6h2.8M303.5 186.6h-2.8M38.3 166.9h2.8M303.5 166.9h-2.8M38.3 147.3h2.8M303.5 147.3h-2.8M38.3 127.7h5.4M303.5 127.7h-5.4M38.3 108.0h2.8M303.5 108.0h-2.8M38.3 88.4h2.8M303.5 88.4h-2.8M38.3 68.8h2.8M303.5 68.8h-2.8M38.3 49.1h2.8M303.5 49.1h-2.8M38.3 29.5h5.4M303.5 29.5h-5.4M38.3 9.9h2.8M303.5 9.9h-2.8M346.3 383.5v-3.6M346.3 0.5v3.6M358.4 383.5v-3.6M358.4 0.5v3.6M370.4 383.5v-7.2M370.4 0.5v7.2M382.4 383.5v-3.6M382.4 0.5v3.6M394.5 383.5v-3.6M394.5 0.5v3.6M406.5 383.5v-3.6M406.5 0.5v3.6M418.5 383.5v-3.6M418.5 0.5v3.6M430.6 383.5v-7.2M430.6 0.5v7.2M442.6 383.5v-3.6M442.6 0.5v3.6M454.6 383.5v-3.6M454.6 0.5v3.6M466.7 383.5v-3.6M466.7 0.5v3.6M478.7 383.5v-3.6M478.7 0.5v3.6M490.7 383.5v-7.2M490.7 0.5v7.2M502.8 383.5v-3.6M502.8 0.5v3.6M514.8 383.5v-3.6M514.8 0.5v3.6M526.8 383.5v-3.6M526.8 0.5v3.6M538.9 383.5v-3.6M538.9 0.5v3.6M550.9 383.5v-7.2M550.9 0.5v7.2M562.9 383.5v-3.6M562.9 0.5v3.6M575.0 383.5v-3.6M575.0 0.5v3.6M587.0 383.5v-3.6M587.0 0.5v3.6M334.3 363.0h5.4M599.0 363.0h-5.4M334.3 343.2h2.8M599.0 343.2h-2.8M334.3 323.4h2.8M599.0 323.4h-2.8M334.3 303.6h2.8M599.0 303.6h-2.8M334.3 283.8h2.8M599.0 283.8h-2.8M334.3 264.0h5.4M599.0 264.0h-5.4M334.3 244.2h2.8M599.0 244.2h-2.8M334.3 224.4h2.8M599.0 224.4h-2.8M334.3 204.6h2.8M599.0 204.6h-2.8M334.3 184.8h2.8M599.0 184.8h-2.8M334.3 165.0h5.4M599.0 165.0h-5.4M334.3 145.2h2.8M599.0 145.2h-2.8M334.3 125.4h2.8M599.0 125.4h-2.8M334.3 105.6h2.8M599.0 105.6h-2.8M334.3 85.8h2.8M599.0 85.8h-2.8M334.3 66.0h5.4M599.0 66.0h-5.4M334.3 46.2h2.8M599.0 46.2h-2.8M334.3 26.4h2.8M599.0 26.4h-2.8M334.3 6.6h2.8M599.0 6.6h-2.8"/></g>
<g fill="none" stroke="#111" stroke-width="0.9">
<path d="M88.0 197.5L88.0 202.0"/><path d="M83.4 221.5L83.4 216.6L97.5 216.6L97.5 221.5M85.4 216.6L85.4 221.5M87.2 216.6L87.2 221.5M92.0 216.6L92.0 221.5"/><path d="M97.6 229.5L97.6 225.0L107.6 225.0L107.6 229.5"/><path d="M115.5 214.0L115.5 209.4L128.8 209.4L128.8 214.0"/><path d="M114.4 229.0L114.4 233.5"/><path d="M122.5 233.0L122.5 237.5"/><path d="M132.0 235.6L132.0 231.0L141.4 231.0L141.4 235.6M136.2 231.0L136.2 235.6"/><path d="M139.8 245.6L139.8 241.0L146.0 241.0L146.0 245.6"/><path d="M85.7 248.0L85.7 253.0L88.4 253.0L88.4 248.0"/><path d="M92.0 244.0L92.0 249.0L99.2 249.0L99.2 244.0"/><path d="M90.6 263.5L90.6 268.0L105.4 268.0L105.4 263.5M94.0 268.0L94.0 263.5M95.0 268.0L95.0 263.5"/><path d="M122.0 258.0L122.0 262.5L128.0 262.5L128.0 258.0"/><path d="M108.8 269.8L108.8 274.4L121.2 274.4L121.2 269.8"/><path d="M133.8 275.0L133.8 279.4L149.0 279.4L149.0 275.0M139.2 279.4L139.2 275.0M145.5 279.4L145.5 275.0"/><path d="M167.6 255.5L167.6 250.7L182.4 250.7L182.4 255.5"/><path d="M187.2 261.4L187.2 256.8L198.2 256.8L198.2 261.4"/><path d="M205.4 260.5L205.4 265.5"/><path d="M211.9 269.0L211.9 264.5L217.2 264.5L217.2 269.0M212.9 264.5L212.9 269.0"/><path d="M162.4 269.5L162.4 274.0L176.4 274.0L176.4 269.5"/><path d="M185.7 275.0L185.7 280.2"/><path d="M187.0 275.0L187.0 280.2"/><path d="M209.0 281.6L209.0 286.3"/><path d="M217.2 282.3L217.2 287.7"/><path d="M241.1 272.3L241.1 277.0"/><path d="M259.4 283.0L259.4 278.0L267.5 278.0L267.5 283.0"/><path d="M270.6 285.0L270.6 280.0L273.6 280.0L273.6 285.0"/><path d="M290.9 271.4L290.9 266.6L298.3 266.6L298.3 271.4"/><path d="M290.6 290.5L290.6 285.8L294.6 285.8L294.6 290.5M292.6 285.8L292.6 290.5"/><path d="M243.6 293.5L243.6 298.0L252.8 298.0L252.8 293.5"/><path d="M259.8 305.6L259.8 310.3L272.0 310.3L272.0 305.6"/><path d="M273.6 313.0L273.6 317.8"/><path d="M277.0 302.0L277.0 307.6"/><path d="M290.9 307.0L290.9 312.4L293.6 312.4L293.6 307.0"/><path d="M233.5 82.5L233.5 88.5"/><path d="M383.9 23.0L383.9 28.4"/><path d="M381.9 45.3L381.9 40.5L387.6 40.5L387.6 45.3M384.0 40.5L384.0 45.3"/><path d="M393.8 45.3L393.8 40.5L403.2 40.5L403.2 45.3"/><path d="M410.1 43.2L410.1 48.0"/><path d="M411.5 29.7L411.5 25.0L424.7 25.0L424.7 29.7"/><path d="M418.0 53.5L418.0 48.8L427.7 48.8L427.7 53.5M425.0 48.8L425.0 53.5"/><path d="M429.5 55.5L429.5 50.8L443.5 50.8L443.5 55.5M434.5 50.8L434.5 55.5M440.1 50.8L440.1 55.5"/><path d="M453.9 57.6L453.9 52.9L458.6 52.9L458.6 57.6"/><path d="M463.8 59.6L463.8 54.8L478.4 54.8L478.4 59.6"/><path d="M483.0 59.6L483.0 54.6L493.5 54.6L493.5 59.6"/><path d="M493.8 45.0L493.8 50.0"/><path d="M503.2 65.7L503.2 61.0L519.7 61.0L519.7 65.7M512.0 61.0L512.0 65.7"/><path d="M529.5 31.0L529.5 36.0"/><path d="M529.0 69.0L529.0 64.3L532.6 64.3L532.6 69.0M530.8 64.3L530.8 69.0"/><path d="M541.0 51.4L541.0 46.6L544.0 46.6L544.0 51.4"/><path d="M552.2 39.2L552.2 44.0"/><path d="M555.8 53.4L555.8 49.0L567.6 49.0L567.6 53.4"/><path d="M539.6 71.4L539.6 66.8L548.4 66.8L548.4 71.4"/><path d="M552.8 73.1L552.8 68.6L560.5 68.6L560.5 73.1"/><path d="M575.7 70.4L575.7 75.4"/><path d="M577.0 64.3L577.0 69.0"/><path d="M585.8 77.6L585.8 72.4L589.6 72.4L589.6 77.6M587.7 72.4L587.7 77.6"/><path d="M356.5 77.8L356.5 72.4L359.3 72.4L359.3 77.8"/><path d="M381.6 68.3L381.6 72.8L405.3 72.8L405.3 68.3M384.0 72.8L384.0 68.3M387.6 72.8L387.6 68.3M393.8 72.8L393.8 68.3"/><path d="M404.3 75.8L404.3 81.2L406.4 81.2L406.4 75.8"/><path d="M416.9 79.9L416.9 84.6L427.7 84.6L427.7 79.9"/><path d="M435.8 76.5L435.8 81.0L441.2 81.0L441.2 76.5"/><path d="M482.0 75.8L482.0 80.5"/><path d="M483.3 75.8L483.3 80.5"/><path d="M498.5 79.2L498.5 84.0L509.3 84.0L509.3 79.2M505.3 84.0L505.3 79.2"/><path d="M512.7 90.0L512.7 94.8"/><path d="M528.3 91.8L528.3 96.5L536.7 96.5L536.7 91.8M530.3 96.5L530.3 91.8"/><path d="M529.5 110.0L529.5 114.5"/><path d="M543.4 83.2L543.4 88.2"/><path d="M555.3 86.5L555.3 91.0L563.8 91.0L563.8 86.5"/><path d="M565.8 96.8L565.8 101.8L569.0 101.8L569.0 96.8"/><path d="M572.6 85.5L572.6 90.0"/><path d="M423 261.5L423 256.8L438.6 256.8"/><path d="M477.6 261.5L477.6 256.8L493.4 256.8"/>
</g>
<g>
<text x="88.0" y="193.0" font-size="8.3" text-anchor="middle">Cr</text><text x="90.0" y="212.4" font-size="8.3" text-anchor="middle">Fe</text><text x="102.3" y="220.0" font-size="8.3" text-anchor="middle">K</text><text x="121.8" y="204.5" font-size="8.3" text-anchor="middle">Ca II</text><text x="114.0" y="224.5" font-size="8.3" text-anchor="middle">Mg</text><text x="125.6" y="228.0" font-size="8.3" text-anchor="middle">C</text><text x="136.3" y="226.0" font-size="8.3" text-anchor="middle">Fe</text><text x="149.0" y="236.4" font-size="8.3" text-anchor="middle">Mg</text><text x="82.0" y="264.4" font-size="8.3" text-anchor="middle">Si</text><text x="95.0" y="260.0" font-size="8.3" text-anchor="middle">Si</text><text x="97.3" y="280.0" font-size="8.3" text-anchor="middle">C</text><text x="125.3" y="274.0" font-size="8.3" text-anchor="middle">Ti</text><text x="115.5" y="286.6" font-size="8.3" text-anchor="middle">Fe</text><text x="141.0" y="291.4" font-size="8.3" text-anchor="middle">Si</text><text x="175.0" y="246.3" font-size="8.3" text-anchor="middle">Si</text><text x="192.6" y="252.0" font-size="8.3" text-anchor="middle">K</text><text x="204.0" y="255.8" font-size="8.3" text-anchor="middle">Si</text><text x="214.5" y="259.8" font-size="8.3" text-anchor="middle">Fe</text><text x="169.6" y="286.0" font-size="8.3" text-anchor="middle">Fe</text><text x="186.2" y="291.4" font-size="8.3" text-anchor="middle">Mg</text><text x="209.0" y="297.4" font-size="8.3" text-anchor="middle">C</text><text x="223.0" y="299.9" font-size="8.3" text-anchor="middle">Na</text><text x="240.9" y="267.6" font-size="8.3" text-anchor="middle">Fe</text><text x="259.1" y="273.3" font-size="8.3" text-anchor="middle">Si</text><text x="272.0" y="275.0" font-size="8.3" text-anchor="middle">Al</text><text x="294.2" y="261.8" font-size="8.3" text-anchor="middle">Fe</text><text x="292.2" y="281.0" font-size="8.3" text-anchor="middle">Si</text><text x="247.9" y="310.0" font-size="8.3" text-anchor="middle">Mn</text><text x="265.6" y="321.4" font-size="8.3" text-anchor="middle">Ca</text><text x="279.4" y="329.3" font-size="8.3" text-anchor="middle">Fe</text><text x="281.1" y="319.4" font-size="8.3" text-anchor="middle">Si</text><text x="292.2" y="323.5" font-size="8.3" text-anchor="middle">Mn</text><text x="228.6" y="79.0" font-size="8.3" text-anchor="middle">Pa</text><text x="240.5" y="79.0" font-size="8.3" text-anchor="middle">β</text><text x="289.0" y="103.2" font-size="8.5" text-anchor="middle">F3 V</text><text x="289.0" y="165.8" font-size="8.5" text-anchor="middle">F5 V</text><text x="289.0" y="222.2" font-size="8.5" text-anchor="middle">F9 V</text><text x="289.0" y="254.6" font-size="8.5" text-anchor="middle">G2 V</text><text x="289.0" y="343.0" font-size="8.5" text-anchor="middle">G8 V</text><text x="383.9" y="18.5" font-size="8.3" text-anchor="middle">Cr</text><text x="384.6" y="36.1" font-size="8.3" text-anchor="middle">Si</text><text x="398.4" y="35.8" font-size="8.3" text-anchor="middle">K</text><text x="409.7" y="38.5" font-size="8.3" text-anchor="middle">Mg</text><text x="417.5" y="20.5" font-size="8.3" text-anchor="middle">Ca II</text><text x="423.0" y="43.9" font-size="8.3" text-anchor="middle">Ti</text><text x="435.8" y="46.5" font-size="8.3" text-anchor="middle">Si</text><text x="455.6" y="48.2" font-size="8.3" text-anchor="middle">Fe</text><text x="470.9" y="50.3" font-size="8.3" text-anchor="middle">Si</text><text x="488.4" y="50.0" font-size="8.3" text-anchor="middle">K</text><text x="493.8" y="40.6" font-size="8.3" text-anchor="middle">Cr</text><text x="512.0" y="56.2" font-size="8.3" text-anchor="middle">Ti</text><text x="525.4" y="26.2" font-size="8.3" text-anchor="middle">Pa</text><text x="536.6" y="26.2" font-size="8.3" text-anchor="middle">β</text><text x="531.2" y="59.9" font-size="8.3" text-anchor="middle">Ti</text><text x="541.6" y="42.9" font-size="8.3" text-anchor="middle">Cr</text><text x="552.2" y="34.4" font-size="8.3" text-anchor="middle">Fe</text><text x="561.2" y="44.2" font-size="8.3" text-anchor="middle">Ca</text><text x="543.6" y="61.9" font-size="8.3" text-anchor="middle">Mn</text><text x="557.2" y="63.3" font-size="8.3" text-anchor="middle">Ti</text><text x="569.7" y="66.0" font-size="8.3" text-anchor="middle">Cr</text><text x="576.8" y="59.9" font-size="8.3" text-anchor="middle">Ni</text><text x="587.3" y="68.0" font-size="8.3" text-anchor="middle">Mn</text><text x="576.8" y="20.3" font-size="8.5" text-anchor="middle">K1.5 III</text><text x="357.3" y="68.0" font-size="8.3" text-anchor="middle">Na</text><text x="393.4" y="84.2" font-size="8.3" text-anchor="middle">Fe</text><text x="405.6" y="92.0" font-size="8.3" text-anchor="middle">Ti</text><text x="422.3" y="96.0" font-size="8.3" text-anchor="middle">Fe</text><text x="438.2" y="92.3" font-size="8.3" text-anchor="middle">Mg</text><text x="482.3" y="92.3" font-size="8.3" text-anchor="middle">Mg</text><text x="503.3" y="95.4" font-size="8.3" text-anchor="middle">Fe</text><text x="512.6" y="105.7" font-size="8.3" text-anchor="middle">Na</text><text x="532.0" y="108.3" font-size="8.3" text-anchor="middle">Fe</text><text x="529.0" y="126.0" font-size="8.3" text-anchor="middle">Ca</text><text x="543.0" y="99.8" font-size="8.3" text-anchor="middle">Ni</text><text x="559.0" y="102.0" font-size="8.3" text-anchor="middle">Si</text><text x="567.3" y="113.8" font-size="8.3" text-anchor="middle">Al</text><text x="576.6" y="102.0" font-size="8.3" text-anchor="middle">Si</text><text x="585.5" y="140.8" font-size="8.5" text-anchor="middle">K1 V</text><text x="585.5" y="180.6" font-size="8.5" text-anchor="middle">K7 V</text><text x="585.5" y="223.3" font-size="8.5" text-anchor="middle">M3 V</text><text x="585.5" y="264.9" font-size="8.5" text-anchor="middle">M7 V</text><text x="431.5" y="252.5" font-size="8.3" text-anchor="middle">FeH</text><text x="486.0" y="252.5" font-size="8.3" text-anchor="middle">FeH</text><text x="33.1" y="329.4" font-size="10.7" text-anchor="end">1.0</text><text x="33.1" y="231.2" font-size="10.7" text-anchor="end">1.5</text><text x="33.1" y="133.1" font-size="10.7" text-anchor="end">2.0</text><text x="33.1" y="34.9" font-size="10.7" text-anchor="end">2.5</text><text x="73.1" y="397.6" font-size="10.6" text-anchor="middle">1.15</text><text x="133.4" y="397.6" font-size="10.6" text-anchor="middle">1.20</text><text x="193.7" y="397.6" font-size="10.6" text-anchor="middle">1.25</text><text x="254.0" y="397.6" font-size="10.6" text-anchor="middle">1.30</text><text x="163.3" y="414.0" font-size="10.3" text-anchor="middle">Wavelength (µm)</text><text x="329.1" y="368.4" font-size="10.7" text-anchor="end">0.5</text><text x="329.1" y="269.4" font-size="10.7" text-anchor="end">1.0</text><text x="329.1" y="170.4" font-size="10.7" text-anchor="end">1.5</text><text x="329.1" y="71.4" font-size="10.7" text-anchor="end">2.0</text><text x="369.0" y="397.6" font-size="10.6" text-anchor="middle">1.15</text><text x="429.2" y="397.6" font-size="10.6" text-anchor="middle">1.20</text><text x="489.3" y="397.6" font-size="10.6" text-anchor="middle">1.25</text><text x="549.5" y="397.6" font-size="10.6" text-anchor="middle">1.30</text><text x="459.3" y="414.0" font-size="10.3" text-anchor="middle">Wavelength (µm)</text>
<text transform="translate(9.3 194.6) rotate(-90)" font-size="10" text-anchor="middle"><tspan font-style="italic">f</tspan><tspan font-size="6.5" dy="2">λ</tspan><tspan dy="-2"> /</tspan><tspan font-style="italic">f</tspan><tspan font-size="6.5" dy="2">λ</tspan><tspan dy="-2"> (1.30 µm) + Constant</tspan></text>
</g>
</svg>
</body></html>
